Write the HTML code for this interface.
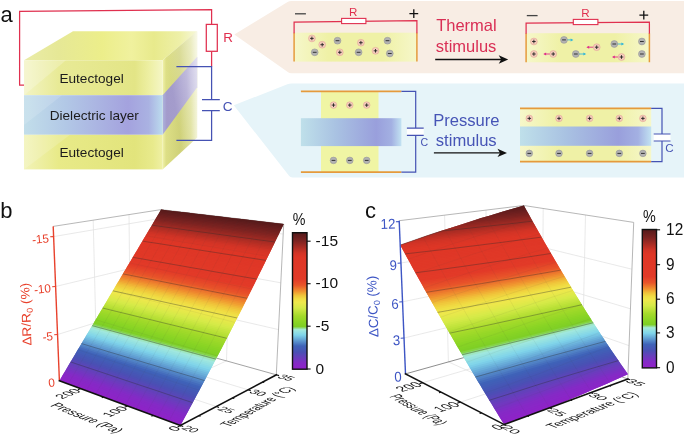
<!DOCTYPE html>
<html lang="en"><head><meta charset="utf-8"><title>Figure</title>
<style>
html,body{margin:0;padding:0;background:#fff;}
body{width:685px;height:436px;overflow:hidden;}
svg{display:block;font-family:'Liberation Sans', sans-serif;}
</style></head><body>
<svg width="685" height="436" viewBox="0 0 685 436">
<defs>
<linearGradient id="cm" x1="0" y1="1" x2="0" y2="0"><stop offset="0.0000" stop-color="#9022c8"/><stop offset="0.0450" stop-color="#842ac6"/><stop offset="0.0850" stop-color="#683ebc"/><stop offset="0.1250" stop-color="#4a50b4"/><stop offset="0.1700" stop-color="#3f63b8"/><stop offset="0.2500" stop-color="#7fd4ea"/><stop offset="0.2900" stop-color="#a4eadc"/><stop offset="0.3125" stop-color="#7ece26"/><stop offset="0.3400" stop-color="#88d424"/><stop offset="0.3900" stop-color="#a4da2a"/><stop offset="0.4500" stop-color="#d6ea48"/><stop offset="0.4900" stop-color="#eee84c"/><stop offset="0.5150" stop-color="#f0de44"/><stop offset="0.5400" stop-color="#f0c43a"/><stop offset="0.5700" stop-color="#f0942f"/><stop offset="0.6150" stop-color="#e8552a"/><stop offset="0.6600" stop-color="#e23a28"/><stop offset="0.8200" stop-color="#de3626"/><stop offset="0.8500" stop-color="#d23426"/><stop offset="0.9400" stop-color="#7c2321"/><stop offset="1.0000" stop-color="#541a1b"/></linearGradient>

<linearGradient id="gYelF" x1="0" y1="0" x2="1" y2="0">
 <stop offset="0" stop-color="#f3f4c4"/><stop offset="0.25" stop-color="#e8ea96"/>
 <stop offset="0.8" stop-color="#e3e586"/><stop offset="0.9" stop-color="#edefa2"/><stop offset="1" stop-color="#f5f6c6"/>
</linearGradient>
<linearGradient id="gYelF2" x1="0" y1="0" x2="1" y2="0">
 <stop offset="0" stop-color="#f2f3b8"/><stop offset="0.25" stop-color="#e8ea88"/>
 <stop offset="0.8" stop-color="#e2e47c"/><stop offset="0.93" stop-color="#e8ea8c"/><stop offset="1" stop-color="#eff0a4"/>
</linearGradient>
<linearGradient id="gDieF" x1="0" y1="0" x2="1" y2="0">
 <stop offset="0" stop-color="#c2deea"/><stop offset="0.3" stop-color="#b2c8e6"/>
 <stop offset="0.75" stop-color="#a4a2de"/><stop offset="0.9" stop-color="#aab2e2"/><stop offset="1" stop-color="#bcdcee"/>
</linearGradient>
<linearGradient id="gTop" x1="0" y1="0" x2="1" y2="0">
 <stop offset="0" stop-color="#eaeca8"/><stop offset="0.2" stop-color="#e6e896"/>
 <stop offset="0.45" stop-color="#ecee8a"/><stop offset="0.62" stop-color="#f0f19e"/>
 <stop offset="0.75" stop-color="#e8ea8c"/><stop offset="0.9" stop-color="#eef0a8"/><stop offset="1" stop-color="#f6f7d8"/>
</linearGradient>
<linearGradient id="gSideY" x1="0" y1="0" x2="1" y2="0">
 <stop offset="0" stop-color="#f1f2aa"/><stop offset="0.1" stop-color="#dddf86"/>
 <stop offset="0.5" stop-color="#cfd178"/><stop offset="0.82" stop-color="#dadc8e"/><stop offset="1" stop-color="#eeefc6"/>
</linearGradient>
<linearGradient id="gSideP" x1="0" y1="0" x2="1" y2="0">
 <stop offset="0" stop-color="#aeb2de"/><stop offset="0.12" stop-color="#a39bcb"/>
 <stop offset="0.7" stop-color="#a59dcd"/><stop offset="1" stop-color="#c2bee0"/>
</linearGradient>
<linearGradient id="gSideFade" x1="1" y1="0" x2="0.3" y2="0.45">
 <stop offset="0" stop-color="#ffffff" stop-opacity="0.6"/><stop offset="1" stop-color="#ffffff" stop-opacity="0"/>
</linearGradient>
<linearGradient id="gGel" x1="0" y1="0" x2="1" y2="0">
 <stop offset="0" stop-color="#f6f7ca"/><stop offset="0.28" stop-color="#eff1a6"/>
 <stop offset="0.72" stop-color="#eff1a6"/><stop offset="1" stop-color="#f6f7ca"/>
</linearGradient>
<linearGradient id="gDie2" x1="0" y1="0" x2="1" y2="0">
 <stop offset="0" stop-color="#bfe0ea"/><stop offset="0.35" stop-color="#a9c2e2"/>
 <stop offset="0.75" stop-color="#999fdc"/><stop offset="0.9" stop-color="#a3b0e2"/><stop offset="1" stop-color="#c2e2f2"/>
</linearGradient>

</defs>
<g id="panel-a">
<text x="0.5" y="21.6" font-size="22.0" fill="#111" text-anchor="start" >a</text>
<path d="M234.3,34.5 L287.6,2 Q289.2,1 291.5,1 L684,1 L684,73.2 L291.5,73.2 Q289.2,73.2 287.8,72 Z" fill="#f8ede4"/>
<path d="M233.8,105.3 L287.4,84.3 Q289.2,83.6 291.5,83.6 L684,83.6 L684,177.4 L292.5,177.4 Q290.2,177.4 289,175.8 Z" fill="#e6f4f9"/>
<polygon points="24.0,60.3 162.6,60.3 197.2,31.2 73.0,31.2" fill="url(#gTop)"/>
<polygon points="162.6,60.3 197.2,31.2 197.2,137.6 162.6,169.4" fill="url(#gSideY)"/>
<polygon points="162.6,95.2 197.2,56.8 197.2,87.3 162.6,134.8" fill="url(#gSideP)"/>
<polygon points="162.6,60.3 197.2,31.2 197.2,137.6 162.6,169.4" fill="url(#gSideFade)"/>
<rect x="24.0" y="60.3" width="138.6" height="34.9" fill="url(#gYelF)"/>
<rect x="24.0" y="95.2" width="138.6" height="39.6" fill="url(#gDieF)"/>
<rect x="24.0" y="134.8" width="138.6" height="34.6" fill="url(#gYelF2)"/>
<polygon points="24.0,60.3 66.0,60.3 24.0,95.2" fill="#ffffff" opacity="0.22"/>
<polygon points="24.0,134.8 70.0,134.8 24.0,169.4" fill="#ffffff" opacity="0.16"/>
<polygon points="24.0,95.2 62.0,95.2 24.0,125.0" fill="#ffffff" opacity="0.14"/>
<text x="91.6" y="83.2" font-size="13.6" fill="#1c1c1c" text-anchor="middle" >Eutectogel</text>
<text x="94.3" y="119.9" font-size="13.6" fill="#1c1c1c" text-anchor="middle" >Dielectric layer</text>
<text x="91.6" y="156.6" font-size="13.6" fill="#1c1c1c" text-anchor="middle" >Eutectogel</text>
<path d="M24,85 L19.6,85 L19.6,11.4 L211.6,9.6 L211.6,24.4 M211.6,51.3 L211.6,66.6" fill="none" stroke="#e0304f" stroke-width="1.25"/>
<rect x="206.3" y="24.4" width="11" height="26.9" fill="#fff" stroke="#e0304f" stroke-width="1.25"/>
<text x="223.2" y="42.2" font-size="13.4" fill="#e0304f" text-anchor="start" >R</text>
<path d="M176.4,66.6 L211.6,66.6 L211.6,99.6 M202,99.6 L219.8,99.6 M202,110.6 L219.8,110.6 M211.6,110.6 L211.6,140.3 L176.4,140.3" fill="none" stroke="#4552b3" stroke-width="1.25"/>
<text x="222.8" y="110.9" font-size="13.6" fill="#4552b3" text-anchor="start" >C</text>
<rect x="294.1" y="32.7" width="122.8" height="28.9" fill="url(#gGel)"/>
<path d="M294.1,32.7 L294.1,61.6 M416.9,32.7 L416.9,61.6" stroke="#e59a3c" stroke-width="1.5" fill="none"/>
<path d="M294.1,33.2 L294.1,22.1 L416.9,20.7 L416.9,33.2" stroke="#e0304f" stroke-width="1.25" fill="none"/>
<rect x="341.6" y="18.4" width="24.3" height="5.2" fill="#fff" stroke="#e0304f" stroke-width="1.1"/>
<text x="353.2" y="15.6" font-size="11.6" fill="#e0304f" text-anchor="middle" >R</text>
<path d="M295.0,13.8 L305.9,13.8" stroke="#444" stroke-width="1.3"/>
<path d="M409.4,13.7 h8.8 M413.8,9.3 v8.8" stroke="#111" stroke-width="1.3" fill="none"/>
<circle cx="311.9" cy="38.4" r="3.4" fill="#f6cdbd" stroke="#e3a596" stroke-width="0.6"/><path d="M310.1,38.4 h3.6 M311.9,36.6 v3.6" stroke="#222" stroke-width="0.9" fill="none"/>
<circle cx="322.2" cy="44.7" r="3.4" fill="#f6cdbd" stroke="#e3a596" stroke-width="0.6"/><path d="M320.4,44.7 h3.6 M322.2,42.9 v3.6" stroke="#222" stroke-width="0.9" fill="none"/>
<circle cx="337.5" cy="40.7" r="3.4" fill="#b2b2b2" stroke="#979797" stroke-width="0.6"/><path d="M335.6,40.7 h3.8" stroke="#333" stroke-width="1" fill="none"/>
<circle cx="314.7" cy="52.3" r="3.4" fill="#b2b2b2" stroke="#979797" stroke-width="0.6"/><path d="M312.8,52.3 h3.8" stroke="#333" stroke-width="1" fill="none"/>
<circle cx="339.8" cy="52.3" r="3.4" fill="#f6cdbd" stroke="#e3a596" stroke-width="0.6"/><path d="M338.0,52.3 h3.6 M339.8,50.5 v3.6" stroke="#222" stroke-width="0.9" fill="none"/>
<circle cx="360.9" cy="42.7" r="3.4" fill="#f6cdbd" stroke="#e3a596" stroke-width="0.6"/><path d="M359.1,42.7 h3.6 M360.9,40.9 v3.6" stroke="#222" stroke-width="0.9" fill="none"/>
<circle cx="358.6" cy="52.3" r="3.4" fill="#b2b2b2" stroke="#979797" stroke-width="0.6"/><path d="M356.7,52.3 h3.8" stroke="#333" stroke-width="1" fill="none"/>
<circle cx="375.5" cy="50.8" r="3.4" fill="#f6cdbd" stroke="#e3a596" stroke-width="0.6"/><path d="M373.7,50.8 h3.6 M375.5,49.0 v3.6" stroke="#222" stroke-width="0.9" fill="none"/>
<circle cx="387.5" cy="40.7" r="3.4" fill="#b2b2b2" stroke="#979797" stroke-width="0.6"/><path d="M385.6,40.7 h3.8" stroke="#333" stroke-width="1" fill="none"/>
<circle cx="389.8" cy="53.5" r="3.4" fill="#b2b2b2" stroke="#979797" stroke-width="0.6"/><path d="M387.9,53.5 h3.8" stroke="#333" stroke-width="1" fill="none"/>
<text x="436.2" y="31.4" font-size="16.5" fill="#d92f55" text-anchor="start" >Thermal</text>
<text x="435.8" y="52.0" font-size="16.5" fill="#d92f55" text-anchor="start" >stimulus</text>
<path d="M435.2,59.5 L503.2,59.5" stroke="#111" stroke-width="1.3" fill="none"/><polygon points="508.2,59.5 498.7,55.3 501.2,59.5 498.7,63.7" fill="#111"/>
<rect x="526.1" y="33.2" width="123.3" height="29.1" fill="url(#gGel)"/>
<path d="M526.1,33.2 L526.1,62.3 M649.4,33.2 L649.4,62.3" stroke="#e59a3c" stroke-width="1.5" fill="none"/>
<path d="M526.1,33.7 L526.1,23.1 L649.4,22.1 L649.4,33.7" stroke="#e0304f" stroke-width="1.25" fill="none"/>
<rect x="573.3" y="19.4" width="24.6" height="5.2" fill="#fff" stroke="#e0304f" stroke-width="1.1"/>
<text x="585.4" y="16.6" font-size="11.6" fill="#e0304f" text-anchor="middle" >R</text>
<path d="M526.8,15.6 L537.6,15.6" stroke="#444" stroke-width="1.3"/>
<path d="M639.4,15.1 h8.8 M643.8,10.7 v8.8" stroke="#111" stroke-width="1.3" fill="none"/>
<path d="M566.0,39.9 L572.2,39.9" stroke="#35b8d8" stroke-width="0.9" fill="none"/><polygon points="573.4,39.9 570.6,38.4 570.6,41.4" fill="#35b8d8"/>
<path d="M552.0,54.0 L544.5,54.0" stroke="#e0308a" stroke-width="0.9" fill="none"/><polygon points="543.3,54.0 546.1,52.5 546.1,55.5" fill="#e0308a"/>
<path d="M578.0,54.0 L585.0,54.0" stroke="#35b8d8" stroke-width="0.9" fill="none"/><polygon points="586.2,54.0 583.4,52.5 583.4,55.5" fill="#35b8d8"/>
<path d="M595.0,47.2 L587.6,47.2" stroke="#e0308a" stroke-width="0.9" fill="none"/><polygon points="586.4,47.2 589.2,45.7 589.2,48.7" fill="#e0308a"/>
<path d="M616.0,44.0 L623.0,44.0" stroke="#35b8d8" stroke-width="0.9" fill="none"/><polygon points="624.2,44.0 621.4,42.5 621.4,45.5" fill="#35b8d8"/>
<path d="M620.0,57.0 L613.2,57.0" stroke="#e0308a" stroke-width="0.9" fill="none"/><polygon points="612.0,57.0 614.8,55.5 614.8,58.5" fill="#e0308a"/>
<circle cx="533.9" cy="41.5" r="3.4" fill="#f6cdbd" stroke="#e3a596" stroke-width="0.6"/><path d="M532.1,41.5 h3.6 M533.9,39.7 v3.6" stroke="#222" stroke-width="0.9" fill="none"/>
<circle cx="533.9" cy="54.0" r="3.4" fill="#f6cdbd" stroke="#e3a596" stroke-width="0.6"/><path d="M532.1,54.0 h3.6 M533.9,52.2 v3.6" stroke="#222" stroke-width="0.9" fill="none"/>
<circle cx="564.0" cy="39.9" r="3.4" fill="#b2b2b2" stroke="#979797" stroke-width="0.6"/><path d="M562.1,39.9 h3.8" stroke="#333" stroke-width="1" fill="none"/>
<circle cx="553.2" cy="54.0" r="3.4" fill="#f6cdbd" stroke="#e3a596" stroke-width="0.6"/><path d="M551.4,54.0 h3.6 M553.2,52.2 v3.6" stroke="#222" stroke-width="0.9" fill="none"/>
<circle cx="575.8" cy="54.0" r="3.4" fill="#b2b2b2" stroke="#979797" stroke-width="0.6"/><path d="M573.9,54.0 h3.8" stroke="#333" stroke-width="1" fill="none"/>
<circle cx="596.7" cy="47.2" r="3.4" fill="#f6cdbd" stroke="#e3a596" stroke-width="0.6"/><path d="M594.9,47.2 h3.6 M596.7,45.4 v3.6" stroke="#222" stroke-width="0.9" fill="none"/>
<circle cx="614.3" cy="44.0" r="3.4" fill="#b2b2b2" stroke="#979797" stroke-width="0.6"/><path d="M612.4,44.0 h3.8" stroke="#333" stroke-width="1" fill="none"/>
<circle cx="621.5" cy="57.0" r="3.4" fill="#f6cdbd" stroke="#e3a596" stroke-width="0.6"/><path d="M619.7,57.0 h3.6 M621.5,55.2 v3.6" stroke="#222" stroke-width="0.9" fill="none"/>
<circle cx="641.9" cy="41.5" r="3.4" fill="#b2b2b2" stroke="#979797" stroke-width="0.6"/><path d="M640.0,41.5 h3.8" stroke="#333" stroke-width="1" fill="none"/>
<circle cx="641.9" cy="54.0" r="3.4" fill="#b2b2b2" stroke="#979797" stroke-width="0.6"/><path d="M640.0,54.0 h3.8" stroke="#333" stroke-width="1" fill="none"/>
<rect x="321" y="91.3" width="57.5" height="80.9" fill="#f0f5a4"/>
<rect x="300.9" y="118.2" width="100.5" height="27.9" fill="url(#gDie2)"/>
<path d="M300.9,91.3 L401.4,91.3 M300.9,172.2 L401.4,172.2" stroke="#e59a3c" stroke-width="1.8"/>
<path d="M401.4,91.3 L415.7,91.3 L415.7,128.2 M415.7,135.3 L415.7,172.2 L401.4,172.2" stroke="#4552b3" stroke-width="1.2" fill="none"/>
<rect x="406.9" y="128.2" width="16.8" height="7.1" fill="#fff"/>
<path d="M406.9,128.2 L423.7,128.2 M406.9,135.3 L423.7,135.3" stroke="#4552b3" stroke-width="1.2"/>
<text x="420.4" y="146.4" font-size="10.6" fill="#4552b3" text-anchor="start" >C</text>
<circle cx="333.5" cy="105.1" r="3.3" fill="#f6cdbd" stroke="#e3a596" stroke-width="0.6"/><path d="M331.7,105.1 h3.6 M333.5,103.3 v3.6" stroke="#222" stroke-width="0.9" fill="none"/>
<circle cx="333.5" cy="160.4" r="3.3" fill="#b2b2b2" stroke="#979797" stroke-width="0.6"/><path d="M331.6,160.4 h3.8" stroke="#333" stroke-width="1" fill="none"/>
<circle cx="349.8" cy="105.1" r="3.3" fill="#f6cdbd" stroke="#e3a596" stroke-width="0.6"/><path d="M348.0,105.1 h3.6 M349.8,103.3 v3.6" stroke="#222" stroke-width="0.9" fill="none"/>
<circle cx="349.8" cy="160.4" r="3.3" fill="#b2b2b2" stroke="#979797" stroke-width="0.6"/><path d="M347.9,160.4 h3.8" stroke="#333" stroke-width="1" fill="none"/>
<circle cx="366.7" cy="105.1" r="3.3" fill="#f6cdbd" stroke="#e3a596" stroke-width="0.6"/><path d="M364.9,105.1 h3.6 M366.7,103.3 v3.6" stroke="#222" stroke-width="0.9" fill="none"/>
<circle cx="366.7" cy="160.4" r="3.3" fill="#b2b2b2" stroke="#979797" stroke-width="0.6"/><path d="M364.8,160.4 h3.8" stroke="#333" stroke-width="1" fill="none"/>
<text x="433.2" y="125.8" font-size="16.6" fill="#4654b6" text-anchor="start" >Pressure</text>
<text x="435.8" y="145.9" font-size="16.6" fill="#4654b6" text-anchor="start" >stimulus</text>
<path d="M433.9,152.9 L502.0,152.9" stroke="#111" stroke-width="1.3" fill="none"/><polygon points="507.0,152.9 497.5,148.7 500.0,152.9 497.5,157.1" fill="#111"/>
<rect x="520" y="108.4" width="131.2" height="53.3" fill="url(#gGel)"/>
<rect x="520" y="126.5" width="131.2" height="19.3" fill="url(#gDie2)"/>
<path d="M520,108.4 L651.2,108.4 M520,161.7 L651.2,161.7" stroke="#e59a3c" stroke-width="1.8"/>
<path d="M651.2,108.4 L662,108.4 L662,134 M662,141 L662,161.7 L651.2,161.7" stroke="#4552b3" stroke-width="1.2" fill="none"/>
<rect x="653.7" y="134" width="16.8" height="7" fill="#fff"/>
<path d="M653.7,134 L670.5,134 M653.7,141 L670.5,141" stroke="#4552b3" stroke-width="1.2"/>
<text x="665.2" y="152.4" font-size="11.6" fill="#4552b3" text-anchor="start" >C</text>
<circle cx="529.3" cy="118.4" r="3.3" fill="#f6cdbd" stroke="#e3a596" stroke-width="0.6"/><path d="M527.5,118.4 h3.6 M529.3,116.6 v3.6" stroke="#222" stroke-width="0.9" fill="none"/>
<circle cx="529.3" cy="153.4" r="3.3" fill="#b2b2b2" stroke="#979797" stroke-width="0.6"/><path d="M527.4,153.4 h3.8" stroke="#333" stroke-width="1" fill="none"/>
<circle cx="559.0" cy="118.4" r="3.3" fill="#f6cdbd" stroke="#e3a596" stroke-width="0.6"/><path d="M557.2,118.4 h3.6 M559.0,116.6 v3.6" stroke="#222" stroke-width="0.9" fill="none"/>
<circle cx="559.0" cy="153.4" r="3.3" fill="#b2b2b2" stroke="#979797" stroke-width="0.6"/><path d="M557.1,153.4 h3.8" stroke="#333" stroke-width="1" fill="none"/>
<circle cx="589.6" cy="118.4" r="3.3" fill="#f6cdbd" stroke="#e3a596" stroke-width="0.6"/><path d="M587.8,118.4 h3.6 M589.6,116.6 v3.6" stroke="#222" stroke-width="0.9" fill="none"/>
<circle cx="589.6" cy="153.4" r="3.3" fill="#b2b2b2" stroke="#979797" stroke-width="0.6"/><path d="M587.7,153.4 h3.8" stroke="#333" stroke-width="1" fill="none"/>
<circle cx="619.3" cy="118.4" r="3.3" fill="#f6cdbd" stroke="#e3a596" stroke-width="0.6"/><path d="M617.5,118.4 h3.6 M619.3,116.6 v3.6" stroke="#222" stroke-width="0.9" fill="none"/>
<circle cx="619.3" cy="153.4" r="3.3" fill="#b2b2b2" stroke="#979797" stroke-width="0.6"/><path d="M617.4,153.4 h3.8" stroke="#333" stroke-width="1" fill="none"/>
<circle cx="642.9" cy="118.4" r="3.3" fill="#f6cdbd" stroke="#e3a596" stroke-width="0.6"/><path d="M641.1,118.4 h3.6 M642.9,116.6 v3.6" stroke="#222" stroke-width="0.9" fill="none"/>
<circle cx="642.9" cy="153.4" r="3.3" fill="#b2b2b2" stroke="#979797" stroke-width="0.6"/><path d="M641.0,153.4 h3.8" stroke="#333" stroke-width="1" fill="none"/>
</g>
<text x="0.3" y="217.6" font-size="22.0" fill="#111" text-anchor="start" >b</text>
<g id="plot-b">
<line x1="57.6" y1="334.5" x2="161.0" y2="302.5" stroke="#e0e0e0" stroke-width="0.70" /><line x1="161.0" y1="302.5" x2="278.5" y2="329.6" stroke="#e0e0e0" stroke-width="0.70" /><line x1="55.6" y1="286.5" x2="161.1" y2="261.1" stroke="#e0e0e0" stroke-width="0.70" /><line x1="161.1" y1="261.1" x2="280.8" y2="282.8" stroke="#e0e0e0" stroke-width="0.70" /><line x1="53.6" y1="236.6" x2="161.1" y2="218.3" stroke="#e0e0e0" stroke-width="0.70" /><line x1="161.1" y1="218.3" x2="283.2" y2="234.1" stroke="#e0e0e0" stroke-width="0.70" /><line x1="96.8" y1="366.7" x2="93.2" y2="220.2" stroke="#e0e0e0" stroke-width="0.70" /><line x1="96.8" y1="366.7" x2="216.3" y2="406.5" stroke="#e0e0e0" stroke-width="0.70" /><line x1="130.5" y1="354.0" x2="129.0" y2="214.6" stroke="#e0e0e0" stroke-width="0.70" /><line x1="130.5" y1="354.0" x2="248.0" y2="389.8" stroke="#e0e0e0" stroke-width="0.70" /><line x1="226.5" y1="360.9" x2="230.6" y2="217.8" stroke="#e0e0e0" stroke-width="0.70" /><line x1="127.5" y1="405.9" x2="226.5" y2="360.9" stroke="#e0e0e0" stroke-width="0.70" /><line x1="181.7" y1="348.4" x2="183.1" y2="212.2" stroke="#e0e0e0" stroke-width="0.70" /><line x1="80.8" y1="388.6" x2="181.7" y2="348.4" stroke="#e0e0e0" stroke-width="0.70" />
<line x1="53.2" y1="226.4" x2="161.1" y2="209.6" stroke="#a4a4a4" stroke-width="0.80" /><line x1="161.1" y1="209.6" x2="283.7" y2="224.1" stroke="#a4a4a4" stroke-width="0.80" /><line x1="283.7" y1="224.1" x2="276.3" y2="374.8" stroke="#a4a4a4" stroke-width="0.80" /><line x1="161.1" y1="209.6" x2="160.9" y2="342.6" stroke="#a4a4a4" stroke-width="0.80" /><line x1="160.9" y1="342.6" x2="276.3" y2="374.8" stroke="#8c8c8c" stroke-width="0.80" /><line x1="160.9" y1="342.6" x2="59.4" y2="380.7" stroke="#787878" stroke-width="0.85" />
<g shape-rendering="geometricPrecision"><polygon points="180.4,425.5 171.7,422.3 163.1,419.1 154.7,416.0 146.5,412.9 138.5,410.0 130.6,407.0 122.8,404.2 115.3,401.4 107.8,398.6 100.5,395.9 93.3,393.3 86.3,390.6 79.4,388.1 72.6,385.6 66.0,383.1 59.4,380.7 61.2,377.7 67.7,380.1 74.4,382.6 81.2,385.0 88.1,387.6 95.2,390.1 102.3,392.7 109.7,395.4 117.1,398.1 124.7,400.9 132.5,403.7 140.4,406.6 148.4,409.5 156.6,412.5 165.0,415.6 173.6,418.7 182.3,421.9" fill="#8f23c8"/><polygon points="181.4,423.7 172.6,420.5 164.1,417.3 155.7,414.3 147.5,411.2 139.4,408.3 131.5,405.4 123.8,402.5 116.2,399.7 108.7,397.0 101.4,394.3 94.3,391.7 87.2,389.1 80.3,386.6 73.5,384.1 66.8,381.6 60.3,379.2 62.1,376.3 68.6,378.6 75.3,381.0 82.1,383.5 89.0,386.0 96.1,388.6 103.3,391.2 110.6,393.8 118.0,396.5 125.6,399.2 133.4,402.1 141.3,404.9 149.4,407.8 157.6,410.8 166.0,413.8 174.6,416.9 183.3,420.1" fill="#8d24c7"/><polygon points="182.3,421.9 173.6,418.7 165.0,415.6 156.6,412.5 148.4,409.5 140.4,406.6 132.5,403.7 124.7,400.9 117.1,398.1 109.7,395.4 102.3,392.7 95.2,390.1 88.1,387.6 81.2,385.0 74.4,382.6 67.7,380.1 61.2,377.7 62.9,374.8 69.5,377.1 76.2,379.5 83.0,382.0 89.9,384.5 97.0,387.0 104.2,389.6 111.5,392.2 119.0,394.9 126.6,397.6 134.3,400.4 142.2,403.2 150.3,406.1 158.6,409.1 166.9,412.1 175.5,415.2 184.3,418.3" fill="#8b25c7"/><polygon points="183.3,420.1 174.6,416.9 166.0,413.8 157.6,410.8 149.4,407.8 141.3,404.9 133.4,402.1 125.6,399.2 118.0,396.5 110.6,393.8 103.3,391.2 96.1,388.6 89.0,386.0 82.1,383.5 75.3,381.0 68.6,378.6 62.1,376.3 63.8,373.3 70.4,375.7 77.1,378.0 83.9,380.5 90.8,382.9 97.9,385.4 105.1,388.0 112.4,390.6 119.9,393.3 127.5,396.0 135.3,398.7 143.2,401.6 151.3,404.4 159.5,407.4 167.9,410.3 176.5,413.4 185.2,416.5" fill="#8927c7"/><polygon points="184.3,418.3 175.5,415.2 166.9,412.1 158.6,409.1 150.3,406.1 142.2,403.2 134.3,400.4 126.6,397.6 119.0,394.9 111.5,392.2 104.2,389.6 97.0,387.0 89.9,384.5 83.0,382.0 76.2,379.5 69.5,377.1 62.9,374.8 64.7,371.9 71.3,374.2 77.9,376.5 84.8,378.9 91.7,381.4 98.8,383.9 106.0,386.4 113.3,389.0 120.8,391.7 128.4,394.4 136.2,397.1 144.1,399.9 152.2,402.7 160.4,405.6 168.9,408.6 177.4,411.6 186.2,414.7" fill="#8728c6"/><polygon points="185.2,416.5 176.5,413.4 167.9,410.3 159.5,407.4 151.3,404.4 143.2,401.6 135.3,398.7 127.5,396.0 119.9,393.3 112.4,390.6 105.1,388.0 97.9,385.4 90.8,382.9 83.9,380.5 77.1,378.0 70.4,375.7 63.8,373.3 65.5,370.4 72.1,372.7 78.8,375.0 85.7,377.4 92.6,379.9 99.7,382.3 106.9,384.9 114.2,387.4 121.7,390.1 129.4,392.7 137.1,395.4 145.1,398.2 153.1,401.0 161.4,403.9 169.8,406.9 178.4,409.9 187.2,412.9" fill="#852ac6"/><polygon points="186.2,414.7 177.4,411.6 168.9,408.6 160.4,405.6 152.2,402.7 144.1,399.9 136.2,397.1 128.4,394.4 120.8,391.7 113.3,389.0 106.0,386.4 98.8,383.9 91.7,381.4 84.8,378.9 77.9,376.5 71.3,374.2 64.7,371.9 66.4,368.9 73.0,371.2 79.7,373.5 86.5,375.9 93.5,378.3 100.6,380.8 107.8,383.3 115.1,385.9 122.6,388.5 130.3,391.1 138.1,393.8 146.0,396.6 154.1,399.4 162.3,402.2 170.8,405.1 179.3,408.1 188.1,411.2" fill="#802dc5"/><polygon points="187.2,412.9 178.4,409.9 169.8,406.9 161.4,403.9 153.1,401.0 145.1,398.2 137.1,395.4 129.4,392.7 121.7,390.1 114.2,387.4 106.9,384.9 99.7,382.3 92.6,379.9 85.7,377.4 78.8,375.0 72.1,372.7 65.5,370.4 67.3,367.5 73.9,369.7 80.6,372.1 87.4,374.4 94.4,376.8 101.5,379.2 108.7,381.7 116.1,384.3 123.6,386.9 131.2,389.5 139.0,392.2 146.9,394.9 155.0,397.7 163.3,400.5 171.7,403.4 180.3,406.4 189.1,409.4" fill="#7a31c3"/><polygon points="188.1,411.2 179.3,408.1 170.8,405.1 162.3,402.2 154.1,399.4 146.0,396.6 138.1,393.8 130.3,391.1 122.6,388.5 115.1,385.9 107.8,383.3 100.6,380.8 93.5,378.3 86.5,375.9 79.7,373.5 73.0,371.2 66.4,368.9 68.1,366.0 74.8,368.3 81.5,370.6 88.3,372.9 95.3,375.3 102.4,377.7 109.6,380.2 117.0,382.7 124.5,385.3 132.1,387.9 139.9,390.5 147.9,393.2 156.0,396.0 164.2,398.8 172.6,401.7 181.2,404.6 190.0,407.6" fill="#7535c1"/><polygon points="189.1,409.4 180.3,406.4 171.7,403.4 163.3,400.5 155.0,397.7 146.9,394.9 139.0,392.2 131.2,389.5 123.6,386.9 116.1,384.3 108.7,381.7 101.5,379.2 94.4,376.8 87.4,374.4 80.6,372.1 73.9,369.7 67.3,367.5 69.0,364.6 75.6,366.8 82.3,369.1 89.2,371.4 96.2,373.8 103.3,376.2 110.5,378.6 117.9,381.1 125.4,383.7 133.0,386.3 140.8,388.9 148.8,391.6 156.9,394.3 165.2,397.1 173.6,400.0 182.2,402.9 191.0,405.9" fill="#7039bf"/><polygon points="190.0,407.6 181.2,404.6 172.6,401.7 164.2,398.8 156.0,396.0 147.9,393.2 139.9,390.5 132.1,387.9 124.5,385.3 117.0,382.7 109.6,380.2 102.4,377.7 95.3,375.3 88.3,372.9 81.5,370.6 74.8,368.3 68.1,366.0 69.9,363.1 76.5,365.3 83.2,367.6 90.1,369.9 97.1,372.2 104.2,374.6 111.4,377.1 118.8,379.5 126.3,382.1 133.9,384.6 141.7,387.3 149.7,389.9 157.8,392.7 166.1,395.4 174.5,398.3 183.1,401.2 191.9,404.1" fill="#6a3dbd"/><polygon points="191.0,405.9 182.2,402.9 173.6,400.0 165.2,397.1 156.9,394.3 148.8,391.6 140.8,388.9 133.0,386.3 125.4,383.7 117.9,381.1 110.5,378.6 103.3,376.2 96.2,373.8 89.2,371.4 82.3,369.1 75.6,366.8 69.0,364.6 70.7,361.7 77.4,363.9 84.1,366.1 91.0,368.4 97.9,370.7 105.1,373.1 112.3,375.5 119.7,378.0 127.2,380.5 134.9,383.0 142.7,385.6 150.6,388.3 158.7,391.0 167.0,393.7 175.5,396.6 184.1,399.4 192.9,402.4" fill="#6440bb"/><polygon points="191.9,404.1 183.1,401.2 174.5,398.3 166.1,395.4 157.8,392.7 149.7,389.9 141.7,387.3 133.9,384.6 126.3,382.1 118.8,379.5 111.4,377.1 104.2,374.6 97.1,372.2 90.1,369.9 83.2,367.6 76.5,365.3 69.9,363.1 71.6,360.2 78.2,362.4 85.0,364.6 91.8,366.9 98.8,369.2 105.9,371.6 113.2,374.0 120.6,376.4 128.1,378.9 135.8,381.4 143.6,384.0 151.5,386.6 159.7,389.3 167.9,392.1 176.4,394.9 185.0,397.7 193.8,400.6" fill="#5f44b9"/><polygon points="192.9,402.4 184.1,399.4 175.5,396.6 167.0,393.7 158.7,391.0 150.6,388.3 142.7,385.6 134.9,383.0 127.2,380.5 119.7,378.0 112.3,375.5 105.1,373.1 97.9,370.7 91.0,368.4 84.1,366.1 77.4,363.9 70.7,361.7 72.5,358.8 79.1,360.9 85.8,363.2 92.7,365.4 99.7,367.7 106.8,370.0 114.1,372.4 121.5,374.8 129.0,377.3 136.7,379.8 144.5,382.4 152.5,385.0 160.6,387.7 168.9,390.4 177.3,393.1 185.9,396.0 194.7,398.9" fill="#5947b8"/><polygon points="193.8,400.6 185.0,397.7 176.4,394.9 167.9,392.1 159.7,389.3 151.5,386.6 143.6,384.0 135.8,381.4 128.1,378.9 120.6,376.4 113.2,374.0 105.9,371.6 98.8,369.2 91.8,366.9 85.0,364.6 78.2,362.4 71.6,360.2 73.3,357.3 80.0,359.5 86.7,361.7 93.6,363.9 100.6,366.2 107.7,368.5 115.0,370.9 122.4,373.3 129.9,375.7 137.6,378.2 145.4,380.8 153.4,383.4 161.5,386.0 169.8,388.7 178.3,391.4 186.9,394.3 195.7,397.1" fill="#534bb6"/><polygon points="194.7,398.9 185.9,396.0 177.3,393.1 168.9,390.4 160.6,387.7 152.5,385.0 144.5,382.4 136.7,379.8 129.0,377.3 121.5,374.8 114.1,372.4 106.8,370.0 99.7,367.7 92.7,365.4 85.8,363.2 79.1,360.9 72.5,358.8 74.2,355.9 80.8,358.0 87.6,360.2 94.5,362.4 101.5,364.7 108.6,367.0 115.9,369.3 123.3,371.7 130.8,374.2 138.5,376.6 146.3,379.2 154.3,381.7 162.4,384.4 170.7,387.0 179.2,389.8 187.8,392.5 196.6,395.4" fill="#4d4eb5"/><polygon points="195.7,397.1 186.9,394.3 178.3,391.4 169.8,388.7 161.5,386.0 153.4,383.4 145.4,380.8 137.6,378.2 129.9,375.7 122.4,373.3 115.0,370.9 107.7,368.5 100.6,366.2 93.6,363.9 86.7,361.7 80.0,359.5 73.3,357.3 75.0,354.4 81.7,356.6 88.4,358.7 95.3,360.9 102.3,363.2 109.5,365.5 116.7,367.8 124.2,370.2 131.7,372.6 139.4,375.0 147.2,377.5 155.2,380.1 163.3,382.7 171.6,385.4 180.1,388.1 188.7,390.8 197.5,393.6" fill="#4952b4"/><polygon points="196.6,395.4 187.8,392.5 179.2,389.8 170.7,387.0 162.4,384.4 154.3,381.7 146.3,379.2 138.5,376.6 130.8,374.2 123.3,371.7 115.9,369.3 108.6,367.0 101.5,364.7 94.5,362.4 87.6,360.2 80.8,358.0 74.2,355.9 75.9,353.0 82.5,355.1 89.3,357.3 96.2,359.5 103.2,361.7 110.4,364.0 117.6,366.3 125.0,368.6 132.6,371.0 140.3,373.5 148.1,375.9 156.1,378.5 164.3,381.1 172.6,383.7 181.0,386.4 189.7,389.1 198.5,391.9" fill="#4755b5"/><polygon points="197.5,393.6 188.7,390.8 180.1,388.1 171.6,385.4 163.3,382.7 155.2,380.1 147.2,377.5 139.4,375.0 131.7,372.6 124.2,370.2 116.7,367.8 109.5,365.5 102.3,363.2 95.3,360.9 88.4,358.7 81.7,356.6 75.0,354.4 76.7,351.6 83.4,353.7 90.2,355.8 97.1,358.0 104.1,360.2 111.2,362.4 118.5,364.7 125.9,367.1 133.5,369.4 141.2,371.9 149.0,374.3 157.0,376.9 165.2,379.4 173.5,382.0 181.9,384.7 190.6,387.4 199.4,390.2" fill="#4558b6"/><polygon points="198.5,391.9 189.7,389.1 181.0,386.4 172.6,383.7 164.3,381.1 156.1,378.5 148.1,375.9 140.3,373.5 132.6,371.0 125.0,368.6 117.6,366.3 110.4,364.0 103.2,361.7 96.2,359.5 89.3,357.3 82.5,355.1 75.9,353.0 77.6,350.1 84.2,352.2 91.0,354.3 97.9,356.5 105.0,358.7 112.1,360.9 119.4,363.2 126.8,365.5 134.4,367.9 142.1,370.3 149.9,372.7 157.9,375.2 166.1,377.8 174.4,380.4 182.9,383.0 191.5,385.7 200.3,388.5" fill="#435cb6"/><polygon points="199.4,390.2 190.6,387.4 181.9,384.7 173.5,382.0 165.2,379.4 157.0,376.9 149.0,374.3 141.2,371.9 133.5,369.4 125.9,367.1 118.5,364.7 111.2,362.4 104.1,360.2 97.1,358.0 90.2,355.8 83.4,353.7 76.7,351.6 78.4,348.7 85.1,350.8 91.9,352.9 98.8,355.0 105.8,357.2 113.0,359.4 120.3,361.7 127.7,364.0 135.3,366.3 143.0,368.7 150.8,371.1 158.8,373.6 167.0,376.1 175.3,378.7 183.8,381.3 192.4,384.0 201.2,386.7" fill="#415fb7"/><polygon points="200.3,388.5 191.5,385.7 182.9,383.0 174.4,380.4 166.1,377.8 157.9,375.2 149.9,372.7 142.1,370.3 134.4,367.9 126.8,365.5 119.4,363.2 112.1,360.9 105.0,358.7 97.9,356.5 91.0,354.3 84.2,352.2 77.6,350.1 79.3,347.3 86.0,349.3 92.7,351.4 99.7,353.6 106.7,355.7 113.9,357.9 121.2,360.2 128.6,362.4 136.1,364.8 143.9,367.1 151.7,369.5 159.7,372.0 167.9,374.5 176.2,377.1 184.7,379.7 193.3,382.3 202.2,385.0" fill="#3f62b8"/><polygon points="201.2,386.7 192.4,384.0 183.8,381.3 175.3,378.7 167.0,376.1 158.8,373.6 150.8,371.1 143.0,368.7 135.3,366.3 127.7,364.0 120.3,361.7 113.0,359.4 105.8,357.2 98.8,355.0 91.9,352.9 85.1,350.8 78.4,348.7 80.1,345.9 86.8,347.9 93.6,350.0 100.5,352.1 107.6,354.2 114.7,356.4 122.0,358.6 129.5,360.9 137.0,363.2 144.7,365.6 152.6,368.0 160.6,370.4 168.8,372.9 177.1,375.4 185.6,378.0 194.3,380.6 203.1,383.3" fill="#446bbc"/><polygon points="202.2,385.0 193.3,382.3 184.7,379.7 176.2,377.1 167.9,374.5 159.7,372.0 151.7,369.5 143.9,367.1 136.1,364.8 128.6,362.4 121.2,360.2 113.9,357.9 106.7,355.7 99.7,353.6 92.7,351.4 86.0,349.3 79.3,347.3 81.0,344.4 87.7,346.5 94.5,348.5 101.4,350.6 108.4,352.8 115.6,354.9 122.9,357.1 130.3,359.4 137.9,361.7 145.6,364.0 153.5,366.4 161.5,368.8 169.7,371.3 178.0,373.8 186.5,376.3 195.2,378.9 204.0,381.6" fill="#4a76c0"/><polygon points="203.1,383.3 194.3,380.6 185.6,378.0 177.1,375.4 168.8,372.9 160.6,370.4 152.6,368.0 144.7,365.6 137.0,363.2 129.5,360.9 122.0,358.6 114.7,356.4 107.6,354.2 100.5,352.1 93.6,350.0 86.8,347.9 80.1,345.9 81.8,343.0 88.5,345.0 95.3,347.1 102.2,349.2 109.3,351.3 116.5,353.4 123.8,355.6 131.2,357.8 138.8,360.1 146.5,362.4 154.4,364.8 162.4,367.2 170.6,369.6 178.9,372.1 187.4,374.7 196.1,377.3 204.9,379.9" fill="#5081c5"/><polygon points="204.0,381.6 195.2,378.9 186.5,376.3 178.0,373.8 169.7,371.3 161.5,368.8 153.5,366.4 145.6,364.0 137.9,361.7 130.3,359.4 122.9,357.1 115.6,354.9 108.4,352.8 101.4,350.6 94.5,348.5 87.7,346.5 81.0,344.4 82.7,341.6 89.3,343.6 96.2,345.6 103.1,347.7 110.1,349.8 117.3,351.9 124.6,354.1 132.1,356.3 139.7,358.6 147.4,360.9 155.3,363.2 163.3,365.6 171.5,368.0 179.8,370.5 188.3,373.0 197.0,375.6 205.8,378.2" fill="#568cca"/><polygon points="204.9,379.9 196.1,377.3 187.4,374.7 178.9,372.1 170.6,369.6 162.4,367.2 154.4,364.8 146.5,362.4 138.8,360.1 131.2,357.8 123.8,355.6 116.5,353.4 109.3,351.3 102.2,349.2 95.3,347.1 88.5,345.0 81.8,343.0 83.5,340.2 90.2,342.2 97.0,344.2 103.9,346.2 111.0,348.3 118.2,350.4 125.5,352.6 133.0,354.8 140.5,357.0 148.3,359.3 156.2,361.6 164.2,364.0 172.4,366.4 180.7,368.9 189.2,371.4 197.9,373.9 206.7,376.5" fill="#5d97cf"/><polygon points="205.8,378.2 197.0,375.6 188.3,373.0 179.8,370.5 171.5,368.0 163.3,365.6 155.3,363.2 147.4,360.9 139.7,358.6 132.1,356.3 124.6,354.1 117.3,351.9 110.1,349.8 103.1,347.7 96.2,345.6 89.3,343.6 82.7,341.6 84.3,338.8 91.0,340.7 97.9,342.7 104.8,344.8 111.9,346.8 119.1,348.9 126.4,351.1 133.8,353.3 141.4,355.5 149.2,357.7 157.0,360.1 165.1,362.4 173.2,364.8 181.6,367.2 190.1,369.7 198.8,372.2 207.6,374.8" fill="#63a2d4"/><polygon points="206.7,376.5 197.9,373.9 189.2,371.4 180.7,368.9 172.4,366.4 164.2,364.0 156.2,361.6 148.3,359.3 140.5,357.0 133.0,354.8 125.5,352.6 118.2,350.4 111.0,348.3 103.9,346.2 97.0,344.2 90.2,342.2 83.5,340.2 85.2,337.4 91.9,339.3 98.7,341.3 105.6,343.3 112.7,345.4 119.9,347.5 127.2,349.6 134.7,351.7 142.3,354.0 150.0,356.2 157.9,358.5 165.9,360.8 174.1,363.2 182.5,365.6 191.0,368.1 199.7,370.6 208.5,373.1" fill="#69add9"/><polygon points="207.6,374.8 198.8,372.2 190.1,369.7 181.6,367.2 173.2,364.8 165.1,362.4 157.0,360.1 149.2,357.7 141.4,355.5 133.8,353.3 126.4,351.1 119.1,348.9 111.9,346.8 104.8,344.8 97.9,342.7 91.0,340.7 84.3,338.8 86.0,336.0 92.7,337.9 99.5,339.9 106.5,341.9 113.6,343.9 120.8,346.0 128.1,348.1 135.6,350.2 143.2,352.4 150.9,354.6 158.8,356.9 166.8,359.2 175.0,361.6 183.4,364.0 191.9,366.4 200.6,368.9 209.4,371.4" fill="#6fb8de"/><polygon points="208.5,373.1 199.7,370.6 191.0,368.1 182.5,365.6 174.1,363.2 165.9,360.8 157.9,358.5 150.0,356.2 142.3,354.0 134.7,351.7 127.2,349.6 119.9,347.5 112.7,345.4 105.6,343.3 98.7,341.3 91.9,339.3 85.2,337.4 86.8,334.6 93.6,336.5 100.4,338.4 107.3,340.4 114.4,342.4 121.6,344.5 129.0,346.6 136.4,348.7 144.0,350.9 151.8,353.1 159.7,355.3 167.7,357.6 175.9,360.0 184.2,362.4 192.8,364.8 201.4,367.2 210.3,369.8" fill="#76c3e3"/><polygon points="209.4,371.4 200.6,368.9 191.9,366.4 183.4,364.0 175.0,361.6 166.8,359.2 158.8,356.9 150.9,354.6 143.2,352.4 135.6,350.2 128.1,348.1 120.8,346.0 113.6,343.9 106.5,341.9 99.5,339.9 92.7,337.9 86.0,336.0 87.7,333.2 94.4,335.1 101.2,337.0 108.2,339.0 115.3,341.0 122.5,343.0 129.8,345.1 137.3,347.2 144.9,349.4 152.6,351.6 160.5,353.8 168.6,356.1 176.8,358.4 185.1,360.7 193.6,363.1 202.3,365.6 211.2,368.1" fill="#7ccee8"/><polygon points="210.3,369.8 201.4,367.2 192.8,364.8 184.2,362.4 175.9,360.0 167.7,357.6 159.7,355.3 151.8,353.1 144.0,350.9 136.4,348.7 129.0,346.6 121.6,344.5 114.4,342.4 107.3,340.4 100.4,338.4 93.6,336.5 86.8,334.6 88.5,331.8 95.2,333.7 102.1,335.6 109.0,337.5 116.1,339.5 123.3,341.5 130.7,343.6 138.1,345.7 145.8,347.8 153.5,350.0 161.4,352.2 169.5,354.5 177.7,356.8 186.0,359.1 194.5,361.5 203.2,363.9 212.1,366.4" fill="#83d6e9"/><polygon points="211.2,368.1 202.3,365.6 193.6,363.1 185.1,360.7 176.8,358.4 168.6,356.1 160.5,353.8 152.6,351.6 144.9,349.4 137.3,347.2 129.8,345.1 122.5,343.0 115.3,341.0 108.2,339.0 101.2,337.0 94.4,335.1 87.7,333.2 89.3,330.4 96.1,332.2 102.9,334.1 109.9,336.1 117.0,338.1 124.2,340.1 131.5,342.1 139.0,344.2 146.6,346.3 154.4,348.5 162.3,350.7 170.3,352.9 178.5,355.2 186.9,357.5 195.4,359.9 204.1,362.3 212.9,364.8" fill="#8adae6"/><polygon points="212.1,366.4 203.2,363.9 194.5,361.5 186.0,359.1 177.7,356.8 169.5,354.5 161.4,352.2 153.5,350.0 145.8,347.8 138.1,345.7 130.7,343.6 123.3,341.5 116.1,339.5 109.0,337.5 102.1,335.6 95.2,333.7 88.5,331.8 90.2,329.0 96.9,330.8 103.8,332.7 110.7,334.6 117.8,336.6 125.0,338.6 132.4,340.6 139.9,342.7 147.5,344.8 155.2,346.9 163.1,349.1 171.2,351.3 179.4,353.6 187.8,355.9 196.3,358.3 205.0,360.7 213.8,363.1" fill="#91dfe3"/><polygon points="212.9,364.8 204.1,362.3 195.4,359.9 186.9,357.5 178.5,355.2 170.3,352.9 162.3,350.7 154.4,348.5 146.6,346.3 139.0,344.2 131.5,342.1 124.2,340.1 117.0,338.1 109.9,336.1 102.9,334.1 96.1,332.2 89.3,330.4 91.0,327.6 97.7,329.4 104.6,331.3 111.6,333.2 118.7,335.2 125.9,337.1 133.2,339.1 140.7,341.2 148.3,343.3 156.1,345.4 164.0,347.6 172.1,349.8 180.3,352.0 188.6,354.3 197.2,356.6 205.8,359.0 214.7,361.4" fill="#98e3e0"/><polygon points="213.8,363.1 205.0,360.7 196.3,358.3 187.8,355.9 179.4,353.6 171.2,351.3 163.1,349.1 155.2,346.9 147.5,344.8 139.9,342.7 132.4,340.6 125.0,338.6 117.8,336.6 110.7,334.6 103.8,332.7 96.9,330.8 90.2,329.0 91.8,326.2 98.6,328.0 105.4,329.9 112.4,331.8 119.5,333.7 126.7,335.7 134.1,337.7 141.6,339.7 149.2,341.8 157.0,343.9 164.9,346.0 172.9,348.2 181.1,350.4 189.5,352.7 198.0,355.0 206.7,357.4 215.6,359.8" fill="#a0e7de"/><polygon points="214.7,361.4 205.8,359.0 197.2,356.6 188.6,354.3 180.3,352.0 172.1,349.8 164.0,347.6 156.1,345.4 148.3,343.3 140.7,341.2 133.2,339.1 125.9,337.1 118.7,335.2 111.6,333.2 104.6,331.3 97.7,329.4 91.0,327.6 92.7,324.8 99.4,326.6 106.3,328.5 113.2,330.3 120.3,332.3 127.6,334.2 134.9,336.2 142.4,338.2 150.0,340.3 157.8,342.4 165.7,344.5 173.8,346.7 182.0,348.9 190.4,351.1 198.9,353.4 207.6,355.7 216.4,358.1" fill="#9fe6c4"/><polygon points="215.6,359.8 206.7,357.4 198.0,355.0 189.5,352.7 181.1,350.4 172.9,348.2 164.9,346.0 157.0,343.9 149.2,341.8 141.6,339.7 134.1,337.7 126.7,335.7 119.5,333.7 112.4,331.8 105.4,329.9 98.6,328.0 91.8,326.2 93.5,323.4 100.2,325.2 107.1,327.0 114.1,328.9 121.2,330.8 128.4,332.7 135.8,334.7 143.3,336.7 150.9,338.8 158.7,340.8 166.6,342.9 174.6,345.1 182.9,347.3 191.2,349.5 199.8,351.8 208.4,354.1 217.3,356.5" fill="#92dd85"/><polygon points="216.4,358.1 207.6,355.7 198.9,353.4 190.4,351.1 182.0,348.9 173.8,346.7 165.7,344.5 157.8,342.4 150.0,340.3 142.4,338.2 134.9,336.2 127.6,334.2 120.3,332.3 113.2,330.3 106.3,328.5 99.4,326.6 92.7,324.8 94.3,322.0 101.1,323.8 107.9,325.6 114.9,327.5 122.0,329.4 129.2,331.3 136.6,333.2 144.1,335.2 151.7,337.3 159.5,339.3 167.4,341.4 175.5,343.5 183.7,345.7 192.1,347.9 200.6,350.2 209.3,352.5 218.2,354.8" fill="#85d346"/><polygon points="217.3,356.5 208.4,354.1 199.8,351.8 191.2,349.5 182.9,347.3 174.6,345.1 166.6,342.9 158.7,340.8 150.9,338.8 143.3,336.7 135.8,334.7 128.4,332.7 121.2,330.8 114.1,328.9 107.1,327.0 100.2,325.2 93.5,323.4 95.1,320.6 101.9,322.4 108.7,324.2 115.7,326.1 122.8,327.9 130.1,329.8 137.5,331.8 145.0,333.7 152.6,335.8 160.4,337.8 168.3,339.9 176.3,342.0 184.6,344.1 192.9,346.3 201.5,348.6 210.2,350.9 219.0,353.2" fill="#7fcf26"/><polygon points="218.2,354.8 209.3,352.5 200.6,350.2 192.1,347.9 183.7,345.7 175.5,343.5 167.4,341.4 159.5,339.3 151.7,337.3 144.1,335.2 136.6,333.2 129.2,331.3 122.0,329.4 114.9,327.5 107.9,325.6 101.1,323.8 94.3,322.0 95.9,319.3 102.7,321.0 109.6,322.8 116.6,324.6 123.7,326.5 130.9,328.4 138.3,330.3 145.8,332.3 153.4,334.3 161.2,336.3 169.1,338.3 177.2,340.4 185.4,342.6 193.8,344.8 202.3,347.0 211.0,349.3 219.9,351.6" fill="#82d125"/><polygon points="219.0,353.2 210.2,350.9 201.5,348.6 192.9,346.3 184.6,344.1 176.3,342.0 168.3,339.9 160.4,337.8 152.6,335.8 145.0,333.7 137.5,331.8 130.1,329.8 122.8,327.9 115.7,326.1 108.7,324.2 101.9,322.4 95.1,320.6 96.8,317.9 103.5,319.6 110.4,321.4 117.4,323.2 124.5,325.1 131.8,326.9 139.1,328.8 146.6,330.8 154.3,332.8 162.1,334.8 170.0,336.8 178.0,338.9 186.3,341.0 194.6,343.2 203.2,345.4 211.9,347.6 220.8,349.9" fill="#85d225"/><polygon points="219.9,351.6 211.0,349.3 202.3,347.0 193.8,344.8 185.4,342.6 177.2,340.4 169.1,338.3 161.2,336.3 153.4,334.3 145.8,332.3 138.3,330.3 130.9,328.4 123.7,326.5 116.6,324.6 109.6,322.8 102.7,321.0 95.9,319.3 97.6,316.5 104.3,318.2 111.2,320.0 118.2,321.8 125.3,323.6 132.6,325.5 140.0,327.4 147.5,329.3 155.1,331.3 162.9,333.3 170.8,335.3 178.9,337.4 187.1,339.5 195.5,341.6 204.0,343.8 212.7,346.0 221.6,348.3" fill="#88d424"/><polygon points="220.8,349.9 211.9,347.6 203.2,345.4 194.6,343.2 186.3,341.0 178.0,338.9 170.0,336.8 162.1,334.8 154.3,332.8 146.6,330.8 139.1,328.8 131.8,326.9 124.5,325.1 117.4,323.2 110.4,321.4 103.5,319.6 96.8,317.9 98.4,315.1 105.2,316.9 112.0,318.6 119.0,320.4 126.2,322.2 133.4,324.0 140.8,325.9 148.3,327.8 156.0,329.8 163.7,331.8 171.7,333.8 179.7,335.8 188.0,337.9 196.3,340.0 204.9,342.2 213.6,344.4 222.5,346.7" fill="#8cd525"/><polygon points="221.6,348.3 212.7,346.0 204.0,343.8 195.5,341.6 187.1,339.5 178.9,337.4 170.8,335.3 162.9,333.3 155.1,331.3 147.5,329.3 140.0,327.4 132.6,325.5 125.3,323.6 118.2,321.8 111.2,320.0 104.3,318.2 97.6,316.5 99.2,313.8 106.0,315.5 112.9,317.2 119.9,319.0 127.0,320.8 134.2,322.6 141.6,324.5 149.1,326.4 156.8,328.3 164.6,330.3 172.5,332.3 180.6,334.3 188.8,336.4 197.2,338.5 205.7,340.6 214.4,342.8 223.3,345.1" fill="#91d626"/><polygon points="222.5,346.7 213.6,344.4 204.9,342.2 196.3,340.0 188.0,337.9 179.7,335.8 171.7,333.8 163.7,331.8 156.0,329.8 148.3,327.8 140.8,325.9 133.4,324.0 126.2,322.2 119.0,320.4 112.0,318.6 105.2,316.9 98.4,315.1 100.0,312.4 106.8,314.1 113.7,315.8 120.7,317.6 127.8,319.4 135.1,321.2 142.5,323.0 150.0,324.9 157.6,326.8 165.4,328.8 173.3,330.7 181.4,332.8 189.6,334.8 198.0,336.9 206.6,339.0 215.3,341.2 224.1,343.4" fill="#95d727"/><polygon points="223.3,345.1 214.4,342.8 205.7,340.6 197.2,338.5 188.8,336.4 180.6,334.3 172.5,332.3 164.6,330.3 156.8,328.3 149.1,326.4 141.6,324.5 134.2,322.6 127.0,320.8 119.9,319.0 112.9,317.2 106.0,315.5 99.2,313.8 100.8,311.0 107.6,312.7 114.5,314.4 121.5,316.2 128.6,317.9 135.9,319.7 143.3,321.6 150.8,323.4 158.4,325.3 166.2,327.3 174.2,329.2 182.2,331.2 190.5,333.3 198.9,335.3 207.4,337.5 216.1,339.6 225.0,341.8" fill="#99d828"/><polygon points="224.1,343.4 215.3,341.2 206.6,339.0 198.0,336.9 189.6,334.8 181.4,332.8 173.3,330.7 165.4,328.8 157.6,326.8 150.0,324.9 142.5,323.0 135.1,321.2 127.8,319.4 120.7,317.6 113.7,315.8 106.8,314.1 100.0,312.4 101.6,309.7 108.4,311.3 115.3,313.0 122.3,314.8 129.5,316.5 136.7,318.3 144.1,320.1 151.6,322.0 159.3,323.8 167.1,325.8 175.0,327.7 183.1,329.7 191.3,331.7 199.7,333.8 208.2,335.9 216.9,338.0 225.8,340.2" fill="#9ed929"/><polygon points="225.0,341.8 216.1,339.6 207.4,337.5 198.9,335.3 190.5,333.3 182.2,331.2 174.2,329.2 166.2,327.3 158.4,325.3 150.8,323.4 143.3,321.6 135.9,319.7 128.6,317.9 121.5,316.2 114.5,314.4 107.6,312.7 100.8,311.0 102.5,308.3 109.2,310.0 116.1,311.6 123.1,313.4 130.3,315.1 137.5,316.9 144.9,318.7 152.5,320.5 160.1,322.4 167.9,324.3 175.8,326.2 183.9,328.2 192.1,330.2 200.5,332.2 209.1,334.3 217.8,336.4 226.7,338.6" fill="#a2da2a"/><polygon points="225.8,340.2 216.9,338.0 208.2,335.9 199.7,333.8 191.3,331.7 183.1,329.7 175.0,327.7 167.1,325.8 159.3,323.8 151.6,322.0 144.1,320.1 136.7,318.3 129.5,316.5 122.3,314.8 115.3,313.0 108.4,311.3 101.6,309.7 103.3,306.9 110.0,308.6 116.9,310.3 124.0,312.0 131.1,313.7 138.4,315.4 145.8,317.2 153.3,319.0 160.9,320.9 168.7,322.8 176.7,324.7 184.7,326.7 193.0,328.7 201.4,330.7 209.9,332.8 218.6,334.9 227.5,337.0" fill="#a8db2c"/><polygon points="226.7,338.6 217.8,336.4 209.1,334.3 200.5,332.2 192.1,330.2 183.9,328.2 175.8,326.2 167.9,324.3 160.1,322.4 152.5,320.5 144.9,318.7 137.5,316.9 130.3,315.1 123.1,313.4 116.1,311.6 109.2,310.0 102.5,308.3 104.1,305.6 110.9,307.2 117.8,308.9 124.8,310.6 131.9,312.3 139.2,314.0 146.6,315.8 154.1,317.6 161.8,319.4 169.5,321.3 177.5,323.2 185.6,325.1 193.8,327.1 202.2,329.1 210.7,331.2 219.4,333.3 228.3,335.4" fill="#aedd30"/><polygon points="227.5,337.0 218.6,334.9 209.9,332.8 201.4,330.7 193.0,328.7 184.7,326.7 176.7,324.7 168.7,322.8 160.9,320.9 153.3,319.0 145.8,317.2 138.4,315.4 131.1,313.7 124.0,312.0 116.9,310.3 110.0,308.6 103.3,306.9 104.9,304.2 111.7,305.8 118.6,307.5 125.6,309.2 132.7,310.9 140.0,312.6 147.4,314.4 154.9,316.1 162.6,318.0 170.4,319.8 178.3,321.7 186.4,323.6 194.6,325.6 203.0,327.6 211.6,329.6 220.3,331.7 229.1,333.8" fill="#b5df34"/><polygon points="228.3,335.4 219.4,333.3 210.7,331.2 202.2,329.1 193.8,327.1 185.6,325.1 177.5,323.2 169.5,321.3 161.8,319.4 154.1,317.6 146.6,315.8 139.2,314.0 131.9,312.3 124.8,310.6 117.8,308.9 110.9,307.2 104.1,305.6 105.7,302.9 112.5,304.5 119.4,306.1 126.4,307.8 133.5,309.5 140.8,311.2 148.2,312.9 155.7,314.7 163.4,316.5 171.2,318.3 179.1,320.2 187.2,322.1 195.4,324.1 203.8,326.0 212.4,328.1 221.1,330.1 230.0,332.2" fill="#bbe138"/><polygon points="229.1,333.8 220.3,331.7 211.6,329.6 203.0,327.6 194.6,325.6 186.4,323.6 178.3,321.7 170.4,319.8 162.6,318.0 154.9,316.1 147.4,314.4 140.0,312.6 132.7,310.9 125.6,309.2 118.6,307.5 111.7,305.8 104.9,304.2 106.5,301.5 113.3,303.1 120.2,304.7 127.2,306.4 134.4,308.1 141.6,309.8 149.0,311.5 156.5,313.2 164.2,315.0 172.0,316.9 179.9,318.7 188.0,320.6 196.3,322.5 204.7,324.5 213.2,326.5 221.9,328.6 230.8,330.6" fill="#c2e43c"/><polygon points="230.0,332.2 221.1,330.1 212.4,328.1 203.8,326.0 195.4,324.1 187.2,322.1 179.1,320.2 171.2,318.3 163.4,316.5 155.7,314.7 148.2,312.9 140.8,311.2 133.5,309.5 126.4,307.8 119.4,306.1 112.5,304.5 105.7,302.9 107.3,300.2 114.1,301.8 121.0,303.4 128.0,305.0 135.2,306.6 142.4,308.3 149.8,310.1 157.4,311.8 165.0,313.6 172.8,315.4 180.8,317.2 188.8,319.1 197.1,321.0 205.5,323.0 214.0,325.0 222.7,327.0 231.6,329.0" fill="#c8e640"/><polygon points="230.8,330.6 221.9,328.6 213.2,326.5 204.7,324.5 196.3,322.5 188.0,320.6 179.9,318.7 172.0,316.9 164.2,315.0 156.5,313.2 149.0,311.5 141.6,309.8 134.4,308.1 127.2,306.4 120.2,304.7 113.3,303.1 106.5,301.5 108.1,298.8 114.9,300.4 121.8,302.0 128.8,303.6 136.0,305.2 143.2,306.9 150.6,308.6 158.2,310.4 165.8,312.1 173.6,313.9 181.6,315.8 189.7,317.6 197.9,319.5 206.3,321.4 214.8,323.4 223.5,325.4 232.4,327.5" fill="#cfe844"/><polygon points="231.6,329.0 222.7,327.0 214.0,325.0 205.5,323.0 197.1,321.0 188.8,319.1 180.8,317.2 172.8,315.4 165.0,313.6 157.4,311.8 149.8,310.1 142.4,308.3 135.2,306.6 128.0,305.0 121.0,303.4 114.1,301.8 107.3,300.2 108.9,297.5 115.7,299.0 122.6,300.6 129.6,302.2 136.8,303.9 144.0,305.5 151.4,307.2 159.0,308.9 166.6,310.7 174.4,312.5 182.4,314.3 190.5,316.1 198.7,318.0 207.1,319.9 215.6,321.9 224.3,323.9 233.2,325.9" fill="#d5ea48"/><polygon points="232.4,327.5 223.5,325.4 214.8,323.4 206.3,321.4 197.9,319.5 189.7,317.6 181.6,315.8 173.6,313.9 165.8,312.1 158.2,310.4 150.6,308.6 143.2,306.9 136.0,305.2 128.8,303.6 121.8,302.0 114.9,300.4 108.1,298.8 109.7,296.1 116.5,297.7 123.4,299.2 130.4,300.8 137.6,302.5 144.9,304.1 152.3,305.8 159.8,307.5 167.4,309.2 175.3,311.0 183.2,312.8 191.3,314.6 199.5,316.5 207.9,318.4 216.4,320.3 225.2,322.3 234.0,324.3" fill="#daea49"/><polygon points="233.2,325.9 224.3,323.9 215.6,321.9 207.1,319.9 198.7,318.0 190.5,316.1 182.4,314.3 174.4,312.5 166.6,310.7 159.0,308.9 151.4,307.2 144.0,305.5 136.8,303.9 129.6,302.2 122.6,300.6 115.7,299.0 108.9,297.5 110.5,294.8 117.3,296.3 124.2,297.9 131.2,299.5 138.4,301.1 145.7,302.7 153.1,304.4 160.6,306.1 168.3,307.8 176.1,309.5 184.0,311.3 192.1,313.1 200.3,315.0 208.7,316.9 217.3,318.8 226.0,320.7 234.8,322.7" fill="#dfe949"/><polygon points="234.0,324.3 225.2,322.3 216.4,320.3 207.9,318.4 199.5,316.5 191.3,314.6 183.2,312.8 175.3,311.0 167.4,309.2 159.8,307.5 152.3,305.8 144.9,304.1 137.6,302.5 130.4,300.8 123.4,299.2 116.5,297.7 109.7,296.1 111.3,293.5 118.1,295.0 125.0,296.5 132.0,298.1 139.2,299.7 146.5,301.3 153.9,302.9 161.4,304.6 169.1,306.3 176.9,308.1 184.8,309.8 192.9,311.6 201.1,313.5 209.5,315.3 218.1,317.3 226.8,319.2 235.6,321.2" fill="#e4e94a"/><polygon points="234.8,322.7 226.0,320.7 217.3,318.8 208.7,316.9 200.3,315.0 192.1,313.1 184.0,311.3 176.1,309.5 168.3,307.8 160.6,306.1 153.1,304.4 145.7,302.7 138.4,301.1 131.2,299.5 124.2,297.9 117.3,296.3 110.5,294.8 112.1,292.1 118.9,293.6 125.8,295.2 132.8,296.7 140.0,298.3 147.3,299.9 154.7,301.5 162.2,303.2 169.9,304.9 177.7,306.6 185.6,308.4 193.7,310.2 201.9,312.0 210.3,313.8 218.9,315.7 227.6,317.6 236.4,319.6" fill="#e8e84b"/><polygon points="235.6,321.2 226.8,319.2 218.1,317.3 209.5,315.3 201.1,313.5 192.9,311.6 184.8,309.8 176.9,308.1 169.1,306.3 161.4,304.6 153.9,302.9 146.5,301.3 139.2,299.7 132.0,298.1 125.0,296.5 118.1,295.0 111.3,293.5 112.9,290.8 119.7,292.3 126.6,293.8 133.6,295.3 140.8,296.9 148.1,298.5 155.5,300.1 163.0,301.8 170.7,303.5 178.5,305.2 186.4,306.9 194.5,308.7 202.7,310.5 211.1,312.3 219.7,314.2 228.4,316.1 237.2,318.0" fill="#ede84c"/><polygon points="236.4,319.6 227.6,317.6 218.9,315.7 210.3,313.8 201.9,312.0 193.7,310.2 185.6,308.4 177.7,306.6 169.9,304.9 162.2,303.2 154.7,301.5 147.3,299.9 140.0,298.3 132.8,296.7 125.8,295.2 118.9,293.6 112.1,292.1 113.7,289.5 120.5,290.9 127.4,292.4 134.4,294.0 141.6,295.5 148.9,297.1 156.3,298.7 163.8,300.3 171.5,302.0 179.3,303.7 187.2,305.4 195.3,307.2 203.5,309.0 211.9,310.8 220.5,312.7 229.2,314.6 238.0,316.5" fill="#eee64a"/><polygon points="237.2,318.0 228.4,316.1 219.7,314.2 211.1,312.3 202.7,310.5 194.5,308.7 186.4,306.9 178.5,305.2 170.7,303.5 163.0,301.8 155.5,300.1 148.1,298.5 140.8,296.9 133.6,295.3 126.6,293.8 119.7,292.3 112.9,290.8 114.5,288.1 121.3,289.6 128.2,291.1 135.2,292.6 142.4,294.1 149.6,295.7 157.1,297.3 164.6,298.9 172.3,300.6 180.1,302.3 188.0,304.0 196.1,305.7 204.3,307.5 212.7,309.3 221.2,311.1 230.0,313.0 238.8,314.9" fill="#efe248"/><polygon points="238.0,316.5 229.2,314.6 220.5,312.7 211.9,310.8 203.5,309.0 195.3,307.2 187.2,305.4 179.3,303.7 171.5,302.0 163.8,300.3 156.3,298.7 148.9,297.1 141.6,295.5 134.4,294.0 127.4,292.4 120.5,290.9 113.7,289.5 115.2,286.8 122.0,288.3 129.0,289.7 136.0,291.2 143.2,292.8 150.4,294.3 157.8,295.9 165.4,297.5 173.0,299.2 180.8,300.8 188.8,302.5 196.9,304.2 205.1,306.0 213.5,307.8 222.0,309.6 230.7,311.5 239.6,313.4" fill="#f0df45"/><polygon points="238.8,314.9 230.0,313.0 221.2,311.1 212.7,309.3 204.3,307.5 196.1,305.7 188.0,304.0 180.1,302.3 172.3,300.6 164.6,298.9 157.1,297.3 149.6,295.7 142.4,294.1 135.2,292.6 128.2,291.1 121.3,289.6 114.5,288.1 116.0,285.5 122.8,286.9 129.8,288.4 136.8,289.9 144.0,291.4 151.2,292.9 158.6,294.5 166.2,296.1 173.8,297.7 181.6,299.4 189.6,301.1 197.7,302.8 205.9,304.5 214.3,306.3 222.8,308.1 231.5,310.0 240.4,311.8" fill="#f0d942"/><polygon points="239.6,313.4 230.7,311.5 222.0,309.6 213.5,307.8 205.1,306.0 196.9,304.2 188.8,302.5 180.8,300.8 173.0,299.2 165.4,297.5 157.8,295.9 150.4,294.3 143.2,292.8 136.0,291.2 129.0,289.7 122.0,288.3 115.2,286.8 116.8,284.1 123.6,285.6 130.5,287.0 137.6,288.5 144.7,290.0 152.0,291.5 159.4,293.1 167.0,294.7 174.6,296.3 182.4,297.9 190.4,299.6 198.5,301.3 206.7,303.0 215.1,304.8 223.6,306.6 232.3,308.4 241.2,310.3" fill="#f0d13f"/><polygon points="240.4,311.8 231.5,310.0 222.8,308.1 214.3,306.3 205.9,304.5 197.7,302.8 189.6,301.1 181.6,299.4 173.8,297.7 166.2,296.1 158.6,294.5 151.2,292.9 144.0,291.4 136.8,289.9 129.8,288.4 122.8,286.9 116.0,285.5 117.6,282.8 124.4,284.2 131.3,285.7 138.4,287.2 145.5,288.6 152.8,290.2 160.2,291.7 167.7,293.3 175.4,294.9 183.2,296.5 191.2,298.2 199.2,299.8 207.5,301.6 215.9,303.3 224.4,305.1 233.1,306.9 242.0,308.7" fill="#f0c93c"/><polygon points="241.2,310.3 232.3,308.4 223.6,306.6 215.1,304.8 206.7,303.0 198.5,301.3 190.4,299.6 182.4,297.9 174.6,296.3 167.0,294.7 159.4,293.1 152.0,291.5 144.7,290.0 137.6,288.5 130.5,287.0 123.6,285.6 116.8,284.1 118.4,281.5 125.2,282.9 132.1,284.3 139.2,285.8 146.3,287.3 153.6,288.8 161.0,290.3 168.5,291.9 176.2,293.5 184.0,295.1 191.9,296.7 200.0,298.4 208.3,300.1 216.6,301.8 225.2,303.6 233.9,305.4 242.7,307.2" fill="#f0bf39"/><polygon points="242.0,308.7 233.1,306.9 224.4,305.1 215.9,303.3 207.5,301.6 199.2,299.8 191.2,298.2 183.2,296.5 175.4,294.9 167.7,293.3 160.2,291.7 152.8,290.2 145.5,288.6 138.4,287.2 131.3,285.7 124.4,284.2 117.6,282.8 119.2,280.2 126.0,281.6 132.9,283.0 139.9,284.4 147.1,285.9 154.4,287.4 161.8,288.9 169.3,290.5 177.0,292.0 184.8,293.6 192.7,295.3 200.8,296.9 209.0,298.6 217.4,300.3 226.0,302.1 234.7,303.9 243.5,305.7" fill="#f0b336"/><polygon points="242.7,307.2 233.9,305.4 225.2,303.6 216.6,301.8 208.3,300.1 200.0,298.4 191.9,296.7 184.0,295.1 176.2,293.5 168.5,291.9 161.0,290.3 153.6,288.8 146.3,287.3 139.2,285.8 132.1,284.3 125.2,282.9 118.4,281.5 120.0,278.9 126.8,280.3 133.7,281.7 140.7,283.1 147.9,284.5 155.2,286.0 162.6,287.5 170.1,289.1 177.8,290.6 185.6,292.2 193.5,293.8 201.6,295.5 209.8,297.1 218.2,298.8 226.7,300.6 235.4,302.3 244.3,304.1" fill="#f0a633"/><polygon points="243.5,305.7 234.7,303.9 226.0,302.1 217.4,300.3 209.0,298.6 200.8,296.9 192.7,295.3 184.8,293.6 177.0,292.0 169.3,290.5 161.8,288.9 154.4,287.4 147.1,285.9 139.9,284.4 132.9,283.0 126.0,281.6 119.2,280.2 120.7,277.6 127.5,278.9 134.5,280.3 141.5,281.7 148.7,283.2 155.9,284.6 163.3,286.1 170.9,287.7 178.5,289.2 186.3,290.8 194.3,292.4 202.4,294.0 210.6,295.7 219.0,297.4 227.5,299.1 236.2,300.8 245.1,302.6" fill="#f09a30"/><polygon points="244.3,304.1 235.4,302.3 226.7,300.6 218.2,298.8 209.8,297.1 201.6,295.5 193.5,293.8 185.6,292.2 177.8,290.6 170.1,289.1 162.6,287.5 155.2,286.0 147.9,284.5 140.7,283.1 133.7,281.7 126.8,280.3 120.0,278.9 121.5,276.2 128.3,277.6 135.2,279.0 142.3,280.4 149.4,281.8 156.7,283.3 164.1,284.8 171.7,286.3 179.3,287.8 187.1,289.4 195.1,290.9 203.1,292.6 211.4,294.2 219.7,295.9 228.3,297.6 237.0,299.3 245.8,301.1" fill="#ef8e2f"/><polygon points="245.1,302.6 236.2,300.8 227.5,299.1 219.0,297.4 210.6,295.7 202.4,294.0 194.3,292.4 186.3,290.8 178.5,289.2 170.9,287.7 163.3,286.1 155.9,284.6 148.7,283.2 141.5,281.7 134.5,280.3 127.5,278.9 120.7,277.6 122.3,274.9 129.1,276.3 136.0,277.7 143.1,279.1 150.2,280.5 157.5,281.9 164.9,283.4 172.4,284.9 180.1,286.4 187.9,287.9 195.8,289.5 203.9,291.1 212.1,292.7 220.5,294.4 229.0,296.1 237.7,297.8 246.6,299.6" fill="#ee832e"/><polygon points="245.8,301.1 237.0,299.3 228.3,297.6 219.7,295.9 211.4,294.2 203.1,292.6 195.1,290.9 187.1,289.4 179.3,287.8 171.7,286.3 164.1,284.8 156.7,283.3 149.4,281.8 142.3,280.4 135.2,279.0 128.3,277.6 121.5,276.2 123.1,273.6 129.9,275.0 136.8,276.3 143.8,277.7 151.0,279.1 158.3,280.5 165.7,282.0 173.2,283.5 180.9,285.0 188.7,286.5 196.6,288.1 204.7,289.7 212.9,291.3 221.3,292.9 229.8,294.6 238.5,296.3 247.4,298.0" fill="#ec782d"/><polygon points="246.6,299.6 237.7,297.8 229.0,296.1 220.5,294.4 212.1,292.7 203.9,291.1 195.8,289.5 187.9,287.9 180.1,286.4 172.4,284.9 164.9,283.4 157.5,281.9 150.2,280.5 143.1,279.1 136.0,277.7 129.1,276.3 122.3,274.9 123.8,272.3 130.7,273.7 137.6,275.0 144.6,276.4 151.8,277.8 159.1,279.2 166.5,280.6 174.0,282.1 181.6,283.6 189.4,285.1 197.4,286.6 205.5,288.2 213.7,289.8 222.1,291.4 230.6,293.1 239.3,294.8 248.1,296.5" fill="#eb6d2c"/><polygon points="247.4,298.0 238.5,296.3 229.8,294.6 221.3,292.9 212.9,291.3 204.7,289.7 196.6,288.1 188.7,286.5 180.9,285.0 173.2,283.5 165.7,282.0 158.3,280.5 151.0,279.1 143.8,277.7 136.8,276.3 129.9,275.0 123.1,273.6 124.6,271.0 131.4,272.3 138.4,273.7 145.4,275.0 152.5,276.4 159.8,277.8 167.2,279.2 174.8,280.7 182.4,282.2 190.2,283.7 198.1,285.2 206.2,286.8 214.4,288.4 222.8,290.0 231.3,291.6 240.0,293.3 248.9,295.0" fill="#ea622b"/><polygon points="248.1,296.5 239.3,294.8 230.6,293.1 222.1,291.4 213.7,289.8 205.5,288.2 197.4,286.6 189.4,285.1 181.6,283.6 174.0,282.1 166.5,280.6 159.1,279.2 151.8,277.8 144.6,276.4 137.6,275.0 130.7,273.7 123.8,272.3 125.4,269.7 132.2,271.0 139.1,272.3 146.2,273.7 153.3,275.1 160.6,276.5 168.0,277.9 175.5,279.3 183.2,280.8 191.0,282.3 198.9,283.8 207.0,285.3 215.2,286.9 223.6,288.5 232.1,290.1 240.8,291.8 249.6,293.5" fill="#e8572a"/><polygon points="248.9,295.0 240.0,293.3 231.3,291.6 222.8,290.0 214.4,288.4 206.2,286.8 198.1,285.2 190.2,283.7 182.4,282.2 174.8,280.7 167.2,279.2 159.8,277.8 152.5,276.4 145.4,275.0 138.4,273.7 131.4,272.3 124.6,271.0 126.2,268.4 133.0,269.7 139.9,271.0 146.9,272.4 154.1,273.7 161.4,275.1 168.8,276.5 176.3,277.9 184.0,279.4 191.7,280.9 199.7,282.4 207.8,283.9 216.0,285.5 224.3,287.0 232.9,288.7 241.5,290.3 250.4,292.0" fill="#e7512a"/><polygon points="249.6,293.5 240.8,291.8 232.1,290.1 223.6,288.5 215.2,286.9 207.0,285.3 198.9,283.8 191.0,282.3 183.2,280.8 175.5,279.3 168.0,277.9 160.6,276.5 153.3,275.1 146.2,273.7 139.1,272.3 132.2,271.0 125.4,269.7 126.9,267.1 133.7,268.4 140.7,269.7 147.7,271.0 154.9,272.4 162.1,273.7 169.5,275.1 177.1,276.5 184.7,278.0 192.5,279.5 200.4,280.9 208.5,282.5 216.7,284.0 225.1,285.6 233.6,287.2 242.3,288.8 251.1,290.5" fill="#e64d29"/><polygon points="250.4,292.0 241.5,290.3 232.9,288.7 224.3,287.0 216.0,285.5 207.8,283.9 199.7,282.4 191.7,280.9 184.0,279.4 176.3,277.9 168.8,276.5 161.4,275.1 154.1,273.7 146.9,272.4 139.9,271.0 133.0,269.7 126.2,268.4 127.7,265.8 134.5,267.1 141.4,268.4 148.5,269.7 155.6,271.0 162.9,272.4 170.3,273.8 177.8,275.2 185.5,276.6 193.3,278.0 201.2,279.5 209.3,281.0 217.5,282.6 225.9,284.1 234.4,285.7 243.0,287.3 251.9,289.0" fill="#e54829"/><polygon points="251.1,290.5 242.3,288.8 233.6,287.2 225.1,285.6 216.7,284.0 208.5,282.5 200.4,280.9 192.5,279.5 184.7,278.0 177.1,276.5 169.5,275.1 162.1,273.7 154.9,272.4 147.7,271.0 140.7,269.7 133.7,268.4 126.9,267.1 128.5,264.5 135.3,265.8 142.2,267.1 149.2,268.4 156.4,269.7 163.7,271.0 171.1,272.4 178.6,273.8 186.2,275.2 194.0,276.6 202.0,278.1 210.0,279.6 218.2,281.1 226.6,282.7 235.1,284.2 243.8,285.8 252.6,287.5" fill="#e44329"/><polygon points="251.9,289.0 243.0,287.3 234.4,285.7 225.9,284.1 217.5,282.6 209.3,281.0 201.2,279.5 193.3,278.0 185.5,276.6 177.8,275.2 170.3,273.8 162.9,272.4 155.6,271.0 148.5,269.7 141.4,268.4 134.5,267.1 127.7,265.8 129.2,263.2 136.0,264.5 143.0,265.8 150.0,267.0 157.2,268.4 164.4,269.7 171.8,271.0 179.3,272.4 187.0,273.8 194.8,275.2 202.7,276.7 210.8,278.2 219.0,279.7 227.4,281.2 235.9,282.8 244.5,284.4 253.4,286.0" fill="#e33f28"/><polygon points="252.6,287.5 243.8,285.8 235.1,284.2 226.6,282.7 218.2,281.1 210.0,279.6 202.0,278.1 194.0,276.6 186.2,275.2 178.6,273.8 171.1,272.4 163.7,271.0 156.4,269.7 149.2,268.4 142.2,267.1 135.3,265.8 128.5,264.5 130.0,262.0 136.8,263.2 143.7,264.4 150.8,265.7 157.9,267.0 165.2,268.3 172.6,269.7 180.1,271.0 187.8,272.4 195.5,273.9 203.5,275.3 211.5,276.8 219.7,278.2 228.1,279.8 236.6,281.3 245.3,282.9 254.1,284.5" fill="#e23a28"/><polygon points="253.4,286.0 244.5,284.4 235.9,282.8 227.4,281.2 219.0,279.7 210.8,278.2 202.7,276.7 194.8,275.2 187.0,273.8 179.3,272.4 171.8,271.0 164.4,269.7 157.2,268.4 150.0,267.0 143.0,265.8 136.0,264.5 129.2,263.2 130.8,260.7 137.6,261.9 144.5,263.1 151.5,264.4 158.7,265.7 165.9,267.0 173.3,268.3 180.9,269.7 188.5,271.1 196.3,272.5 204.2,273.9 212.3,275.3 220.5,276.8 228.9,278.3 237.4,279.9 246.0,281.4 254.9,283.0" fill="#e23a28"/><polygon points="254.1,284.5 245.3,282.9 236.6,281.3 228.1,279.8 219.7,278.2 211.5,276.8 203.5,275.3 195.5,273.9 187.8,272.4 180.1,271.0 172.6,269.7 165.2,268.3 157.9,267.0 150.8,265.7 143.7,264.4 136.8,263.2 130.0,262.0 131.5,259.4 138.3,260.6 145.3,261.8 152.3,263.1 159.4,264.4 166.7,265.7 174.1,267.0 181.6,268.3 189.3,269.7 197.1,271.1 205.0,272.5 213.0,273.9 221.2,275.4 229.6,276.9 238.1,278.4 246.8,279.9 255.6,281.5" fill="#e23a28"/><polygon points="254.9,283.0 246.0,281.4 237.4,279.9 228.9,278.3 220.5,276.8 212.3,275.3 204.2,273.9 196.3,272.5 188.5,271.1 180.9,269.7 173.3,268.3 165.9,267.0 158.7,265.7 151.5,264.4 144.5,263.1 137.6,261.9 130.8,260.7 132.3,258.1 139.1,259.3 146.0,260.5 153.0,261.8 160.2,263.0 167.5,264.3 174.9,265.6 182.4,266.9 190.0,268.3 197.8,269.7 205.7,271.1 213.8,272.5 222.0,274.0 230.3,275.4 238.8,276.9 247.5,278.5 256.3,280.0" fill="#e13928"/><polygon points="255.6,281.5 246.8,279.9 238.1,278.4 229.6,276.9 221.2,275.4 213.0,273.9 205.0,272.5 197.1,271.1 189.3,269.7 181.6,268.3 174.1,267.0 166.7,265.7 159.4,264.4 152.3,263.1 145.3,261.8 138.3,260.6 131.5,259.4 133.1,256.8 139.9,258.0 146.8,259.2 153.8,260.5 161.0,261.7 168.2,263.0 175.6,264.3 183.1,265.6 190.8,266.9 198.6,268.3 206.5,269.7 214.5,271.1 222.7,272.5 231.1,274.0 239.6,275.5 248.3,277.0 257.1,278.5" fill="#e13928"/><polygon points="256.3,280.0 247.5,278.5 238.8,276.9 230.3,275.4 222.0,274.0 213.8,272.5 205.7,271.1 197.8,269.7 190.0,268.3 182.4,266.9 174.9,265.6 167.5,264.3 160.2,263.0 153.0,261.8 146.0,260.5 139.1,259.3 132.3,258.1 133.8,255.5 140.6,256.7 147.5,257.9 154.6,259.1 161.7,260.4 169.0,261.6 176.4,262.9 183.9,264.2 191.5,265.6 199.3,266.9 207.2,268.3 215.3,269.7 223.5,271.1 231.8,272.6 240.3,274.0 249.0,275.5 257.8,277.1" fill="#e13928"/><polygon points="257.1,278.5 248.3,277.0 239.6,275.5 231.1,274.0 222.7,272.5 214.5,271.1 206.5,269.7 198.6,268.3 190.8,266.9 183.1,265.6 175.6,264.3 168.2,263.0 161.0,261.7 153.8,260.5 146.8,259.2 139.9,258.0 133.1,256.8 134.6,254.3 141.4,255.4 148.3,256.6 155.3,257.8 162.5,259.1 169.7,260.3 177.1,261.6 184.6,262.9 192.3,264.2 200.0,265.5 208.0,266.9 216.0,268.3 224.2,269.7 232.6,271.1 241.1,272.6 249.7,274.1 258.5,275.6" fill="#e13927"/><polygon points="257.8,277.1 249.0,275.5 240.3,274.0 231.8,272.6 223.5,271.1 215.3,269.7 207.2,268.3 199.3,266.9 191.5,265.6 183.9,264.2 176.4,262.9 169.0,261.6 161.7,260.4 154.6,259.1 147.5,257.9 140.6,256.7 133.8,255.5 135.3,253.0 142.1,254.2 149.0,255.3 156.1,256.5 163.2,257.7 170.5,259.0 177.9,260.2 185.4,261.5 193.0,262.8 200.8,264.1 208.7,265.5 216.8,266.9 225.0,268.3 233.3,269.7 241.8,271.1 250.5,272.6 259.3,274.1" fill="#e13927"/><polygon points="258.5,275.6 249.7,274.1 241.1,272.6 232.6,271.1 224.2,269.7 216.0,268.3 208.0,266.9 200.0,265.5 192.3,264.2 184.6,262.9 177.1,261.6 169.7,260.3 162.5,259.1 155.3,257.8 148.3,256.6 141.4,255.4 134.6,254.3 136.1,251.7 142.9,252.9 149.8,254.0 156.8,255.2 164.0,256.4 171.2,257.6 178.6,258.9 186.1,260.2 193.8,261.5 201.5,262.8 209.4,264.1 217.5,265.5 225.7,266.8 234.0,268.3 242.5,269.7 251.2,271.2 260.0,272.6" fill="#e03827"/><polygon points="259.3,274.1 250.5,272.6 241.8,271.1 233.3,269.7 225.0,268.3 216.8,266.9 208.7,265.5 200.8,264.1 193.0,262.8 185.4,261.5 177.9,260.2 170.5,259.0 163.2,257.7 156.1,256.5 149.0,255.3 142.1,254.2 135.3,253.0 136.9,250.4 143.6,251.6 150.6,252.7 157.6,253.9 164.7,255.1 172.0,256.3 179.4,257.6 186.9,258.8 194.5,260.1 202.3,261.4 210.2,262.7 218.2,264.1 226.4,265.4 234.8,266.8 243.3,268.3 251.9,269.7 260.7,271.2" fill="#e03827"/><polygon points="260.0,272.6 251.2,271.2 242.5,269.7 234.0,268.3 225.7,266.8 217.5,265.5 209.4,264.1 201.5,262.8 193.8,261.5 186.1,260.2 178.6,258.9 171.2,257.6 164.0,256.4 156.8,255.2 149.8,254.0 142.9,252.9 136.1,251.7 137.6,249.2 144.4,250.3 151.3,251.4 158.3,252.6 165.5,253.8 172.7,255.0 180.1,256.2 187.6,257.5 195.2,258.7 203.0,260.0 210.9,261.3 219.0,262.7 227.2,264.0 235.5,265.4 244.0,266.8 252.6,268.2 261.4,269.7" fill="#e03827"/><polygon points="260.7,271.2 251.9,269.7 243.3,268.3 234.8,266.8 226.4,265.4 218.2,264.1 210.2,262.7 202.3,261.4 194.5,260.1 186.9,258.8 179.4,257.6 172.0,256.3 164.7,255.1 157.6,253.9 150.6,252.7 143.6,251.6 136.9,250.4 138.4,247.9 145.2,249.0 152.1,250.2 159.1,251.3 166.2,252.5 173.5,253.7 180.8,254.9 188.3,256.1 196.0,257.4 203.7,258.6 211.7,259.9 219.7,261.3 227.9,262.6 236.2,264.0 244.7,265.4 253.4,266.8 262.2,268.2" fill="#e03827"/><polygon points="261.4,269.7 252.6,268.2 244.0,266.8 235.5,265.4 227.2,264.0 219.0,262.7 210.9,261.3 203.0,260.0 195.2,258.7 187.6,257.5 180.1,256.2 172.7,255.0 165.5,253.8 158.3,252.6 151.3,251.4 144.4,250.3 137.6,249.2 139.1,246.6 145.9,247.8 152.8,248.9 159.8,250.0 167.0,251.2 174.2,252.4 181.6,253.6 189.1,254.8 196.7,256.0 204.5,257.3 212.4,258.6 220.4,259.9 228.6,261.2 236.9,262.6 245.4,263.9 254.1,265.4 262.9,266.8" fill="#e03827"/><polygon points="262.2,268.2 253.4,266.8 244.7,265.4 236.2,264.0 227.9,262.6 219.7,261.3 211.7,259.9 203.7,258.6 196.0,257.4 188.3,256.1 180.8,254.9 173.5,253.7 166.2,252.5 159.1,251.3 152.1,250.2 145.2,249.0 138.4,247.9 139.9,245.4 146.7,246.5 153.6,247.6 160.6,248.7 167.7,249.9 175.0,251.0 182.3,252.2 189.8,253.4 197.5,254.7 205.2,255.9 213.1,257.2 221.2,258.5 229.3,259.8 237.7,261.1 246.2,262.5 254.8,263.9 263.6,265.3" fill="#df3727"/><polygon points="262.9,266.8 254.1,265.4 245.4,263.9 236.9,262.6 228.6,261.2 220.4,259.9 212.4,258.6 204.5,257.3 196.7,256.0 189.1,254.8 181.6,253.6 174.2,252.4 167.0,251.2 159.8,250.0 152.8,248.9 145.9,247.8 139.1,246.6 140.6,244.1 147.4,245.2 154.3,246.3 161.3,247.4 168.4,248.6 175.7,249.7 183.1,250.9 190.6,252.1 198.2,253.3 206.0,254.5 213.8,255.8 221.9,257.1 230.1,258.4 238.4,259.7 246.9,261.1 255.5,262.5 264.3,263.9" fill="#df3727"/><polygon points="263.6,265.3 254.8,263.9 246.2,262.5 237.7,261.1 229.3,259.8 221.2,258.5 213.1,257.2 205.2,255.9 197.5,254.7 189.8,253.4 182.3,252.2 175.0,251.0 167.7,249.9 160.6,248.7 153.6,247.6 146.7,246.5 139.9,245.4 141.4,242.9 148.1,243.9 155.0,245.0 162.1,246.1 169.2,247.3 176.4,248.4 183.8,249.6 191.3,250.8 198.9,252.0 206.7,253.2 214.6,254.4 222.6,255.7 230.8,257.0 239.1,258.3 247.6,259.7 256.2,261.0 265.0,262.4" fill="#df3727"/><polygon points="264.3,263.9 255.5,262.5 246.9,261.1 238.4,259.7 230.1,258.4 221.9,257.1 213.8,255.8 206.0,254.5 198.2,253.3 190.6,252.1 183.1,250.9 175.7,249.7 168.4,248.6 161.3,247.4 154.3,246.3 147.4,245.2 140.6,244.1 142.1,241.6 148.9,242.7 155.8,243.7 162.8,244.8 169.9,246.0 177.2,247.1 184.5,248.2 192.0,249.4 199.7,250.6 207.4,251.8 215.3,253.1 223.3,254.3 231.5,255.6 239.8,256.9 248.3,258.2 256.9,259.6 265.7,261.0" fill="#df3726"/><polygon points="265.0,262.4 256.2,261.0 247.6,259.7 239.1,258.3 230.8,257.0 222.6,255.7 214.6,254.4 206.7,253.2 198.9,252.0 191.3,250.8 183.8,249.6 176.4,248.4 169.2,247.3 162.1,246.1 155.0,245.0 148.1,243.9 141.4,242.9 142.9,240.4 149.6,241.4 156.5,242.5 163.5,243.6 170.7,244.7 177.9,245.8 185.3,246.9 192.8,248.1 200.4,249.3 208.1,250.5 216.0,251.7 224.1,252.9 232.2,254.2 240.6,255.5 249.0,256.8 257.7,258.2 266.4,259.5" fill="#df3726"/><polygon points="265.7,261.0 256.9,259.6 248.3,258.2 239.8,256.9 231.5,255.6 223.3,254.3 215.3,253.1 207.4,251.8 199.7,250.6 192.0,249.4 184.5,248.2 177.2,247.1 169.9,246.0 162.8,244.8 155.8,243.7 148.9,242.7 142.1,241.6 143.6,239.1 150.4,240.1 157.3,241.2 164.3,242.3 171.4,243.4 178.6,244.5 186.0,245.6 193.5,246.8 201.1,247.9 208.9,249.1 216.8,250.3 224.8,251.6 233.0,252.8 241.3,254.1 249.7,255.4 258.4,256.7 267.2,258.1" fill="#de3626"/><polygon points="266.4,259.5 257.7,258.2 249.0,256.8 240.6,255.5 232.2,254.2 224.1,252.9 216.0,251.7 208.1,250.5 200.4,249.3 192.8,248.1 185.3,246.9 177.9,245.8 170.7,244.7 163.5,243.6 156.5,242.5 149.6,241.4 142.9,240.4 144.3,237.8 151.1,238.9 158.0,239.9 165.0,241.0 172.1,242.1 179.4,243.2 186.7,244.3 194.2,245.4 201.8,246.6 209.6,247.8 217.5,249.0 225.5,250.2 233.7,251.4 242.0,252.7 250.5,254.0 259.1,255.3 267.9,256.6" fill="#de3626"/><polygon points="267.2,258.1 258.4,256.7 249.7,255.4 241.3,254.1 233.0,252.8 224.8,251.6 216.8,250.3 208.9,249.1 201.1,247.9 193.5,246.8 186.0,245.6 178.6,244.5 171.4,243.4 164.3,242.3 157.3,241.2 150.4,240.1 143.6,239.1 145.1,236.6 151.9,237.6 158.8,238.7 165.8,239.7 172.9,240.8 180.1,241.9 187.5,243.0 195.0,244.1 202.6,245.2 210.3,246.4 218.2,247.6 226.2,248.8 234.4,250.0 242.7,251.3 251.2,252.6 259.8,253.9 268.6,255.2" fill="#de3626"/><polygon points="267.9,256.6 259.1,255.3 250.5,254.0 242.0,252.7 233.7,251.4 225.5,250.2 217.5,249.0 209.6,247.8 201.8,246.6 194.2,245.4 186.7,244.3 179.4,243.2 172.1,242.1 165.0,241.0 158.0,239.9 151.1,238.9 144.3,237.8 145.8,235.4 152.6,236.4 159.5,237.4 166.5,238.4 173.6,239.5 180.8,240.6 188.2,241.7 195.7,242.8 203.3,243.9 211.0,245.1 218.9,246.2 226.9,247.4 235.1,248.7 243.4,249.9 251.9,251.2 260.5,252.4 269.3,253.8" fill="#dc3626"/><polygon points="268.6,255.2 259.8,253.9 251.2,252.6 242.7,251.3 234.4,250.0 226.2,248.8 218.2,247.6 210.3,246.4 202.6,245.2 195.0,244.1 187.5,243.0 180.1,241.9 172.9,240.8 165.8,239.7 158.8,238.7 151.9,237.6 145.1,236.6 146.6,234.1 153.3,235.1 160.2,236.1 167.2,237.1 174.3,238.2 181.6,239.3 188.9,240.4 196.4,241.5 204.0,242.6 211.8,243.7 219.6,244.9 227.7,246.1 235.8,247.3 244.1,248.5 252.6,249.7 261.2,251.0 270.0,252.3" fill="#d93526"/><polygon points="269.3,253.8 260.5,252.4 251.9,251.2 243.4,249.9 235.1,248.7 226.9,247.4 218.9,246.2 211.0,245.1 203.3,243.9 195.7,242.8 188.2,241.7 180.8,240.6 173.6,239.5 166.5,238.4 159.5,237.4 152.6,236.4 145.8,235.4 147.3,232.9 154.1,233.8 161.0,234.9 168.0,235.9 175.1,236.9 182.3,238.0 189.7,239.0 197.1,240.1 204.7,241.2 212.5,242.4 220.4,243.5 228.4,244.7 236.5,245.9 244.8,247.1 253.3,248.3 261.9,249.6 270.7,250.9" fill="#d63526"/><polygon points="270.0,252.3 261.2,251.0 252.6,249.7 244.1,248.5 235.8,247.3 227.7,246.1 219.6,244.9 211.8,243.7 204.0,242.6 196.4,241.5 188.9,240.4 181.6,239.3 174.3,238.2 167.2,237.1 160.2,236.1 153.3,235.1 146.6,234.1 148.0,231.6 154.8,232.6 161.7,233.6 168.7,234.6 175.8,235.6 183.0,236.7 190.4,237.7 197.9,238.8 205.5,239.9 213.2,241.0 221.1,242.2 229.1,243.3 237.2,244.5 245.5,245.7 254.0,246.9 262.6,248.2 271.4,249.5" fill="#d33426"/><polygon points="270.7,250.9 261.9,249.6 253.3,248.3 244.8,247.1 236.5,245.9 228.4,244.7 220.4,243.5 212.5,242.4 204.7,241.2 197.1,240.1 189.7,239.0 182.3,238.0 175.1,236.9 168.0,235.9 161.0,234.9 154.1,233.8 147.3,232.9 148.8,230.4 155.6,231.3 162.4,232.3 169.4,233.3 176.5,234.3 183.8,235.4 191.1,236.4 198.6,237.5 206.2,238.6 213.9,239.7 221.8,240.8 229.8,242.0 237.9,243.1 246.2,244.3 254.7,245.5 263.3,246.8 272.1,248.0" fill="#cd3326"/><polygon points="271.4,249.5 262.6,248.2 254.0,246.9 245.5,245.7 237.2,244.5 229.1,243.3 221.1,242.2 213.2,241.0 205.5,239.9 197.9,238.8 190.4,237.7 183.0,236.7 175.8,235.6 168.7,234.6 161.7,233.6 154.8,232.6 148.0,231.6 149.5,229.1 156.3,230.1 163.2,231.1 170.1,232.1 177.3,233.1 184.5,234.1 191.8,235.1 199.3,236.2 206.9,237.3 214.6,238.4 222.5,239.5 230.5,240.6 238.7,241.8 247.0,242.9 255.4,244.1 264.0,245.4 272.8,246.6" fill="#c53125"/><polygon points="272.1,248.0 263.3,246.8 254.7,245.5 246.2,244.3 237.9,243.1 229.8,242.0 221.8,240.8 213.9,239.7 206.2,238.6 198.6,237.5 191.1,236.4 183.8,235.4 176.5,234.3 169.4,233.3 162.4,232.3 155.6,231.3 148.8,230.4 150.3,227.9 157.0,228.9 163.9,229.8 170.9,230.8 178.0,231.8 185.2,232.8 192.5,233.8 200.0,234.9 207.6,235.9 215.3,237.0 223.2,238.1 231.2,239.2 239.4,240.4 247.7,241.6 256.1,242.7 264.7,243.9 273.5,245.2" fill="#be3025"/><polygon points="272.8,246.6 264.0,245.4 255.4,244.1 247.0,242.9 238.7,241.8 230.5,240.6 222.5,239.5 214.6,238.4 206.9,237.3 199.3,236.2 191.8,235.1 184.5,234.1 177.3,233.1 170.1,232.1 163.2,231.1 156.3,230.1 149.5,229.1 151.0,226.7 157.7,227.6 164.6,228.6 171.6,229.5 178.7,230.5 185.9,231.5 193.3,232.5 200.7,233.6 208.3,234.6 216.1,235.7 223.9,236.8 231.9,237.9 240.1,239.0 248.4,240.2 256.8,241.3 265.4,242.5 274.2,243.7" fill="#b62f24"/><polygon points="273.5,245.2 264.7,243.9 256.1,242.7 247.7,241.6 239.4,240.4 231.2,239.2 223.2,238.1 215.3,237.0 207.6,235.9 200.0,234.9 192.5,233.8 185.2,232.8 178.0,231.8 170.9,230.8 163.9,229.8 157.0,228.9 150.3,227.9 151.7,225.4 158.5,226.4 165.3,227.3 172.3,228.3 179.4,229.2 186.6,230.2 194.0,231.2 201.4,232.3 209.0,233.3 216.8,234.4 224.6,235.4 232.6,236.5 240.8,237.7 249.1,238.8 257.5,239.9 266.1,241.1 274.8,242.3" fill="#af2d24"/><polygon points="274.2,243.7 265.4,242.5 256.8,241.3 248.4,240.2 240.1,239.0 231.9,237.9 223.9,236.8 216.1,235.7 208.3,234.6 200.7,233.6 193.3,232.5 185.9,231.5 178.7,230.5 171.6,229.5 164.6,228.6 157.7,227.6 151.0,226.7 152.5,224.2 159.2,225.1 166.1,226.1 173.1,227.0 180.1,228.0 187.4,228.9 194.7,229.9 202.2,231.0 209.8,232.0 217.5,233.0 225.3,234.1 233.3,235.2 241.5,236.3 249.8,237.4 258.2,238.6 266.8,239.7 275.5,240.9" fill="#a72c24"/><polygon points="274.8,242.3 266.1,241.1 257.5,239.9 249.1,238.8 240.8,237.7 232.6,236.5 224.6,235.4 216.8,234.4 209.0,233.3 201.4,232.3 194.0,231.2 186.6,230.2 179.4,229.2 172.3,228.3 165.3,227.3 158.5,226.4 151.7,225.4 153.2,223.0 159.9,223.9 166.8,224.8 173.8,225.7 180.9,226.7 188.1,227.7 195.4,228.6 202.9,229.6 210.5,230.7 218.2,231.7 226.0,232.8 234.0,233.8 242.2,234.9 250.5,236.0 258.9,237.2 267.5,238.3 276.2,239.5" fill="#a02a23"/><polygon points="275.5,240.9 266.8,239.7 258.2,238.6 249.8,237.4 241.5,236.3 233.3,235.2 225.3,234.1 217.5,233.0 209.8,232.0 202.2,231.0 194.7,229.9 187.4,228.9 180.1,228.0 173.1,227.0 166.1,226.1 159.2,225.1 152.5,224.2 153.9,221.8 160.7,222.6 167.5,223.6 174.5,224.5 181.6,225.4 188.8,226.4 196.1,227.4 203.6,228.3 211.2,229.4 218.9,230.4 226.7,231.4 234.7,232.5 242.9,233.6 251.2,234.7 259.6,235.8 268.2,236.9 276.9,238.1" fill="#992923"/><polygon points="276.2,239.5 267.5,238.3 258.9,237.2 250.5,236.0 242.2,234.9 234.0,233.8 226.0,232.8 218.2,231.7 210.5,230.7 202.9,229.6 195.4,228.6 188.1,227.7 180.9,226.7 173.8,225.7 166.8,224.8 159.9,223.9 153.2,223.0 154.6,220.5 161.4,221.4 168.2,222.3 175.2,223.2 182.3,224.2 189.5,225.1 196.8,226.1 204.3,227.0 211.9,228.0 219.6,229.1 227.4,230.1 235.4,231.1 243.6,232.2 251.8,233.3 260.3,234.4 268.9,235.5 277.6,236.7" fill="#912722"/><polygon points="276.9,238.1 268.2,236.9 259.6,235.8 251.2,234.7 242.9,233.6 234.7,232.5 226.7,231.4 218.9,230.4 211.2,229.4 203.6,228.3 196.1,227.4 188.8,226.4 181.6,225.4 174.5,224.5 167.5,223.6 160.7,222.6 153.9,221.8 155.4,219.3 162.1,220.2 169.0,221.1 175.9,222.0 183.0,222.9 190.2,223.8 197.6,224.8 205.0,225.8 212.6,226.7 220.3,227.7 228.2,228.8 236.1,229.8 244.3,230.8 252.5,231.9 261.0,233.0 269.5,234.1 278.3,235.3" fill="#8a2622"/><polygon points="277.6,236.7 268.9,235.5 260.3,234.4 251.8,233.3 243.6,232.2 235.4,231.1 227.4,230.1 219.6,229.1 211.9,228.0 204.3,227.0 196.8,226.1 189.5,225.1 182.3,224.2 175.2,223.2 168.2,222.3 161.4,221.4 154.6,220.5 156.1,218.1 162.8,218.9 169.7,219.8 176.7,220.7 183.7,221.6 190.9,222.6 198.3,223.5 205.7,224.5 213.3,225.4 221.0,226.4 228.9,227.4 236.8,228.5 245.0,229.5 253.2,230.6 261.7,231.6 270.2,232.7 279.0,233.9" fill="#822421"/><polygon points="278.3,235.3 269.5,234.1 261.0,233.0 252.5,231.9 244.3,230.8 236.1,229.8 228.2,228.8 220.3,227.7 212.6,226.7 205.0,225.8 197.6,224.8 190.2,223.8 183.0,222.9 175.9,222.0 169.0,221.1 162.1,220.2 155.4,219.3 156.8,216.9 163.6,217.7 170.4,218.6 177.4,219.5 184.5,220.4 191.7,221.3 199.0,222.2 206.4,223.2 214.0,224.1 221.7,225.1 229.6,226.1 237.5,227.1 245.7,228.1 253.9,229.2 262.3,230.3 270.9,231.4 279.6,232.5" fill="#7b2321"/><polygon points="279.0,233.9 270.2,232.7 261.7,231.6 253.2,230.6 245.0,229.5 236.8,228.5 228.9,227.4 221.0,226.4 213.3,225.4 205.7,224.5 198.3,223.5 190.9,222.6 183.7,221.6 176.7,220.7 169.7,219.8 162.8,218.9 156.1,218.1 157.5,215.6 164.3,216.5 171.1,217.4 178.1,218.2 185.2,219.1 192.4,220.0 199.7,220.9 207.1,221.9 214.7,222.8 222.4,223.8 230.3,224.8 238.2,225.8 246.3,226.8 254.6,227.8 263.0,228.9 271.6,230.0 280.3,231.1" fill="#762220"/><polygon points="279.6,232.5 270.9,231.4 262.3,230.3 253.9,229.2 245.7,228.1 237.5,227.1 229.6,226.1 221.7,225.1 214.0,224.1 206.4,223.2 199.0,222.2 191.7,221.3 184.5,220.4 177.4,219.5 170.4,218.6 163.6,217.7 156.8,216.9 158.3,214.4 165.0,215.3 171.8,216.1 178.8,217.0 185.9,217.9 193.1,218.7 200.4,219.7 207.8,220.6 215.4,221.5 223.1,222.5 230.9,223.4 238.9,224.4 247.0,225.4 255.3,226.5 263.7,227.5 272.3,228.6 281.0,229.7" fill="#71201f"/><polygon points="280.3,231.1 271.6,230.0 263.0,228.9 254.6,227.8 246.3,226.8 238.2,225.8 230.3,224.8 222.4,223.8 214.7,222.8 207.1,221.9 199.7,220.9 192.4,220.0 185.2,219.1 178.1,218.2 171.1,217.4 164.3,216.5 157.5,215.6 159.0,213.2 165.7,214.0 172.6,214.9 179.5,215.7 186.6,216.6 193.8,217.5 201.1,218.4 208.5,219.3 216.1,220.2 223.8,221.2 231.6,222.1 239.6,223.1 247.7,224.1 256.0,225.1 264.4,226.1 273.0,227.2 281.7,228.3" fill="#6b1f1f"/><polygon points="281.0,229.7 272.3,228.6 263.7,227.5 255.3,226.5 247.0,225.4 238.9,224.4 230.9,223.4 223.1,222.5 215.4,221.5 207.8,220.6 200.4,219.7 193.1,218.7 185.9,217.9 178.8,217.0 171.8,216.1 165.0,215.3 158.3,214.4 159.7,212.0 166.4,212.8 173.3,213.6 180.2,214.5 187.3,215.3 194.5,216.2 201.8,217.1 209.2,218.0 216.8,218.9 224.5,219.9 232.3,220.8 240.3,221.8 248.4,222.8 256.7,223.8 265.1,224.8 273.6,225.8 282.4,226.9" fill="#661e1e"/><polygon points="281.7,228.3 273.0,227.2 264.4,226.1 256.0,225.1 247.7,224.1 239.6,223.1 231.6,222.1 223.8,221.2 216.1,220.2 208.5,219.3 201.1,218.4 193.8,217.5 186.6,216.6 179.5,215.7 172.6,214.9 165.7,214.0 159.0,213.2 160.4,210.8 167.2,211.6 174.0,212.4 180.9,213.3 188.0,214.1 195.2,215.0 202.5,215.8 209.9,216.7 217.5,217.6 225.2,218.6 233.0,219.5 241.0,220.4 249.1,221.4 257.4,222.4 265.8,223.4 274.3,224.4 283.0,225.5" fill="#611d1d"/><polygon points="282.4,226.9 273.6,225.8 265.1,224.8 256.7,223.8 248.4,222.8 240.3,221.8 232.3,220.8 224.5,219.9 216.8,218.9 209.2,218.0 201.8,217.1 194.5,216.2 187.3,215.3 180.2,214.5 173.3,213.6 166.4,212.8 159.7,212.0 161.1,209.6 167.9,210.4 174.7,211.2 181.7,212.0 188.7,212.8 195.9,213.7 203.2,214.6 210.7,215.4 218.2,216.3 225.9,217.2 233.7,218.2 241.7,219.1 249.8,220.1 258.0,221.0 266.5,222.0 275.0,223.1 283.7,224.1" fill="#5c1c1c"/><polygon points="283.0,225.5 274.3,224.4 265.8,223.4 257.4,222.4 249.1,221.4 241.0,220.4 233.0,219.5 225.2,218.6 217.5,217.6 209.9,216.7 202.5,215.8 195.2,215.0 188.0,214.1 180.9,213.3 174.0,212.4 167.2,211.6 160.4,210.8 161.1,209.6 167.9,210.4 174.7,211.2 181.7,212.0 188.7,212.8 195.9,213.7 203.2,214.6 210.7,215.4 218.2,216.3 225.9,217.2 233.7,218.2 241.7,219.1 249.8,220.1 258.0,221.0 266.5,222.0 275.0,223.1 283.7,224.1" fill="#571b1b"/></g>
<g fill="none" stroke="#3a3a3a" stroke-opacity="0.11" stroke-width="0.6"><polyline points="168.8,421.2 176.0,408.0 183.1,395.0 190.0,382.2 196.9,369.4 203.7,356.8 210.3,344.3 216.9,331.8 223.4,319.4 229.8,307.1 236.1,294.8 242.3,282.6 248.4,270.4 254.5,258.3 260.4,246.3 266.3,234.5 272.1,222.7"/><polyline points="157.5,417.0 164.7,404.0 171.8,391.1 178.7,378.4 185.6,365.9 192.4,353.4 199.0,341.0 205.6,328.7 212.1,316.5 218.5,304.3 224.7,292.2 231.0,280.2 237.1,268.2 243.1,256.4 249.1,244.6 255.0,232.9 260.8,221.4"/><polyline points="146.5,412.9 153.7,400.1 160.8,387.3 167.7,374.8 174.6,362.4 181.3,350.1 188.0,337.8 194.6,325.7 201.0,313.6 207.4,301.7 213.7,289.7 219.9,277.9 226.1,266.1 232.1,254.5 238.1,242.9 244.0,231.4 249.8,220.1"/><polyline points="135.8,409.0 143.0,396.2 150.0,383.7 157.0,371.2 163.8,359.0 170.6,346.8 177.2,334.7 183.8,322.8 190.3,310.9 196.7,299.0 203.0,287.3 209.2,275.6 215.3,264.1 221.3,252.6 227.3,241.2 233.2,229.9 239.0,218.8"/><polyline points="125.4,405.1 132.6,392.5 139.6,380.1 146.5,367.8 153.4,355.6 160.1,343.6 166.8,331.7 173.3,319.9 179.8,308.1 186.2,296.5 192.4,284.9 198.6,273.4 204.8,262.1 210.8,250.8 216.8,239.6 222.7,228.5 228.5,217.6"/><polyline points="115.3,401.4 122.4,388.9 129.4,376.6 136.3,364.4 143.2,352.4 149.9,340.5 156.5,328.7 163.1,317.1 169.5,305.5 175.9,294.0 182.2,282.6 188.4,271.3 194.5,260.1 200.5,249.0 206.5,238.0 212.4,227.1 218.2,216.3"/><polyline points="105.4,397.7 112.5,385.4 119.5,373.2 126.4,361.1 133.2,349.3 139.9,337.5 146.6,325.8 153.1,314.3 159.5,302.9 165.9,291.6 172.2,280.3 178.4,269.2 184.5,258.2 190.5,247.2 196.5,236.4 202.4,225.7 208.2,215.1"/><polyline points="95.7,394.1 102.8,381.9 109.8,369.8 116.7,357.9 123.5,346.2 130.2,334.5 136.8,323.0 143.3,311.6 149.8,300.4 156.1,289.2 162.4,278.1 168.6,267.1 174.7,256.3 180.7,245.5 186.7,234.9 192.5,224.4 198.3,214.0"/><polyline points="86.3,390.6 93.4,378.5 100.3,366.6 107.2,354.8 114.0,343.2 120.7,331.7 127.3,320.3 133.8,309.0 140.2,297.9 146.6,286.9 152.8,275.9 159.0,265.1 165.1,254.4 171.1,243.9 177.1,233.4 182.9,223.1 188.7,212.8"/><polyline points="77.1,387.2 84.2,375.3 91.1,363.4 98.0,351.8 104.7,340.2 111.4,328.8 118.0,317.6 124.5,306.5 130.9,295.5 137.2,284.6 143.5,273.8 149.6,263.2 155.7,252.7 161.7,242.2 167.7,232.0 173.5,221.8 179.3,211.7"/><polyline points="68.2,383.9 75.2,372.1 82.1,360.3 88.9,348.8 95.7,337.4 102.3,326.1 108.9,315.0 115.4,304.0 121.8,293.1 128.1,282.4 134.3,271.7 140.5,261.3 146.6,250.9 152.6,240.7 158.5,230.5 164.4,220.5 170.1,210.7"/><polyline points="199.3,390.3 193.5,388.4 187.7,386.4 182.0,384.5 176.4,382.6 170.9,380.8 165.4,379.0 160.0,377.2 154.7,375.4 149.4,373.6 144.2,371.9 139.1,370.2 134.0,368.5 129.0,366.8 124.1,365.1 119.2,363.5 114.4,361.9 109.6,360.3 104.9,358.7 100.3,357.2 95.7,355.6 91.2,354.1 86.7,352.6 82.2,351.1 77.9,349.7"/><polyline points="217.5,356.1 211.7,354.4 205.9,352.6 200.2,350.9 194.6,349.3 189.0,347.6 183.6,346.0 178.2,344.4 172.8,342.8 167.6,341.2 162.3,339.6 157.2,338.1 152.1,336.6 147.1,335.1 142.1,333.6 137.2,332.1 132.4,330.7 127.6,329.3 122.9,327.9 118.2,326.5 113.6,325.1 109.0,323.7 104.5,322.4 100.1,321.0 95.7,319.7"/><polyline points="235.0,322.4 229.1,320.9 223.4,319.4 217.7,318.0 212.1,316.5 206.5,315.1 201.0,313.6 195.6,312.2 190.3,310.9 185.0,309.5 179.8,308.1 174.6,306.8 169.5,305.5 164.5,304.2 159.5,302.9 154.6,301.6 149.8,300.4 145.0,299.1 140.2,297.9 135.5,296.7 130.9,295.5 126.3,294.3 121.8,293.1 117.3,291.9 112.9,290.8"/><polyline points="251.8,289.1 246.0,287.9 240.2,286.6 234.5,285.4 228.9,284.2 223.4,283.0 217.9,281.8 212.5,280.7 207.1,279.5 201.8,278.4 196.6,277.3 191.4,276.1 186.3,275.0 181.3,274.0 176.3,272.9 171.4,271.8 166.5,270.8 161.7,269.7 156.9,268.7 152.2,267.7 147.6,266.7 143.0,265.7 138.4,264.7 133.9,263.8 129.5,262.8"/><polyline points="268.0,256.3 262.2,255.3 256.5,254.3 250.8,253.4 245.1,252.4 239.6,251.5 234.1,250.6 228.7,249.7 223.3,248.8 218.0,247.9 212.8,247.0 207.6,246.2 202.5,245.3 197.5,244.5 192.5,243.6 187.6,242.8 182.7,242.0 177.9,241.2 173.1,240.4 168.4,239.6 163.7,238.8 159.1,238.0 154.6,237.3 150.0,236.5 145.6,235.8"/></g>
<g fill="none" stroke="#2a2a2a" stroke-opacity="0.55" stroke-width="0.65"><polyline points="192.7,402.7 183.9,399.8 175.3,396.9 166.8,394.1 158.6,391.3 150.4,388.6 142.5,386.0 134.7,383.4 127.0,380.8 119.5,378.3 112.1,375.8 104.9,373.4 97.8,371.0 90.8,368.7 83.9,366.4 77.2,364.2 70.6,361.9"/><polyline points="204.5,380.6 195.7,377.9 187.0,375.3 178.5,372.8 170.2,370.3 162.0,367.8 154.0,365.4 146.2,363.1 138.4,360.7 130.9,358.5 123.4,356.2 116.1,354.0 108.9,351.9 101.9,349.7 95.0,347.7 88.2,345.6 81.5,343.6"/><polyline points="215.9,359.1 207.1,356.7 198.4,354.4 189.8,352.1 181.5,349.8 173.3,347.6 165.2,345.4 157.3,343.3 149.5,341.2 141.9,339.1 134.4,337.1 127.1,335.1 119.8,333.1 112.7,331.2 105.8,329.3 98.9,327.5 92.2,325.6"/><polyline points="226.8,338.3 217.9,336.1 209.2,334.0 200.7,331.9 192.3,329.9 184.1,327.9 176.0,325.9 168.1,324.0 160.3,322.1 152.6,320.2 145.1,318.4 137.7,316.6 130.4,314.8 123.3,313.1 116.3,311.4 109.4,309.7 102.6,308.0"/><polyline points="237.2,318.0 228.4,316.1 219.7,314.2 211.1,312.3 202.7,310.5 194.5,308.7 186.4,306.9 178.5,305.2 170.7,303.5 163.0,301.8 155.5,300.1 148.1,298.5 140.8,296.9 133.6,295.3 126.6,293.8 119.7,292.3 112.9,290.8"/><polyline points="247.2,298.3 238.4,296.6 229.7,294.9 221.1,293.2 212.8,291.6 204.5,289.9 196.5,288.4 188.5,286.8 180.7,285.3 173.1,283.8 165.5,282.3 158.1,280.8 150.8,279.4 143.7,278.0 136.6,276.6 129.7,275.2 122.9,273.9"/><polyline points="256.8,279.1 248.0,277.6 239.3,276.1 230.8,274.6 222.4,273.1 214.2,271.7 206.2,270.2 198.3,268.8 190.5,267.5 182.8,266.1 175.3,264.8 167.9,263.5 160.6,262.2 153.5,261.0 146.5,259.7 139.6,258.5 132.8,257.3"/><polyline points="266.0,260.4 257.2,259.0 248.6,257.7 240.1,256.3 231.8,255.0 223.6,253.8 215.6,252.5 207.7,251.3 199.9,250.1 192.3,248.9 184.8,247.7 177.5,246.6 170.2,245.4 163.1,244.3 156.1,243.2 149.2,242.2 142.4,241.1"/><polyline points="275.0,242.0 266.2,240.8 257.6,239.7 249.2,238.5 240.9,237.4 232.8,236.3 224.8,235.2 216.9,234.1 209.2,233.0 201.6,232.0 194.1,231.0 186.8,230.0 179.6,229.0 172.5,228.0 165.5,227.1 158.6,226.1 151.9,225.2"/></g>
<line x1="59.4" y1="380.7" x2="53.2" y2="226.4" stroke="#e8412c" stroke-width="1.40" />
<line x1="59.4" y1="380.7" x2="180.4" y2="425.5" stroke="#111" stroke-width="1.60" stroke-linecap="square"/><line x1="180.4" y1="425.5" x2="276.3" y2="374.8" stroke="#111" stroke-width="1.60" stroke-linecap="square"/><line x1="180.4" y1="425.5" x2="177.6" y2="426.9" stroke="#111" stroke-width="1.10" /><line x1="153.1" y1="415.4" x2="151.4" y2="416.2" stroke="#111" stroke-width="1.10" /><line x1="127.5" y1="405.9" x2="124.6" y2="407.2" stroke="#111" stroke-width="1.10" /><line x1="103.4" y1="397.0" x2="101.8" y2="397.7" stroke="#111" stroke-width="1.10" /><line x1="80.8" y1="388.6" x2="77.9" y2="389.7" stroke="#111" stroke-width="1.10" /><line x1="180.4" y1="425.5" x2="183.2" y2="426.5" stroke="#111" stroke-width="1.10" /><line x1="198.9" y1="415.7" x2="200.6" y2="416.3" stroke="#111" stroke-width="1.10" /><line x1="216.3" y1="406.5" x2="219.0" y2="407.5" stroke="#111" stroke-width="1.10" /><line x1="232.6" y1="397.9" x2="234.3" y2="398.4" stroke="#111" stroke-width="1.10" /><line x1="248.0" y1="389.8" x2="250.7" y2="390.6" stroke="#111" stroke-width="1.10" /><line x1="262.6" y1="382.1" x2="264.2" y2="382.6" stroke="#111" stroke-width="1.10" /><line x1="276.3" y1="374.8" x2="279.0" y2="375.6" stroke="#111" stroke-width="1.10" />
<text transform="translate(55.2,386.3) rotate(-6)" font-size="11.8" fill="#e8412c" text-anchor="end">0</text>
<line x1="57.6" y1="334.5" x2="54.2" y2="334.7" stroke="#e8412c" stroke-width="1.1"/>
<text transform="translate(53.4,340.1) rotate(-6)" font-size="11.8" fill="#e8412c" text-anchor="end">-5</text>
<line x1="55.6" y1="286.5" x2="52.2" y2="286.7" stroke="#e8412c" stroke-width="1.1"/>
<text transform="translate(51.4,292.1) rotate(-6)" font-size="11.8" fill="#e8412c" text-anchor="end">-10</text>
<line x1="53.6" y1="236.6" x2="50.2" y2="236.8" stroke="#e8412c" stroke-width="1.1"/>
<text transform="translate(49.4,242.2) rotate(-6)" font-size="11.8" fill="#e8412c" text-anchor="end">-15</text>
<text transform="translate(31.6,345.6) rotate(-92.3) scale(1.04,0.96)" font-size="13.2" fill="#e8412c">ΔR/R<tspan font-size="8.8" dy="2.6">0</tspan><tspan dy="-2.6"> (%)</tspan></text>
<text transform="matrix(1.0814,0.4442,-1.2318,0.5476,82.86,419.71)" font-size="10" fill="#111" text-anchor="middle" y="0.0">Pressure (Pa)</text>
<text transform="matrix(1.1893,-0.4734,1.1991,0.4477,77.80,389.78)" font-size="10" fill="#111" text-anchor="end" y="3.4">200</text>
<text transform="matrix(1.1655,-0.5291,1.1991,0.4477,124.53,407.22)" font-size="10" fill="#111" text-anchor="end" y="3.4">100</text>
<text transform="matrix(1.1319,-0.5977,1.1991,0.4477,177.51,427.00)" font-size="10" fill="#111" text-anchor="end" y="3.4">0</text>
<text transform="matrix(0.8679,-0.5024,1.3692,0.4369,262.02,408.09)" font-size="10" fill="#111" text-anchor="middle" y="0.0">Temperature (°C)</text>
<text transform="matrix(1.1628,0.4306,-0.9299,0.4961,183.93,426.79)" font-size="10" fill="#111" text-anchor="start" y="3.4">20</text>
<text transform="matrix(1.1762,0.3926,-0.9299,0.4961,219.73,407.69)" font-size="10" fill="#111" text-anchor="start" y="3.4">25</text>
<text transform="matrix(1.1864,0.3606,-0.9299,0.4961,251.40,390.80)" font-size="10" fill="#111" text-anchor="start" y="3.4">30</text>
<text transform="matrix(1.1944,0.3332,-0.9299,0.4961,279.62,375.74)" font-size="10" fill="#111" text-anchor="start" y="3.4">35</text>
<rect x="292.5" y="232.7" width="14.5" height="136.5" fill="url(#cm)" stroke="#111" stroke-width="1.4"/><line x1="307.0" y1="241.2" x2="310.6" y2="241.2" stroke="#111" stroke-width="1.1"/><text transform="translate(315.6,245.9) scale(1.000,1)" font-size="15.5" fill="#111">-15</text><line x1="307.0" y1="283.7" x2="310.6" y2="283.7" stroke="#111" stroke-width="1.1"/><text transform="translate(315.6,288.4) scale(1.000,1)" font-size="15.5" fill="#111">-10</text><line x1="307.0" y1="326.2" x2="310.6" y2="326.2" stroke="#111" stroke-width="1.1"/><text transform="translate(315.6,330.9) scale(1.000,1)" font-size="15.5" fill="#111">-5</text><line x1="307.0" y1="369.0" x2="310.6" y2="369.0" stroke="#111" stroke-width="1.1"/><text transform="translate(315.6,373.7) scale(1.000,1)" font-size="15.5" fill="#111">0</text><text transform="translate(299.0,225.0) scale(0.87,1)" font-size="16.4" fill="#111" text-anchor="middle">%</text>
</g>
<text x="365.0" y="218.0" font-size="22.0" fill="#111" text-anchor="start" >c</text>
<g id="plot-c">
<line x1="404.1" y1="338.0" x2="523.8" y2="309.0" stroke="#e0e0e0" stroke-width="0.70" /><line x1="523.8" y1="309.0" x2="629.0" y2="345.6" stroke="#e0e0e0" stroke-width="0.70" /><line x1="402.6" y1="301.8" x2="523.8" y2="277.0" stroke="#e0e0e0" stroke-width="0.70" /><line x1="523.8" y1="277.0" x2="630.4" y2="308.8" stroke="#e0e0e0" stroke-width="0.70" /><line x1="401.0" y1="263.0" x2="523.8" y2="242.7" stroke="#e0e0e0" stroke-width="0.70" /><line x1="523.8" y1="242.7" x2="631.9" y2="269.2" stroke="#e0e0e0" stroke-width="0.70" /><line x1="448.4" y1="361.9" x2="444.6" y2="215.2" stroke="#e0e0e0" stroke-width="0.70" /><line x1="448.4" y1="361.9" x2="549.7" y2="407.8" stroke="#e0e0e0" stroke-width="0.70" /><line x1="487.7" y1="351.0" x2="486.0" y2="210.1" stroke="#e0e0e0" stroke-width="0.70" /><line x1="487.7" y1="351.0" x2="590.6" y2="392.6" stroke="#e0e0e0" stroke-width="0.70" /><line x1="582.3" y1="362.3" x2="585.5" y2="215.0" stroke="#e0e0e0" stroke-width="0.70" /><line x1="460.5" y1="402.1" x2="582.3" y2="362.3" stroke="#e0e0e0" stroke-width="0.70" /><line x1="542.1" y1="347.6" x2="543.2" y2="208.5" stroke="#e0e0e0" stroke-width="0.70" /><line x1="422.7" y1="382.7" x2="542.1" y2="347.6" stroke="#e0e0e0" stroke-width="0.70" />
<line x1="399.2" y1="220.7" x2="523.9" y2="205.5" stroke="#a4a4a4" stroke-width="0.80" /><line x1="523.9" y1="205.5" x2="633.7" y2="222.4" stroke="#a4a4a4" stroke-width="0.80" /><line x1="633.7" y1="222.4" x2="627.8" y2="379.0" stroke="#a4a4a4" stroke-width="0.80" /><line x1="523.9" y1="205.5" x2="523.7" y2="340.9" stroke="#a4a4a4" stroke-width="0.80" /><line x1="523.7" y1="340.9" x2="627.8" y2="379.0" stroke="#8c8c8c" stroke-width="0.80" /><line x1="523.7" y1="340.9" x2="405.5" y2="373.9" stroke="#787878" stroke-width="0.85" />
<g shape-rendering="geometricPrecision"><polygon points="504.2,424.5 513.1,421.3 521.8,418.0 530.4,414.9 538.7,411.8 547.0,408.8 555.0,405.7 562.9,402.5 570.7,399.3 578.3,396.0 585.8,392.8 593.1,389.6 600.3,386.5 607.4,383.4 614.4,380.3 621.2,377.2 627.9,374.2 627.9,374.2 621.2,377.2 614.4,380.3 607.4,383.4 600.3,386.5 592.8,389.2 585.0,391.7 577.2,394.3 569.1,396.9 561.0,399.6 552.9,402.3 544.7,405.2 536.5,408.2 528.1,411.2 519.5,414.3 510.7,417.5 501.8,420.7" fill="#8f23c8"/><polygon points="503.0,422.6 511.9,419.4 520.7,416.2 529.2,413.1 537.6,410.0 545.8,407.0 554.0,404.1 562.1,401.3 570.2,398.6 578.3,396.0 585.8,392.8 593.1,389.6 600.3,386.5 607.4,383.4 614.4,380.3 621.2,377.2 627.9,374.2 627.9,374.2 621.2,377.2 614.4,380.3 607.0,382.8 599.4,385.1 591.7,387.6 584.0,390.0 576.1,392.6 568.1,395.2 560.0,397.8 551.8,400.6 543.6,403.4 535.3,406.4 526.9,409.4 518.3,412.5 509.6,415.6 500.6,418.8" fill="#8d24c7"/><polygon points="501.8,420.7 510.7,417.5 519.5,414.3 528.1,411.2 536.5,408.2 544.7,405.2 552.9,402.3 561.0,399.6 569.1,396.9 577.2,394.3 585.0,391.7 592.8,389.2 600.3,386.5 607.4,383.4 614.4,380.3 621.2,377.2 627.9,374.2 627.9,374.2 620.8,376.6 613.4,378.8 605.9,381.1 598.3,383.5 590.6,385.9 582.9,388.4 575.0,390.9 567.0,393.5 558.9,396.1 550.7,398.8 542.5,401.7 534.2,404.6 525.8,407.6 517.2,410.6 508.4,413.7 499.4,416.9" fill="#8b25c7"/><polygon points="500.6,418.8 509.6,415.6 518.3,412.5 526.9,409.4 535.3,406.4 543.6,403.4 551.8,400.6 560.0,397.8 568.1,395.2 576.1,392.6 584.0,390.0 591.7,387.6 599.4,385.1 607.0,382.8 614.4,380.3 621.2,377.2 627.9,374.2 626.9,372.8 619.7,375.0 612.3,377.2 604.8,379.5 597.2,381.9 589.6,384.3 581.8,386.7 573.9,389.2 565.9,391.8 557.8,394.4 549.6,397.1 541.4,399.9 533.1,402.8 524.7,405.7 516.0,408.8 507.3,411.8 498.3,414.9" fill="#8927c7"/><polygon points="499.4,416.9 508.4,413.7 517.2,410.6 525.8,407.6 534.2,404.6 542.5,401.7 550.7,398.8 558.9,396.1 567.0,393.5 575.0,390.9 582.9,388.4 590.6,385.9 598.3,383.5 605.9,381.1 613.4,378.8 620.8,376.6 627.9,374.2 625.8,371.2 618.5,373.4 611.2,375.6 603.7,377.9 596.2,380.2 588.5,382.6 580.7,385.1 572.8,387.5 564.8,390.1 556.7,392.7 548.5,395.3 540.3,398.1 532.0,401.0 523.5,403.9 514.9,406.9 506.1,410.0 497.1,413.0" fill="#8728c6"/><polygon points="498.3,414.9 507.3,411.8 516.0,408.8 524.7,405.7 533.1,402.8 541.4,399.9 549.6,397.1 557.8,394.4 565.9,391.8 573.9,389.2 581.8,386.7 589.6,384.3 597.2,381.9 604.8,379.5 612.3,377.2 619.7,375.0 626.9,372.8 624.7,369.6 617.5,371.8 610.1,374.0 602.6,376.3 595.1,378.6 587.4,381.0 579.6,383.4 571.7,385.9 563.7,388.4 555.6,391.0 547.4,393.6 539.2,396.4 530.9,399.2 522.4,402.1 513.8,405.1 505.0,408.1 496.0,411.2" fill="#852ac6"/><polygon points="497.1,413.0 506.1,410.0 514.9,406.9 523.5,403.9 532.0,401.0 540.3,398.1 548.5,395.3 556.7,392.7 564.8,390.1 572.8,387.5 580.7,385.1 588.5,382.6 596.2,380.2 603.7,377.9 611.2,375.6 618.5,373.4 625.8,371.2 623.6,368.1 616.4,370.2 609.0,372.5 601.6,374.7 594.0,377.0 586.3,379.4 578.6,381.8 570.7,384.2 562.7,386.7 554.5,389.3 546.3,391.9 538.1,394.6 529.8,397.5 521.3,400.3 512.6,403.2 503.8,406.2 494.8,409.3" fill="#802dc5"/><polygon points="496.0,411.2 505.0,408.1 513.8,405.1 522.4,402.1 530.9,399.2 539.2,396.4 547.4,393.6 555.6,391.0 563.7,388.4 571.7,385.9 579.6,383.4 587.4,381.0 595.1,378.6 602.6,376.3 610.1,374.0 617.5,371.8 624.7,369.6 622.5,366.5 615.3,368.7 607.9,370.9 600.5,373.1 592.9,375.4 585.3,377.7 577.5,380.1 569.6,382.5 561.6,385.0 553.5,387.6 545.3,390.2 537.0,392.9 528.7,395.7 520.2,398.5 511.5,401.4 502.7,404.4 493.6,407.4" fill="#7a31c3"/><polygon points="494.8,409.3 503.8,406.2 512.6,403.2 521.3,400.3 529.8,397.5 538.1,394.6 546.3,391.9 554.5,389.3 562.7,386.7 570.7,384.2 578.6,381.8 586.3,379.4 594.0,377.0 601.6,374.7 609.0,372.5 616.4,370.2 623.6,368.1 621.5,365.0 614.2,367.1 606.9,369.3 599.4,371.5 591.9,373.8 584.2,376.1 576.4,378.5 568.5,380.9 560.5,383.4 552.4,385.9 544.2,388.5 536.0,391.2 527.6,393.9 519.1,396.7 510.4,399.6 501.5,402.5 492.5,405.5" fill="#7535c1"/><polygon points="493.6,407.4 502.7,404.4 511.5,401.4 520.2,398.5 528.7,395.7 537.0,392.9 545.3,390.2 553.5,387.6 561.6,385.0 569.6,382.5 577.5,380.1 585.3,377.7 592.9,375.4 600.5,373.1 607.9,370.9 615.3,368.7 622.5,366.5 620.4,363.4 613.1,365.5 605.8,367.7 598.4,369.9 590.8,372.2 583.1,374.5 575.4,376.8 567.5,379.2 559.5,381.7 551.3,384.2 543.1,386.8 534.9,389.4 526.5,392.2 518.0,395.0 509.3,397.8 500.4,400.7 491.4,403.6" fill="#7039bf"/><polygon points="492.5,405.5 501.5,402.5 510.4,399.6 519.1,396.7 527.6,393.9 536.0,391.2 544.2,388.5 552.4,385.9 560.5,383.4 568.5,380.9 576.4,378.5 584.2,376.1 591.9,373.8 599.4,371.5 606.9,369.3 614.2,367.1 621.5,365.0 619.3,361.9 612.1,364.0 604.8,366.1 597.3,368.3 589.8,370.6 582.1,372.9 574.3,375.2 566.4,377.6 558.4,380.0 550.3,382.5 542.1,385.0 533.8,387.7 525.4,390.4 516.9,393.2 508.2,396.0 499.3,398.9 490.2,401.8" fill="#6a3dbd"/><polygon points="491.4,403.6 500.4,400.7 509.3,397.8 518.0,395.0 526.5,392.2 534.9,389.4 543.1,386.8 551.3,384.2 559.5,381.7 567.5,379.2 575.4,376.8 583.1,374.5 590.8,372.2 598.4,369.9 605.8,367.7 613.1,365.5 620.4,363.4 618.3,360.3 611.0,362.4 603.7,364.6 596.3,366.8 588.7,369.0 581.1,371.3 573.3,373.6 565.4,375.9 557.4,378.4 549.2,380.8 541.0,383.3 532.7,386.0 524.4,388.7 515.8,391.4 507.1,394.2 498.2,397.0 489.1,399.9" fill="#6440bb"/><polygon points="490.2,401.8 499.3,398.9 508.2,396.0 516.9,393.2 525.4,390.4 533.8,387.7 542.1,385.0 550.3,382.5 558.4,380.0 566.4,377.6 574.3,375.2 582.1,372.9 589.8,370.6 597.3,368.3 604.8,366.1 612.1,364.0 619.3,361.9 617.2,358.8 610.0,360.9 602.7,363.0 595.2,365.2 587.7,367.4 580.0,369.7 572.2,372.0 564.3,374.3 556.3,376.7 548.2,379.1 540.0,381.7 531.7,384.3 523.3,386.9 514.7,389.6 506.0,392.4 497.1,395.2 488.0,398.1" fill="#5f44b9"/><polygon points="489.1,399.9 498.2,397.0 507.1,394.2 515.8,391.4 524.4,388.7 532.7,386.0 541.0,383.3 549.2,380.8 557.4,378.4 565.4,375.9 573.3,373.6 581.1,371.3 588.7,369.0 596.3,366.8 603.7,364.6 611.0,362.4 618.3,360.3 616.2,357.3 608.9,359.4 601.6,361.5 594.2,363.6 586.6,365.8 579.0,368.1 571.2,370.3 563.3,372.7 555.3,375.1 547.2,377.5 538.9,380.0 530.6,382.5 522.2,385.2 513.6,387.9 504.9,390.6 496.0,393.4 486.9,396.2" fill="#5947b8"/><polygon points="488.0,398.1 497.1,395.2 506.0,392.4 514.7,389.6 523.3,386.9 531.7,384.3 540.0,381.7 548.2,379.1 556.3,376.7 564.3,374.3 572.2,372.0 580.0,369.7 587.7,367.4 595.2,365.2 602.7,363.0 610.0,360.9 617.2,358.8 615.1,355.7 607.9,357.8 600.6,359.9 593.2,362.1 585.6,364.2 578.0,366.5 570.2,368.7 562.3,371.0 554.3,373.4 546.1,375.8 537.9,378.3 529.6,380.8 521.2,383.5 512.6,386.1 503.8,388.8 494.9,391.6 485.8,394.4" fill="#534bb6"/><polygon points="486.9,396.2 496.0,393.4 504.9,390.6 513.6,387.9 522.2,385.2 530.6,382.5 538.9,380.0 547.2,377.5 555.3,375.1 563.3,372.7 571.2,370.3 579.0,368.1 586.6,365.8 594.2,363.6 601.6,361.5 608.9,359.4 616.2,357.3 614.1,354.2 606.9,356.3 599.6,358.4 592.1,360.5 584.6,362.7 576.9,364.9 569.1,367.1 561.2,369.4 553.2,371.8 545.1,374.2 536.8,376.6 528.5,379.1 520.1,381.7 511.5,384.4 502.7,387.0 493.8,389.8 484.6,392.6" fill="#4d4eb5"/><polygon points="485.8,394.4 494.9,391.6 503.8,388.8 512.6,386.1 521.2,383.5 529.6,380.8 537.9,378.3 546.1,375.8 554.3,373.4 562.3,371.0 570.2,368.7 578.0,366.5 585.6,364.2 593.2,362.1 600.6,359.9 607.9,357.8 615.1,355.7 613.1,352.7 605.8,354.8 598.5,356.8 591.1,358.9 583.6,361.1 575.9,363.3 568.1,365.5 560.2,367.8 552.2,370.1 544.1,372.5 535.8,374.9 527.5,377.4 519.0,380.0 510.4,382.6 501.6,385.3 492.7,388.0 483.5,390.7" fill="#4952b4"/><polygon points="484.6,392.6 493.8,389.8 502.7,387.0 511.5,384.4 520.1,381.7 528.5,379.1 536.8,376.6 545.1,374.2 553.2,371.8 561.2,369.4 569.1,367.1 576.9,364.9 584.6,362.7 592.1,360.5 599.6,358.4 606.9,356.3 614.1,354.2 612.0,351.2 604.8,353.2 597.5,355.3 590.1,357.4 582.6,359.5 574.9,361.7 567.1,363.9 559.2,366.2 551.2,368.5 543.0,370.8 534.8,373.3 526.4,375.7 518.0,378.3 509.4,380.9 500.6,383.5 491.6,386.2 482.4,388.9" fill="#4755b5"/><polygon points="483.5,390.7 492.7,388.0 501.6,385.3 510.4,382.6 519.0,380.0 527.5,377.4 535.8,374.9 544.1,372.5 552.2,370.1 560.2,367.8 568.1,365.5 575.9,363.3 583.6,361.1 591.1,358.9 598.5,356.8 605.8,354.8 613.1,352.7 611.0,349.7 603.8,351.7 596.5,353.8 589.1,355.9 581.5,358.0 573.9,360.1 566.1,362.3 558.2,364.6 550.2,366.9 542.0,369.2 533.7,371.6 525.4,374.1 516.9,376.6 508.3,379.1 499.5,381.7 490.5,384.4 481.4,387.1" fill="#4558b6"/><polygon points="482.4,388.9 491.6,386.2 500.6,383.5 509.4,380.9 518.0,378.3 526.4,375.7 534.8,373.3 543.0,370.8 551.2,368.5 559.2,366.2 567.1,363.9 574.9,361.7 582.6,359.5 590.1,357.4 597.5,355.3 604.8,353.2 612.0,351.2 610.0,348.2 602.8,350.2 595.5,352.2 588.1,354.3 580.5,356.4 572.9,358.6 565.1,360.8 557.2,363.0 549.2,365.2 541.0,367.6 532.7,369.9 524.4,372.4 515.9,374.9 507.3,377.4 498.4,380.0 489.4,382.6 480.3,385.3" fill="#435cb6"/><polygon points="481.4,387.1 490.5,384.4 499.5,381.7 508.3,379.1 516.9,376.6 525.4,374.1 533.7,371.6 542.0,369.2 550.2,366.9 558.2,364.6 566.1,362.3 573.9,360.1 581.5,358.0 589.1,355.9 596.5,353.8 603.8,351.7 611.0,349.7 609.0,346.7 601.8,348.7 594.5,350.7 587.1,352.8 579.5,354.9 571.9,357.0 564.1,359.2 556.2,361.4 548.1,363.6 540.0,365.9 531.7,368.3 523.3,370.7 514.9,373.2 506.2,375.7 497.4,378.2 488.4,380.8 479.2,383.5" fill="#415fb7"/><polygon points="480.3,385.3 489.4,382.6 498.4,380.0 507.3,377.4 515.9,374.9 524.4,372.4 532.7,369.9 541.0,367.6 549.2,365.2 557.2,363.0 565.1,360.8 572.9,358.6 580.5,356.4 588.1,354.3 595.5,352.2 602.8,350.2 610.0,348.2 608.0,345.2 600.8,347.2 593.5,349.2 586.1,351.2 578.5,353.3 570.9,355.4 563.1,357.6 555.2,359.8 547.1,362.0 539.0,364.3 530.7,366.6 522.3,369.0 513.8,371.5 505.2,374.0 496.3,376.5 487.3,379.1 478.1,381.7" fill="#3f62b8"/><polygon points="479.2,383.5 488.4,380.8 497.4,378.2 506.2,375.7 514.9,373.2 523.3,370.7 531.7,368.3 540.0,365.9 548.1,363.6 556.2,361.4 564.1,359.2 571.9,357.0 579.5,354.9 587.1,352.8 594.5,350.7 601.8,348.7 609.0,346.7 607.0,343.7 599.8,345.7 592.5,347.7 585.1,349.7 577.6,351.8 569.9,353.9 562.1,356.0 554.2,358.2 546.1,360.4 538.0,362.7 529.7,365.0 521.3,367.3 512.8,369.8 504.1,372.2 495.3,374.8 486.2,377.3 477.0,379.9" fill="#446bbc"/><polygon points="478.1,381.7 487.3,379.1 496.3,376.5 505.2,374.0 513.8,371.5 522.3,369.0 530.7,366.6 539.0,364.3 547.1,362.0 555.2,359.8 563.1,357.6 570.9,355.4 578.5,353.3 586.1,351.2 593.5,349.2 600.8,347.2 608.0,345.2 606.0,342.2 598.8,344.2 591.5,346.2 584.1,348.2 576.6,350.2 568.9,352.3 561.1,354.4 553.2,356.6 545.2,358.8 537.0,361.0 528.7,363.3 520.3,365.7 511.8,368.1 503.1,370.5 494.2,373.0 485.2,375.5 476.0,378.1" fill="#4a76c0"/><polygon points="477.0,379.9 486.2,377.3 495.3,374.8 504.1,372.2 512.8,369.8 521.3,367.3 529.7,365.0 538.0,362.7 546.1,360.4 554.2,358.2 562.1,356.0 569.9,353.9 577.6,351.8 585.1,349.7 592.5,347.7 599.8,345.7 607.0,343.7 605.0,340.8 597.9,342.7 590.5,344.7 583.1,346.7 575.6,348.7 567.9,350.8 560.1,352.9 552.2,355.0 544.2,357.2 536.0,359.4 527.7,361.7 519.3,364.0 510.8,366.4 502.1,368.8 493.2,371.3 484.1,373.8 474.9,376.3" fill="#5081c5"/><polygon points="476.0,378.1 485.2,375.5 494.2,373.0 503.1,370.5 511.8,368.1 520.3,365.7 528.7,363.3 537.0,361.0 545.2,358.8 553.2,356.6 561.1,354.4 568.9,352.3 576.6,350.2 584.1,348.2 591.5,346.2 598.8,344.2 606.0,342.2 604.1,339.3 596.9,341.2 589.6,343.2 582.2,345.1 574.6,347.2 566.9,349.2 559.1,351.3 551.2,353.4 543.2,355.6 535.0,357.8 526.7,360.1 518.3,362.4 509.7,364.7 501.0,367.1 492.2,369.6 483.1,372.0 473.8,374.6" fill="#568cca"/><polygon points="474.9,376.3 484.1,373.8 493.2,371.3 502.1,368.8 510.8,366.4 519.3,364.0 527.7,361.7 536.0,359.4 544.2,357.2 552.2,355.0 560.1,352.9 567.9,350.8 575.6,348.7 583.1,346.7 590.5,344.7 597.9,342.7 605.0,340.8 603.1,337.8 595.9,339.7 588.6,341.7 581.2,343.6 573.6,345.6 566.0,347.7 558.2,349.7 550.2,351.9 542.2,354.0 534.0,356.2 525.7,358.4 517.3,360.7 508.7,363.1 500.0,365.4 491.1,367.8 482.0,370.3 472.8,372.8" fill="#5d97cf"/><polygon points="473.8,374.6 483.1,372.0 492.2,369.6 501.0,367.1 509.7,364.7 518.3,362.4 526.7,360.1 535.0,357.8 543.2,355.6 551.2,353.4 559.1,351.3 566.9,349.2 574.6,347.2 582.2,345.1 589.6,343.2 596.9,341.2 604.1,339.3 602.1,336.3 594.9,338.2 587.6,340.2 580.2,342.1 572.7,344.1 565.0,346.1 557.2,348.2 549.3,350.3 541.2,352.4 533.0,354.6 524.7,356.8 516.3,359.1 507.7,361.4 499.0,363.7 490.1,366.1 481.0,368.6 471.7,371.0" fill="#63a2d4"/><polygon points="472.8,372.8 482.0,370.3 491.1,367.8 500.0,365.4 508.7,363.1 517.3,360.7 525.7,358.4 534.0,356.2 542.2,354.0 550.2,351.9 558.2,349.7 566.0,347.7 573.6,345.6 581.2,343.6 588.6,341.7 595.9,339.7 603.1,337.8 601.2,334.9 594.0,336.8 586.7,338.7 579.3,340.6 571.7,342.6 564.0,344.6 556.2,346.6 548.3,348.7 540.2,350.8 532.0,353.0 523.7,355.2 515.3,357.4 506.7,359.7 498.0,362.1 489.1,364.4 480.0,366.8 470.7,369.3" fill="#69add9"/><polygon points="471.7,371.0 481.0,368.6 490.1,366.1 499.0,363.7 507.7,361.4 516.3,359.1 524.7,356.8 533.0,354.6 541.2,352.4 549.3,350.3 557.2,348.2 565.0,346.1 572.7,344.1 580.2,342.1 587.6,340.2 594.9,338.2 602.1,336.3 600.2,333.4 593.0,335.3 585.7,337.2 578.3,339.1 570.7,341.1 563.1,343.1 555.3,345.1 547.3,347.2 539.3,349.3 531.1,351.4 522.7,353.6 514.3,355.8 505.7,358.1 497.0,360.4 488.0,362.7 478.9,365.1 469.7,367.5" fill="#6fb8de"/><polygon points="470.7,369.3 480.0,366.8 489.1,364.4 498.0,362.1 506.7,359.7 515.3,357.4 523.7,355.2 532.0,353.0 540.2,350.8 548.3,348.7 556.2,346.6 564.0,344.6 571.7,342.6 579.3,340.6 586.7,338.7 594.0,336.8 601.2,334.9 599.3,332.0 592.1,333.8 584.8,335.7 577.3,337.6 569.8,339.6 562.1,341.5 554.3,343.6 546.4,345.6 538.3,347.7 530.1,349.8 521.7,351.9 513.3,354.2 504.7,356.4 496.0,358.7 487.0,361.0 477.9,363.4 468.6,365.8" fill="#76c3e3"/><polygon points="469.7,367.5 478.9,365.1 488.0,362.7 497.0,360.4 505.7,358.1 514.3,355.8 522.7,353.6 531.1,351.4 539.3,349.3 547.3,347.2 555.3,345.1 563.1,343.1 570.7,341.1 578.3,339.1 585.7,337.2 593.0,335.3 600.2,333.4 598.3,330.5 591.1,332.4 583.8,334.2 576.4,336.1 568.8,338.1 561.2,340.0 553.4,342.0 545.4,344.0 537.3,346.1 529.1,348.2 520.8,350.3 512.3,352.5 503.7,354.8 495.0,357.0 486.0,359.3 476.9,361.6 467.6,364.0" fill="#7ccee8"/><polygon points="468.6,365.8 477.9,363.4 487.0,361.0 496.0,358.7 504.7,356.4 513.3,354.2 521.7,351.9 530.1,349.8 538.3,347.7 546.4,345.6 554.3,343.6 562.1,341.5 569.8,339.6 577.3,337.6 584.8,335.7 592.1,333.8 599.3,332.0 597.4,329.1 590.2,330.9 582.9,332.8 575.5,334.6 567.9,336.6 560.2,338.5 552.4,340.5 544.5,342.5 536.4,344.5 528.2,346.6 519.8,348.7 511.3,350.9 502.7,353.1 494.0,355.4 485.0,357.6 475.9,359.9 466.6,362.3" fill="#83d6e9"/><polygon points="467.6,364.0 476.9,361.6 486.0,359.3 495.0,357.0 503.7,354.8 512.3,352.5 520.8,350.3 529.1,348.2 537.3,346.1 545.4,344.0 553.4,342.0 561.2,340.0 568.8,338.1 576.4,336.1 583.8,334.2 591.1,332.4 598.3,330.5 596.4,327.6 589.2,329.4 581.9,331.3 574.5,333.2 567.0,335.1 559.3,337.0 551.5,338.9 543.5,340.9 535.4,343.0 527.2,345.0 518.8,347.1 510.4,349.3 501.8,351.5 493.0,353.7 484.0,355.9 474.9,358.2 465.5,360.5" fill="#8adae6"/><polygon points="466.6,362.3 475.9,359.9 485.0,357.6 494.0,355.4 502.7,353.1 511.3,350.9 519.8,348.7 528.2,346.6 536.4,344.5 544.5,342.5 552.4,340.5 560.2,338.5 567.9,336.6 575.5,334.6 582.9,332.8 590.2,330.9 597.4,329.1 595.5,326.2 588.3,328.0 581.0,329.8 573.6,331.7 566.0,333.6 558.3,335.5 550.5,337.4 542.6,339.4 534.5,341.4 526.2,343.4 517.9,345.5 509.4,347.7 500.8,349.8 492.0,352.0 483.0,354.3 473.9,356.5 464.5,358.8" fill="#91dfe3"/><polygon points="465.5,360.5 474.9,358.2 484.0,355.9 493.0,353.7 501.8,351.5 510.4,349.3 518.8,347.1 527.2,345.0 535.4,343.0 543.5,340.9 551.5,338.9 559.3,337.0 567.0,335.1 574.5,333.2 581.9,331.3 589.2,329.4 596.4,327.6 594.6,324.7 587.4,326.5 580.1,328.3 572.6,330.2 565.1,332.1 557.4,334.0 549.6,335.9 541.6,337.9 533.5,339.8 525.3,341.9 516.9,343.9 508.4,346.0 499.8,348.2 491.0,350.4 482.0,352.6 472.9,354.8 463.5,357.1" fill="#98e3e0"/><polygon points="464.5,358.8 473.9,356.5 483.0,354.3 492.0,352.0 500.8,349.8 509.4,347.7 517.9,345.5 526.2,343.4 534.5,341.4 542.6,339.4 550.5,337.4 558.3,335.5 566.0,333.6 573.6,331.7 581.0,329.8 588.3,328.0 595.5,326.2 593.7,323.3 586.5,325.1 579.2,326.9 571.7,328.7 564.2,330.6 556.5,332.5 548.6,334.4 540.7,336.3 532.6,338.3 524.3,340.3 516.0,342.3 507.5,344.4 498.8,346.6 490.0,348.7 481.0,350.9 471.9,353.1 462.5,355.4" fill="#a0e7de"/><polygon points="463.5,357.1 472.9,354.8 482.0,352.6 491.0,350.4 499.8,348.2 508.4,346.0 516.9,343.9 525.3,341.9 533.5,339.8 541.6,337.9 549.6,335.9 557.4,334.0 565.1,332.1 572.6,330.2 580.1,328.3 587.4,326.5 594.6,324.7 592.7,321.9 585.5,323.6 578.2,325.4 570.8,327.2 563.2,329.1 555.5,331.0 547.7,332.9 539.7,334.8 531.6,336.7 523.4,338.7 515.0,340.8 506.5,342.8 497.9,344.9 489.0,347.1 480.0,349.2 470.9,351.4 461.5,353.7" fill="#9fe6c4"/><polygon points="462.5,355.4 471.9,353.1 481.0,350.9 490.0,348.7 498.8,346.6 507.5,344.4 516.0,342.3 524.3,340.3 532.6,338.3 540.7,336.3 548.6,334.4 556.5,332.5 564.2,330.6 571.7,328.7 579.2,326.9 586.5,325.1 593.7,323.3 591.8,320.5 584.6,322.2 577.3,324.0 569.9,325.8 562.3,327.6 554.6,329.5 546.8,331.3 538.8,333.3 530.7,335.2 522.5,337.2 514.1,339.2 505.6,341.2 496.9,343.3 488.1,345.4 479.1,347.6 469.9,349.8 460.5,352.0" fill="#92dd85"/><polygon points="461.5,353.7 470.9,351.4 480.0,349.2 489.0,347.1 497.9,344.9 506.5,342.8 515.0,340.8 523.4,338.7 531.6,336.7 539.7,334.8 547.7,332.9 555.5,331.0 563.2,329.1 570.8,327.2 578.2,325.4 585.5,323.6 592.7,321.9 590.9,319.0 583.7,320.8 576.4,322.5 569.0,324.3 561.4,326.1 553.7,328.0 545.9,329.8 537.9,331.7 529.8,333.7 521.5,335.6 513.1,337.6 504.6,339.6 495.9,341.7 487.1,343.8 478.1,345.9 468.9,348.1 459.5,350.3" fill="#85d346"/><polygon points="460.5,352.0 469.9,349.8 479.1,347.6 488.1,345.4 496.9,343.3 505.6,341.2 514.1,339.2 522.5,337.2 530.7,335.2 538.8,333.3 546.8,331.3 554.6,329.5 562.3,327.6 569.9,325.8 577.3,324.0 584.6,322.2 591.8,320.5 590.0,317.6 582.8,319.3 575.5,321.1 568.0,322.9 560.5,324.6 552.8,326.5 544.9,328.3 537.0,330.2 528.8,332.1 520.6,334.1 512.2,336.0 503.7,338.0 495.0,340.1 486.1,342.2 477.1,344.3 467.9,346.4 458.5,348.6" fill="#7fcf26"/><polygon points="459.5,350.3 468.9,348.1 478.1,345.9 487.1,343.8 495.9,341.7 504.6,339.6 513.1,337.6 521.5,335.6 529.8,333.7 537.9,331.7 545.9,329.8 553.7,328.0 561.4,326.1 569.0,324.3 576.4,322.5 583.7,320.8 590.9,319.0 589.1,316.2 581.9,317.9 574.6,319.6 567.1,321.4 559.6,323.2 551.9,325.0 544.0,326.8 536.0,328.7 527.9,330.6 519.6,332.5 511.2,334.5 502.7,336.5 494.0,338.5 485.2,340.5 476.1,342.6 466.9,344.7 457.5,346.9" fill="#82d125"/><polygon points="458.5,348.6 467.9,346.4 477.1,344.3 486.1,342.2 495.0,340.1 503.7,338.0 512.2,336.0 520.6,334.1 528.8,332.1 537.0,330.2 544.9,328.3 552.8,326.5 560.5,324.6 568.0,322.9 575.5,321.1 582.8,319.3 590.0,317.6 588.2,314.8 581.0,316.5 573.7,318.2 566.2,319.9 558.7,321.7 550.9,323.5 543.1,325.3 535.1,327.2 527.0,329.1 518.7,331.0 510.3,332.9 501.8,334.9 493.1,336.9 484.2,338.9 475.2,341.0 465.9,343.1 456.5,345.2" fill="#85d225"/><polygon points="457.5,346.9 466.9,344.7 476.1,342.6 485.2,340.5 494.0,338.5 502.7,336.5 511.2,334.5 519.6,332.5 527.9,330.6 536.0,328.7 544.0,326.8 551.9,325.0 559.6,323.2 567.1,321.4 574.6,319.6 581.9,317.9 589.1,316.2 587.3,313.4 580.1,315.1 572.8,316.8 565.3,318.5 557.8,320.2 550.0,322.0 542.2,323.8 534.2,325.7 526.1,327.5 517.8,329.4 509.4,331.3 500.8,333.3 492.1,335.3 483.2,337.3 474.2,339.3 465.0,341.4 455.5,343.5" fill="#88d424"/><polygon points="456.5,345.2 465.9,343.1 475.2,341.0 484.2,338.9 493.1,336.9 501.8,334.9 510.3,332.9 518.7,331.0 527.0,329.1 535.1,327.2 543.1,325.3 550.9,323.5 558.7,321.7 566.2,319.9 573.7,318.2 581.0,316.5 588.2,314.8 586.4,312.0 579.2,313.6 571.9,315.3 564.4,317.0 556.9,318.8 549.1,320.5 541.3,322.3 533.3,324.2 525.2,326.0 516.9,327.9 508.4,329.8 499.9,331.7 491.2,333.7 482.3,335.7 473.2,337.7 464.0,339.7 454.6,341.8" fill="#8cd525"/><polygon points="455.5,343.5 465.0,341.4 474.2,339.3 483.2,337.3 492.1,335.3 500.8,333.3 509.4,331.3 517.8,329.4 526.1,327.5 534.2,325.7 542.2,323.8 550.0,322.0 557.8,320.2 565.3,318.5 572.8,316.8 580.1,315.1 587.3,313.4 585.5,310.6 578.3,312.2 571.0,313.9 563.5,315.6 556.0,317.3 548.2,319.1 540.4,320.9 532.4,322.7 524.2,324.5 516.0,326.3 507.5,328.2 499.0,330.1 490.2,332.1 481.3,334.1 472.3,336.1 463.0,338.1 453.6,340.1" fill="#91d626"/><polygon points="454.6,341.8 464.0,339.7 473.2,337.7 482.3,335.7 491.2,333.7 499.9,331.7 508.4,329.8 516.9,327.9 525.2,326.0 533.3,324.2 541.3,322.3 549.1,320.5 556.9,318.8 564.4,317.0 571.9,315.3 579.2,313.6 586.4,312.0 584.7,309.2 577.5,310.8 570.1,312.5 562.7,314.2 555.1,315.9 547.3,317.6 539.5,319.4 531.5,321.2 523.3,323.0 515.0,324.8 506.6,326.7 498.0,328.6 489.3,330.5 480.4,332.5 471.3,334.4 462.1,336.4 452.6,338.5" fill="#95d727"/><polygon points="453.6,340.1 463.0,338.1 472.3,336.1 481.3,334.1 490.2,332.1 499.0,330.1 507.5,328.2 516.0,326.3 524.2,324.5 532.4,322.7 540.4,320.9 548.2,319.1 556.0,317.3 563.5,315.6 571.0,313.9 578.3,312.2 585.5,310.6 583.8,307.8 576.6,309.4 569.2,311.0 561.8,312.7 554.2,314.4 546.5,316.1 538.6,317.9 530.6,319.7 522.4,321.5 514.1,323.3 505.7,325.1 497.1,327.0 488.4,328.9 479.5,330.9 470.4,332.8 461.1,334.8 451.7,336.8" fill="#99d828"/><polygon points="452.6,338.5 462.1,336.4 471.3,334.4 480.4,332.5 489.3,330.5 498.0,328.6 506.6,326.7 515.0,324.8 523.3,323.0 531.5,321.2 539.5,319.4 547.3,317.6 555.1,315.9 562.7,314.2 570.1,312.5 577.5,310.8 584.7,309.2 582.9,306.4 575.7,308.0 568.4,309.6 560.9,311.3 553.3,313.0 545.6,314.7 537.7,316.4 529.7,318.2 521.5,319.9 513.2,321.8 504.8,323.6 496.2,325.5 487.4,327.3 478.5,329.3 469.4,331.2 460.2,333.2 450.7,335.1" fill="#9ed929"/><polygon points="451.7,336.8 461.1,334.8 470.4,332.8 479.5,330.9 488.4,328.9 497.1,327.0 505.7,325.1 514.1,323.3 522.4,321.5 530.6,319.7 538.6,317.9 546.5,316.1 554.2,314.4 561.8,312.7 569.2,311.0 576.6,309.4 583.8,307.8 582.0,305.0 574.8,306.6 567.5,308.2 560.0,309.9 552.4,311.5 544.7,313.2 536.8,314.9 528.8,316.7 520.6,318.4 512.3,320.2 503.9,322.0 495.3,323.9 486.5,325.8 477.6,327.7 468.5,329.6 459.2,331.5 449.7,333.5" fill="#a2da2a"/><polygon points="450.7,335.1 460.2,333.2 469.4,331.2 478.5,329.3 487.4,327.3 496.2,325.5 504.8,323.6 513.2,321.8 521.5,319.9 529.7,318.2 537.7,316.4 545.6,314.7 553.3,313.0 560.9,311.3 568.4,309.6 575.7,308.0 582.9,306.4 581.2,303.6 574.0,305.2 566.6,306.8 559.1,308.4 551.5,310.1 543.8,311.8 535.9,313.5 527.9,315.2 519.7,316.9 511.4,318.7 503.0,320.5 494.4,322.3 485.6,324.2 476.7,326.1 467.6,328.0 458.3,329.9 448.8,331.8" fill="#a8db2c"/><polygon points="449.7,333.5 459.2,331.5 468.5,329.6 477.6,327.7 486.5,325.8 495.3,323.9 503.9,322.0 512.3,320.2 520.6,318.4 528.8,316.7 536.8,314.9 544.7,313.2 552.4,311.5 560.0,309.9 567.5,308.2 574.8,306.6 582.0,305.0 580.3,302.2 573.1,303.8 565.8,305.4 558.3,307.0 550.7,308.6 542.9,310.3 535.0,312.0 527.0,313.7 518.8,315.4 510.5,317.2 502.1,319.0 493.4,320.8 484.7,322.6 475.7,324.5 466.6,326.4 457.3,328.3 447.8,330.2" fill="#aedd30"/><polygon points="448.8,331.8 458.3,329.9 467.6,328.0 476.7,326.1 485.6,324.2 494.4,322.3 503.0,320.5 511.4,318.7 519.7,316.9 527.9,315.2 535.9,313.5 543.8,311.8 551.5,310.1 559.1,308.4 566.6,306.8 574.0,305.2 581.2,303.6 579.5,300.8 572.2,302.4 564.9,304.0 557.4,305.6 549.8,307.2 542.0,308.9 534.2,310.5 526.1,312.2 518.0,313.9 509.6,315.7 501.2,317.5 492.5,319.3 483.8,321.1 474.8,322.9 465.7,324.8 456.4,326.7 446.9,328.6" fill="#b5df34"/><polygon points="447.8,330.2 457.3,328.3 466.6,326.4 475.7,324.5 484.7,322.6 493.4,320.8 502.1,319.0 510.5,317.2 518.8,315.4 527.0,313.7 535.0,312.0 542.9,310.3 550.7,308.6 558.3,307.0 565.8,305.4 573.1,303.8 580.3,302.2 578.6,299.5 571.4,301.0 564.0,302.6 556.5,304.2 548.9,305.8 541.2,307.4 533.3,309.1 525.2,310.8 517.1,312.5 508.7,314.2 500.3,315.9 491.6,317.7 482.9,319.5 473.9,321.3 464.8,323.2 455.4,325.0 445.9,326.9" fill="#bbe138"/><polygon points="446.9,328.6 456.4,326.7 465.7,324.8 474.8,322.9 483.8,321.1 492.5,319.3 501.2,317.5 509.6,315.7 518.0,313.9 526.1,312.2 534.2,310.5 542.0,308.9 549.8,307.2 557.4,305.6 564.9,304.0 572.2,302.4 579.5,300.8 577.8,298.1 570.5,299.6 563.2,301.2 555.7,302.8 548.1,304.4 540.3,306.0 532.4,307.6 524.4,309.3 516.2,311.0 507.9,312.7 499.4,314.4 490.7,316.2 481.9,318.0 473.0,319.8 463.8,321.6 454.5,323.4 445.0,325.3" fill="#c2e43c"/><polygon points="445.9,326.9 455.4,325.0 464.8,323.2 473.9,321.3 482.9,319.5 491.6,317.7 500.3,315.9 508.7,314.2 517.1,312.5 525.2,310.8 533.3,309.1 541.2,307.4 548.9,305.8 556.5,304.2 564.0,302.6 571.4,301.0 578.6,299.5 576.9,296.7 569.7,298.2 562.3,299.8 554.8,301.3 547.2,302.9 539.4,304.5 531.5,306.2 523.5,307.8 515.3,309.5 507.0,311.2 498.5,312.9 489.8,314.6 481.0,316.4 472.1,318.2 462.9,320.0 453.6,321.8 444.1,323.7" fill="#c8e640"/><polygon points="445.0,325.3 454.5,323.4 463.8,321.6 473.0,319.8 481.9,318.0 490.7,316.2 499.4,314.4 507.9,312.7 516.2,311.0 524.4,309.3 532.4,307.6 540.3,306.0 548.1,304.4 555.7,302.8 563.2,301.2 570.5,299.6 577.8,298.1 576.1,295.3 568.8,296.8 561.5,298.4 554.0,299.9 546.3,301.5 538.6,303.1 530.7,304.7 522.6,306.3 514.4,308.0 506.1,309.7 497.6,311.4 488.9,313.1 480.1,314.9 471.2,316.6 462.0,318.4 452.7,320.2 443.1,322.0" fill="#cfe844"/><polygon points="444.1,323.7 453.6,321.8 462.9,320.0 472.1,318.2 481.0,316.4 489.8,314.6 498.5,312.9 507.0,311.2 515.3,309.5 523.5,307.8 531.5,306.2 539.4,304.5 547.2,302.9 554.8,301.3 562.3,299.8 569.7,298.2 576.9,296.7 575.2,294.0 568.0,295.5 560.6,297.0 553.1,298.5 545.5,300.1 537.7,301.7 529.8,303.3 521.8,304.9 513.6,306.5 505.2,308.2 496.7,309.9 488.1,311.6 479.2,313.3 470.3,315.1 461.1,316.8 451.7,318.6 442.2,320.4" fill="#d5ea48"/><polygon points="443.1,322.0 452.7,320.2 462.0,318.4 471.2,316.6 480.1,314.9 488.9,313.1 497.6,311.4 506.1,309.7 514.4,308.0 522.6,306.3 530.7,304.7 538.6,303.1 546.3,301.5 554.0,299.9 561.5,298.4 568.8,296.8 576.1,295.3 574.4,292.6 567.1,294.1 559.8,295.6 552.3,297.1 544.6,298.7 536.9,300.2 529.0,301.8 520.9,303.4 512.7,305.0 504.3,306.7 495.8,308.4 487.2,310.1 478.3,311.8 469.3,313.5 460.2,315.2 450.8,317.0 441.3,318.8" fill="#daea49"/><polygon points="442.2,320.4 451.7,318.6 461.1,316.8 470.3,315.1 479.2,313.3 488.1,311.6 496.7,309.9 505.2,308.2 513.6,306.5 521.8,304.9 529.8,303.3 537.7,301.7 545.5,300.1 553.1,298.5 560.6,297.0 568.0,295.5 575.2,294.0 573.6,291.2 566.3,292.7 558.9,294.2 551.4,295.7 543.8,297.3 536.0,298.8 528.1,300.4 520.0,302.0 511.8,303.6 503.5,305.2 494.9,306.9 486.3,308.5 477.4,310.2 468.4,311.9 459.3,313.7 449.9,315.4 440.4,317.2" fill="#dfe949"/><polygon points="441.3,318.8 450.8,317.0 460.2,315.2 469.3,313.5 478.3,311.8 487.2,310.1 495.8,308.4 504.3,306.7 512.7,305.0 520.9,303.4 529.0,301.8 536.9,300.2 544.6,298.7 552.3,297.1 559.8,295.6 567.1,294.1 574.4,292.6 572.7,289.9 565.5,291.3 558.1,292.8 550.6,294.3 542.9,295.8 535.2,297.4 527.2,298.9 519.2,300.5 511.0,302.1 502.6,303.7 494.1,305.4 485.4,307.0 476.6,308.7 467.6,310.4 458.4,312.1 449.0,313.8 439.4,315.6" fill="#e4e94a"/><polygon points="440.4,317.2 449.9,315.4 459.3,313.7 468.4,311.9 477.4,310.2 486.3,308.5 494.9,306.9 503.5,305.2 511.8,303.6 520.0,302.0 528.1,300.4 536.0,298.8 543.8,297.3 551.4,295.7 558.9,294.2 566.3,292.7 573.6,291.2 571.9,288.5 564.7,290.0 557.3,291.4 549.8,292.9 542.1,294.4 534.3,296.0 526.4,297.5 518.3,299.1 510.1,300.6 501.7,302.2 493.2,303.9 484.5,305.5 475.7,307.2 466.7,308.8 457.5,310.5 448.1,312.3 438.5,314.0" fill="#e8e84b"/><polygon points="439.4,315.6 449.0,313.8 458.4,312.1 467.6,310.4 476.6,308.7 485.4,307.0 494.1,305.4 502.6,303.7 511.0,302.1 519.2,300.5 527.2,298.9 535.2,297.4 542.9,295.8 550.6,294.3 558.1,292.8 565.5,291.3 572.7,289.9 571.1,287.2 563.8,288.6 556.4,290.1 548.9,291.5 541.3,293.0 533.5,294.5 525.5,296.1 517.5,297.6 509.2,299.2 500.9,300.8 492.3,302.4 483.6,304.0 474.8,305.6 465.8,307.3 456.6,309.0 447.2,310.7 437.6,312.4" fill="#ede84c"/><polygon points="438.5,314.0 448.1,312.3 457.5,310.5 466.7,308.8 475.7,307.2 484.5,305.5 493.2,303.9 501.7,302.2 510.1,300.6 518.3,299.1 526.4,297.5 534.3,296.0 542.1,294.4 549.8,292.9 557.3,291.4 564.7,290.0 571.9,288.5 570.3,285.8 563.0,287.3 555.6,288.7 548.1,290.2 540.4,291.6 532.6,293.1 524.7,294.6 516.6,296.2 508.4,297.7 500.0,299.3 491.5,300.9 482.8,302.5 473.9,304.1 464.9,305.8 455.7,307.4 446.3,309.1 436.7,310.8" fill="#eee64a"/><polygon points="437.6,312.4 447.2,310.7 456.6,309.0 465.8,307.3 474.8,305.6 483.6,304.0 492.3,302.4 500.9,300.8 509.2,299.2 517.5,297.6 525.5,296.1 533.5,294.5 541.3,293.0 548.9,291.5 556.4,290.1 563.8,288.6 571.1,287.2 569.4,284.5 562.2,285.9 554.8,287.3 547.3,288.8 539.6,290.2 531.8,291.7 523.9,293.2 515.8,294.7 507.5,296.3 499.1,297.8 490.6,299.4 481.9,301.0 473.0,302.6 464.0,304.2 454.8,305.9 445.4,307.5 435.8,309.2" fill="#efe248"/><polygon points="436.7,310.8 446.3,309.1 455.7,307.4 464.9,305.8 473.9,304.1 482.8,302.5 491.5,300.9 500.0,299.3 508.4,297.7 516.6,296.2 524.7,294.6 532.6,293.1 540.4,291.6 548.1,290.2 555.6,288.7 563.0,287.3 570.3,285.8 568.6,283.1 561.4,284.5 554.0,286.0 546.4,287.4 538.8,288.8 531.0,290.3 523.0,291.8 514.9,293.3 506.7,294.8 498.3,296.4 489.7,297.9 481.0,299.5 472.2,301.1 463.1,302.7 453.9,304.3 444.5,306.0 434.9,307.6" fill="#f0df45"/><polygon points="435.8,309.2 445.4,307.5 454.8,305.9 464.0,304.2 473.0,302.6 481.9,301.0 490.6,299.4 499.1,297.8 507.5,296.3 515.8,294.7 523.9,293.2 531.8,291.7 539.6,290.2 547.3,288.8 554.8,287.3 562.2,285.9 569.4,284.5 567.8,281.8 560.6,283.2 553.1,284.6 545.6,286.0 537.9,287.4 530.1,288.9 522.2,290.4 514.1,291.9 505.8,293.4 497.4,294.9 488.9,296.4 480.2,298.0 471.3,299.6 462.2,301.2 453.0,302.8 443.6,304.4 434.0,306.0" fill="#f0d942"/><polygon points="434.9,307.6 444.5,306.0 453.9,304.3 463.1,302.7 472.2,301.1 481.0,299.5 489.7,297.9 498.3,296.4 506.7,294.8 514.9,293.3 523.0,291.8 531.0,290.3 538.8,288.8 546.4,287.4 554.0,286.0 561.4,284.5 568.6,283.1 567.0,280.5 559.7,281.8 552.3,283.2 544.8,284.6 537.1,286.1 529.3,287.5 521.4,289.0 513.2,290.4 505.0,291.9 496.6,293.4 488.0,295.0 479.3,296.5 470.4,298.1 461.4,299.6 452.1,301.2 442.7,302.8 433.1,304.5" fill="#f0d13f"/><polygon points="434.0,306.0 443.6,304.4 453.0,302.8 462.2,301.2 471.3,299.6 480.2,298.0 488.9,296.4 497.4,294.9 505.8,293.4 514.1,291.9 522.2,290.4 530.1,288.9 537.9,287.4 545.6,286.0 553.1,284.6 560.6,283.2 567.8,281.8 566.2,279.1 558.9,280.5 551.5,281.9 544.0,283.3 536.3,284.7 528.5,286.1 520.5,287.5 512.4,289.0 504.2,290.5 495.7,292.0 487.2,293.5 478.5,295.0 469.6,296.6 460.5,298.1 451.3,299.7 441.8,301.3 432.2,302.9" fill="#f0c93c"/><polygon points="433.1,304.5 442.7,302.8 452.1,301.2 461.4,299.6 470.4,298.1 479.3,296.5 488.0,295.0 496.6,293.4 505.0,291.9 513.2,290.4 521.4,289.0 529.3,287.5 537.1,286.1 544.8,284.6 552.3,283.2 559.7,281.8 567.0,280.5 565.4,277.8 558.1,279.1 550.7,280.5 543.2,281.9 535.5,283.3 527.7,284.7 519.7,286.1 511.6,287.6 503.3,289.0 494.9,290.5 486.3,292.0 477.6,293.5 468.7,295.1 459.6,296.6 450.4,298.2 441.0,299.7 431.3,301.3" fill="#f0bf39"/><polygon points="432.2,302.9 441.8,301.3 451.3,299.7 460.5,298.1 469.6,296.6 478.5,295.0 487.2,293.5 495.7,292.0 504.2,290.5 512.4,289.0 520.5,287.5 528.5,286.1 536.3,284.7 544.0,283.3 551.5,281.9 558.9,280.5 566.2,279.1 564.6,276.5 557.3,277.8 549.9,279.1 542.4,280.5 534.7,281.9 526.8,283.3 518.9,284.7 510.8,286.2 502.5,287.6 494.1,289.1 485.5,290.5 476.7,292.0 467.8,293.6 458.8,295.1 449.5,296.6 440.1,298.2 430.5,299.7" fill="#f0b336"/><polygon points="431.3,301.3 441.0,299.7 450.4,298.2 459.6,296.6 468.7,295.1 477.6,293.5 486.3,292.0 494.9,290.5 503.3,289.0 511.6,287.6 519.7,286.1 527.7,284.7 535.5,283.3 543.2,281.9 550.7,280.5 558.1,279.1 565.4,277.8 563.8,275.1 556.5,276.5 549.1,277.8 541.5,279.2 533.9,280.5 526.0,281.9 518.0,283.3 509.9,284.7 501.7,286.2 493.2,287.6 484.6,289.1 475.9,290.6 467.0,292.1 457.9,293.6 448.6,295.1 439.2,296.6 429.6,298.2" fill="#f0a633"/><polygon points="430.5,299.7 440.1,298.2 449.5,296.6 458.8,295.1 467.8,293.6 476.7,292.0 485.5,290.5 494.1,289.1 502.5,287.6 510.8,286.2 518.9,284.7 526.8,283.3 534.7,281.9 542.4,280.5 549.9,279.1 557.3,277.8 564.6,276.5 563.0,273.8 555.7,275.1 548.3,276.4 540.7,277.8 533.0,279.1 525.2,280.5 517.2,281.9 509.1,283.3 500.8,284.7 492.4,286.2 483.8,287.6 475.1,289.1 466.1,290.6 457.0,292.1 447.8,293.6 438.3,295.1 428.7,296.6" fill="#f09a30"/><polygon points="429.6,298.2 439.2,296.6 448.6,295.1 457.9,293.6 467.0,292.1 475.9,290.6 484.6,289.1 493.2,287.6 501.7,286.2 509.9,284.7 518.0,283.3 526.0,281.9 533.9,280.5 541.5,279.2 549.1,277.8 556.5,276.5 563.8,275.1 562.2,272.5 554.9,273.8 547.5,275.1 539.9,276.4 532.2,277.8 524.4,279.1 516.4,280.5 508.3,281.9 500.0,283.3 491.6,284.7 483.0,286.2 474.2,287.6 465.3,289.1 456.2,290.6 446.9,292.1 437.5,293.6 427.8,295.1" fill="#ef8e2f"/><polygon points="428.7,296.6 438.3,295.1 447.8,293.6 457.0,292.1 466.1,290.6 475.1,289.1 483.8,287.6 492.4,286.2 500.8,284.7 509.1,283.3 517.2,281.9 525.2,280.5 533.0,279.1 540.7,277.8 548.3,276.4 555.7,275.1 563.0,273.8 561.4,271.2 554.1,272.4 546.7,273.8 539.1,275.1 531.4,276.4 523.6,277.8 515.6,279.1 507.5,280.5 499.2,281.9 490.7,283.3 482.1,284.7 473.4,286.2 464.4,287.6 455.3,289.1 446.1,290.5 436.6,292.0 427.0,293.5" fill="#ee832e"/><polygon points="427.8,295.1 437.5,293.6 446.9,292.1 456.2,290.6 465.3,289.1 474.2,287.6 483.0,286.2 491.6,284.7 500.0,283.3 508.3,281.9 516.4,280.5 524.4,279.1 532.2,277.8 539.9,276.4 547.5,275.1 554.9,273.8 562.2,272.5 560.7,269.8 553.4,271.1 545.9,272.4 538.3,273.7 530.6,275.0 522.8,276.4 514.8,277.7 506.6,279.1 498.4,280.5 489.9,281.9 481.3,283.3 472.5,284.7 463.6,286.1 454.5,287.6 445.2,289.0 435.7,290.5 426.1,292.0" fill="#ec782d"/><polygon points="427.0,293.5 436.6,292.0 446.1,290.5 455.3,289.1 464.4,287.6 473.4,286.2 482.1,284.7 490.7,283.3 499.2,281.9 507.5,280.5 515.6,279.1 523.6,277.8 531.4,276.4 539.1,275.1 546.7,273.8 554.1,272.4 561.4,271.2 559.9,268.5 552.6,269.8 545.1,271.1 537.6,272.4 529.8,273.7 522.0,275.0 514.0,276.3 505.8,277.7 497.5,279.0 489.1,280.4 480.5,281.8 471.7,283.2 462.8,284.6 453.6,286.1 444.4,287.5 434.9,289.0 425.2,290.4" fill="#eb6d2c"/><polygon points="426.1,292.0 435.7,290.5 445.2,289.0 454.5,287.6 463.6,286.1 472.5,284.7 481.3,283.3 489.9,281.9 498.4,280.5 506.6,279.1 514.8,277.7 522.8,276.4 530.6,275.0 538.3,273.7 545.9,272.4 553.4,271.1 560.7,269.8 559.1,267.2 551.8,268.5 544.3,269.7 536.8,271.0 529.0,272.3 521.2,273.6 513.2,274.9 505.0,276.3 496.7,277.6 488.3,279.0 479.6,280.4 470.9,281.8 461.9,283.2 452.8,284.6 443.5,286.0 434.0,287.4 424.4,288.9" fill="#ea622b"/><polygon points="425.2,290.4 434.9,289.0 444.4,287.5 453.6,286.1 462.8,284.6 471.7,283.2 480.5,281.8 489.1,280.4 497.5,279.0 505.8,277.7 514.0,276.3 522.0,275.0 529.8,273.7 537.6,272.4 545.1,271.1 552.6,269.8 559.9,268.5 558.3,265.9 551.0,267.1 543.6,268.4 536.0,269.7 528.3,270.9 520.4,272.2 512.4,273.6 504.2,274.9 495.9,276.2 487.4,277.6 478.8,278.9 470.0,280.3 461.1,281.7 452.0,283.1 442.7,284.5 433.2,285.9 423.5,287.4" fill="#e8572a"/><polygon points="424.4,288.9 434.0,287.4 443.5,286.0 452.8,284.6 461.9,283.2 470.9,281.8 479.6,280.4 488.3,279.0 496.7,277.6 505.0,276.3 513.2,274.9 521.2,273.6 529.0,272.3 536.8,271.0 544.3,269.7 551.8,268.5 559.1,267.2 557.6,264.6 550.2,265.8 542.8,267.1 535.2,268.3 527.5,269.6 519.6,270.9 511.6,272.2 503.4,273.5 495.1,274.8 486.6,276.1 478.0,277.5 469.2,278.9 460.3,280.2 451.1,281.6 441.8,283.0 432.3,284.4 422.7,285.8" fill="#e7512a"/><polygon points="423.5,287.4 433.2,285.9 442.7,284.5 452.0,283.1 461.1,281.7 470.0,280.3 478.8,278.9 487.4,277.6 495.9,276.2 504.2,274.9 512.4,273.6 520.4,272.2 528.3,270.9 536.0,269.7 543.6,268.4 551.0,267.1 558.3,265.9 556.8,263.3 549.5,264.5 542.0,265.7 534.4,267.0 526.7,268.2 518.8,269.5 510.8,270.8 502.6,272.1 494.3,273.4 485.8,274.7 477.2,276.1 468.4,277.4 459.4,278.8 450.3,280.1 441.0,281.5 431.5,282.9 421.8,284.3" fill="#e64d29"/><polygon points="422.7,285.8 432.3,284.4 441.8,283.0 451.1,281.6 460.3,280.2 469.2,278.9 478.0,277.5 486.6,276.1 495.1,274.8 503.4,273.5 511.6,272.2 519.6,270.9 527.5,269.6 535.2,268.3 542.8,267.1 550.2,265.8 557.6,264.6 556.0,262.0 548.7,263.2 541.2,264.4 533.6,265.6 525.9,266.9 518.0,268.1 510.0,269.4 501.8,270.7 493.5,272.0 485.0,273.3 476.4,274.6 467.6,276.0 458.6,277.3 449.5,278.7 440.1,280.0 430.6,281.4 421.0,282.8" fill="#e54829"/><polygon points="421.8,284.3 431.5,282.9 441.0,281.5 450.3,280.1 459.4,278.8 468.4,277.4 477.2,276.1 485.8,274.7 494.3,273.4 502.6,272.1 510.8,270.8 518.8,269.5 526.7,268.2 534.4,267.0 542.0,265.7 549.5,264.5 556.8,263.3 555.3,260.7 547.9,261.9 540.5,263.1 532.8,264.3 525.1,265.5 517.2,266.8 509.2,268.0 501.0,269.3 492.7,270.6 484.2,271.9 475.6,273.2 466.8,274.5 457.8,275.8 448.6,277.2 439.3,278.5 429.8,279.9 420.1,281.3" fill="#e44329"/><polygon points="421.0,282.8 430.6,281.4 440.1,280.0 449.5,278.7 458.6,277.3 467.6,276.0 476.4,274.6 485.0,273.3 493.5,272.0 501.8,270.7 510.0,269.4 518.0,268.1 525.9,266.9 533.6,265.6 541.2,264.4 548.7,263.2 556.0,262.0 554.5,259.4 547.2,260.6 539.7,261.8 532.1,263.0 524.3,264.2 516.4,265.4 508.4,266.7 500.2,267.9 491.9,269.2 483.4,270.5 474.7,271.8 465.9,273.1 457.0,274.4 447.8,275.7 438.5,277.0 429.0,278.4 419.3,279.7" fill="#e33f28"/><polygon points="420.1,281.3 429.8,279.9 439.3,278.5 448.6,277.2 457.8,275.8 466.8,274.5 475.6,273.2 484.2,271.9 492.7,270.6 501.0,269.3 509.2,268.0 517.2,266.8 525.1,265.5 532.8,264.3 540.5,263.1 547.9,261.9 555.3,260.7 553.7,258.1 546.4,259.3 538.9,260.4 531.3,261.6 523.6,262.8 515.7,264.1 507.6,265.3 499.4,266.5 491.1,267.8 482.6,269.1 473.9,270.3 465.1,271.6 456.1,272.9 447.0,274.2 437.6,275.6 428.1,276.9 418.4,278.2" fill="#e23a28"/><polygon points="419.3,279.7 429.0,278.4 438.5,277.0 447.8,275.7 457.0,274.4 465.9,273.1 474.7,271.8 483.4,270.5 491.9,269.2 500.2,267.9 508.4,266.7 516.4,265.4 524.3,264.2 532.1,263.0 539.7,261.8 547.2,260.6 554.5,259.4 553.0,256.8 545.6,258.0 538.1,259.1 530.5,260.3 522.8,261.5 514.9,262.7 506.8,263.9 498.6,265.2 490.3,266.4 481.8,267.7 473.1,268.9 464.3,270.2 455.3,271.5 446.2,272.8 436.8,274.1 427.3,275.4 417.6,276.7" fill="#e23a28"/><polygon points="418.4,278.2 428.1,276.9 437.6,275.6 447.0,274.2 456.1,272.9 465.1,271.6 473.9,270.3 482.6,269.1 491.1,267.8 499.4,266.5 507.6,265.3 515.7,264.1 523.6,262.8 531.3,261.6 538.9,260.4 546.4,259.3 553.7,258.1 552.2,255.5 544.9,256.6 537.4,257.8 529.8,259.0 522.0,260.2 514.1,261.4 506.1,262.6 497.9,263.8 489.5,265.0 481.0,266.3 472.3,267.5 463.5,268.8 454.5,270.0 445.3,271.3 436.0,272.6 426.5,273.9 416.8,275.2" fill="#e23a28"/><polygon points="417.6,276.7 427.3,275.4 436.8,274.1 446.2,272.8 455.3,271.5 464.3,270.2 473.1,268.9 481.8,267.7 490.3,266.4 498.6,265.2 506.8,263.9 514.9,262.7 522.8,261.5 530.5,260.3 538.1,259.1 545.6,258.0 553.0,256.8 551.5,254.2 544.1,255.3 536.6,256.5 529.0,257.7 521.2,258.8 513.3,260.0 505.3,261.2 497.1,262.4 488.7,263.6 480.2,264.9 471.5,266.1 462.7,267.3 453.7,268.6 444.5,269.9 435.2,271.1 425.6,272.4 415.9,273.7" fill="#e13928"/><polygon points="416.8,275.2 426.5,273.9 436.0,272.6 445.3,271.3 454.5,270.0 463.5,268.8 472.3,267.5 481.0,266.3 489.5,265.0 497.9,263.8 506.1,262.6 514.1,261.4 522.0,260.2 529.8,259.0 537.4,257.8 544.9,256.6 552.2,255.5 550.7,252.9 543.4,254.0 535.9,255.2 528.2,256.3 520.5,257.5 512.6,258.7 504.5,259.8 496.3,261.0 487.9,262.2 479.4,263.5 470.7,264.7 461.9,265.9 452.9,267.2 443.7,268.4 434.4,269.7 424.8,270.9 415.1,272.2" fill="#e13928"/><polygon points="415.9,273.7 425.6,272.4 435.2,271.1 444.5,269.9 453.7,268.6 462.7,267.3 471.5,266.1 480.2,264.9 488.7,263.6 497.1,262.4 505.3,261.2 513.3,260.0 521.2,258.8 529.0,257.7 536.6,256.5 544.1,255.3 551.5,254.2 550.0,251.6 542.6,252.8 535.1,253.9 527.5,255.0 519.7,256.2 511.8,257.3 503.7,258.5 495.5,259.7 487.1,260.9 478.6,262.1 469.9,263.3 461.1,264.5 452.1,265.7 442.9,267.0 433.5,268.2 424.0,269.5 414.3,270.7" fill="#e13928"/><polygon points="415.1,272.2 424.8,270.9 434.4,269.7 443.7,268.4 452.9,267.2 461.9,265.9 470.7,264.7 479.4,263.5 487.9,262.2 496.3,261.0 504.5,259.8 512.6,258.7 520.5,257.5 528.2,256.3 535.9,255.2 543.4,254.0 550.7,252.9 549.2,250.4 541.9,251.5 534.4,252.6 526.7,253.7 518.9,254.8 511.0,256.0 503.0,257.1 494.7,258.3 486.4,259.5 477.8,260.7 469.2,261.9 460.3,263.1 451.3,264.3 442.1,265.5 432.7,266.7 423.2,268.0 413.4,269.2" fill="#e13927"/><polygon points="414.3,270.7 424.0,269.5 433.5,268.2 442.9,267.0 452.1,265.7 461.1,264.5 469.9,263.3 478.6,262.1 487.1,260.9 495.5,259.7 503.7,258.5 511.8,257.3 519.7,256.2 527.5,255.0 535.1,253.9 542.6,252.8 550.0,251.6 548.5,249.1 541.1,250.2 533.6,251.3 526.0,252.4 518.2,253.5 510.3,254.6 502.2,255.8 494.0,256.9 485.6,258.1 477.1,259.3 468.4,260.5 459.5,261.7 450.5,262.9 441.3,264.1 431.9,265.3 422.4,266.5 412.6,267.7" fill="#e13927"/><polygon points="413.4,269.2 423.2,268.0 432.7,266.7 442.1,265.5 451.3,264.3 460.3,263.1 469.2,261.9 477.8,260.7 486.4,259.5 494.7,258.3 503.0,257.1 511.0,256.0 518.9,254.8 526.7,253.7 534.4,252.6 541.9,251.5 549.2,250.4 547.7,247.8 540.4,248.9 532.9,250.0 525.2,251.1 517.4,252.2 509.5,253.3 501.4,254.4 493.2,255.6 484.8,256.7 476.3,257.9 467.6,259.1 458.7,260.2 449.7,261.4 440.5,262.6 431.1,263.8 421.6,265.0 411.8,266.2" fill="#e03827"/><polygon points="412.6,267.7 422.4,266.5 431.9,265.3 441.3,264.1 450.5,262.9 459.5,261.7 468.4,260.5 477.1,259.3 485.6,258.1 494.0,256.9 502.2,255.8 510.3,254.6 518.2,253.5 526.0,252.4 533.6,251.3 541.1,250.2 548.5,249.1 547.0,246.5 539.6,247.6 532.1,248.7 524.5,249.8 516.7,250.9 508.7,252.0 500.7,253.1 492.4,254.2 484.0,255.4 475.5,256.5 466.8,257.7 457.9,258.8 448.9,260.0 439.7,261.2 430.3,262.4 420.7,263.6 411.0,264.8" fill="#e03827"/><polygon points="411.8,266.2 421.6,265.0 431.1,263.8 440.5,262.6 449.7,261.4 458.7,260.2 467.6,259.1 476.3,257.9 484.8,256.7 493.2,255.6 501.4,254.4 509.5,253.3 517.4,252.2 525.2,251.1 532.9,250.0 540.4,248.9 547.7,247.8 546.3,245.2 538.9,246.3 531.4,247.4 523.7,248.5 515.9,249.5 508.0,250.6 499.9,251.7 491.7,252.9 483.3,254.0 474.7,255.1 466.0,256.3 457.1,257.4 448.1,258.6 438.9,259.8 429.5,260.9 419.9,262.1 410.2,263.3" fill="#e03827"/><polygon points="411.0,264.8 420.7,263.6 430.3,262.4 439.7,261.2 448.9,260.0 457.9,258.8 466.8,257.7 475.5,256.5 484.0,255.4 492.4,254.2 500.7,253.1 508.7,252.0 516.7,250.9 524.5,249.8 532.1,248.7 539.6,247.6 547.0,246.5 545.5,244.0 538.2,245.0 530.6,246.1 523.0,247.1 515.2,248.2 507.2,249.3 499.1,250.4 490.9,251.5 482.5,252.6 473.9,253.7 465.2,254.9 456.4,256.0 447.3,257.2 438.1,258.3 428.7,259.5 419.1,260.6 409.4,261.8" fill="#e03827"/><polygon points="410.2,263.3 419.9,262.1 429.5,260.9 438.9,259.8 448.1,258.6 457.1,257.4 466.0,256.3 474.7,255.1 483.3,254.0 491.7,252.9 499.9,251.7 508.0,250.6 515.9,249.5 523.7,248.5 531.4,247.4 538.9,246.3 546.3,245.2 544.8,242.7 537.4,243.7 529.9,244.8 522.2,245.8 514.4,246.9 506.5,248.0 498.4,249.1 490.1,250.2 481.7,251.3 473.2,252.4 464.5,253.5 455.6,254.6 446.5,255.8 437.3,256.9 427.9,258.0 418.3,259.2 408.6,260.3" fill="#e03827"/><polygon points="409.4,261.8 419.1,260.6 428.7,259.5 438.1,258.3 447.3,257.2 456.4,256.0 465.2,254.9 473.9,253.7 482.5,252.6 490.9,251.5 499.1,250.4 507.2,249.3 515.2,248.2 523.0,247.1 530.6,246.1 538.2,245.0 545.5,244.0 544.1,241.4 536.7,242.5 529.2,243.5 521.5,244.5 513.7,245.6 505.7,246.7 497.6,247.7 489.4,248.8 481.0,249.9 472.4,251.0 463.7,252.1 454.8,253.2 445.7,254.3 436.5,255.5 427.1,256.6 417.5,257.7 407.8,258.9" fill="#df3727"/><polygon points="408.6,260.3 418.3,259.2 427.9,258.0 437.3,256.9 446.5,255.8 455.6,254.6 464.5,253.5 473.2,252.4 481.7,251.3 490.1,250.2 498.4,249.1 506.5,248.0 514.4,246.9 522.2,245.8 529.9,244.8 537.4,243.7 544.8,242.7 543.4,240.2 536.0,241.2 528.4,242.2 520.7,243.2 512.9,244.3 505.0,245.3 496.9,246.4 488.6,247.5 480.2,248.5 471.6,249.6 462.9,250.7 454.0,251.8 445.0,252.9 435.7,254.0 426.3,255.2 416.7,256.3 407.0,257.4" fill="#df3727"/><polygon points="407.8,258.9 417.5,257.7 427.1,256.6 436.5,255.5 445.7,254.3 454.8,253.2 463.7,252.1 472.4,251.0 481.0,249.9 489.4,248.8 497.6,247.7 505.7,246.7 513.7,245.6 521.5,244.5 529.2,243.5 536.7,242.5 544.1,241.4 542.6,238.9 535.2,239.9 527.7,240.9 520.0,241.9 512.2,243.0 504.2,244.0 496.1,245.1 487.9,246.1 479.4,247.2 470.9,248.3 462.1,249.3 453.2,250.4 444.2,251.5 434.9,252.6 425.5,253.7 415.9,254.8 406.2,255.9" fill="#df3727"/><polygon points="407.0,257.4 416.7,256.3 426.3,255.2 435.7,254.0 445.0,252.9 454.0,251.8 462.9,250.7 471.6,249.6 480.2,248.5 488.6,247.5 496.9,246.4 505.0,245.3 512.9,244.3 520.7,243.2 528.4,242.2 536.0,241.2 543.4,240.2 541.9,237.6 534.5,238.6 527.0,239.6 519.3,240.6 511.4,241.7 503.5,242.7 495.4,243.7 487.1,244.8 478.7,245.8 470.1,246.9 461.4,248.0 452.5,249.0 443.4,250.1 434.2,251.2 424.8,252.3 415.2,253.4 405.4,254.5" fill="#df3726"/><polygon points="406.2,255.9 415.9,254.8 425.5,253.7 434.9,252.6 444.2,251.5 453.2,250.4 462.1,249.3 470.9,248.3 479.4,247.2 487.9,246.1 496.1,245.1 504.2,244.0 512.2,243.0 520.0,241.9 527.7,240.9 535.2,239.9 542.6,238.9 541.2,236.4 533.8,237.4 526.2,238.4 518.5,239.4 510.7,240.4 502.7,241.4 494.6,242.4 486.4,243.4 477.9,244.5 469.3,245.5 460.6,246.6 451.7,247.6 442.6,248.7 433.4,249.8 424.0,250.9 414.4,251.9 404.6,253.0" fill="#df3726"/><polygon points="405.4,254.5 415.2,253.4 424.8,252.3 434.2,251.2 443.4,250.1 452.5,249.0 461.4,248.0 470.1,246.9 478.7,245.8 487.1,244.8 495.4,243.7 503.5,242.7 511.4,241.7 519.3,240.6 527.0,239.6 534.5,238.6 541.9,237.6 540.5,235.1 533.1,236.1 525.5,237.1 517.8,238.1 510.0,239.1 502.0,240.1 493.9,241.1 485.6,242.1 477.2,243.1 468.6,244.2 459.8,245.2 450.9,246.3 441.9,247.3 432.6,248.4 423.2,249.4 413.6,250.5 403.8,251.6" fill="#de3626"/><polygon points="404.6,253.0 414.4,251.9 424.0,250.9 433.4,249.8 442.6,248.7 451.7,247.6 460.6,246.6 469.3,245.5 477.9,244.5 486.4,243.4 494.6,242.4 502.7,241.4 510.7,240.4 518.5,239.4 526.2,238.4 533.8,237.4 541.2,236.4 539.8,233.9 532.3,234.8 524.8,235.8 517.1,236.8 509.2,237.8 501.3,238.8 493.1,239.8 484.9,240.8 476.4,241.8 467.8,242.8 459.1,243.8 450.2,244.9 441.1,245.9 431.8,247.0 422.4,248.0 412.8,249.1 403.0,250.1" fill="#de3626"/><polygon points="403.8,251.6 413.6,250.5 423.2,249.4 432.6,248.4 441.9,247.3 450.9,246.3 459.8,245.2 468.6,244.2 477.2,243.1 485.6,242.1 493.9,241.1 502.0,240.1 510.0,239.1 517.8,238.1 525.5,237.1 533.1,236.1 540.5,235.1 539.0,232.6 531.6,233.6 524.1,234.5 516.4,235.5 508.5,236.5 500.5,237.5 492.4,238.4 484.1,239.4 475.7,240.4 467.1,241.5 458.3,242.5 449.4,243.5 440.3,244.5 431.1,245.6 421.6,246.6 412.0,247.6 402.2,248.7" fill="#de3626"/><polygon points="403.0,250.1 412.8,249.1 422.4,248.0 431.8,247.0 441.1,245.9 450.2,244.9 459.1,243.8 467.8,242.8 476.4,241.8 484.9,240.8 493.1,239.8 501.3,238.8 509.2,237.8 517.1,236.8 524.8,235.8 532.3,234.8 539.8,233.9 538.3,231.4 530.9,232.3 523.3,233.3 515.6,234.2 507.8,235.2 499.8,236.1 491.7,237.1 483.4,238.1 474.9,239.1 466.3,240.1 457.6,241.1 448.7,242.1 439.6,243.1 430.3,244.2 420.9,245.2 411.2,246.2 401.4,247.2" fill="#dc3626"/><polygon points="402.2,248.7 412.0,247.6 421.6,246.6 431.1,245.6 440.3,244.5 449.4,243.5 458.3,242.5 467.1,241.5 475.7,240.4 484.1,239.4 492.4,238.4 500.5,237.5 508.5,236.5 516.4,235.5 524.1,234.5 531.6,233.6 539.0,232.6 537.6,230.1 530.2,231.0 522.6,232.0 514.9,232.9 507.1,233.9 499.1,234.8 490.9,235.8 482.6,236.8 474.2,237.8 465.6,238.8 456.8,239.7 447.9,240.7 438.8,241.8 429.5,242.8 420.1,243.8 410.5,244.8 400.7,245.8" fill="#d93526"/><polygon points="401.4,247.2 411.2,246.2 420.9,245.2 430.3,244.2 439.6,243.1 448.7,242.1 457.6,241.1 466.3,240.1 474.9,239.1 483.4,238.1 491.7,237.1 499.8,236.1 507.8,235.2 515.6,234.2 523.3,233.3 530.9,232.3 538.3,231.4 536.9,228.9 529.5,229.8 521.9,230.7 514.2,231.6 506.3,232.6 498.3,233.5 490.2,234.5 481.9,235.5 473.4,236.4 464.8,237.4 456.1,238.4 447.1,239.4 438.0,240.4 428.8,241.4 419.3,242.4 409.7,243.4 400.2,245.0" fill="#d63526"/><polygon points="400.7,245.8 410.5,244.8 420.1,243.8 429.5,242.8 438.8,241.8 447.9,240.7 456.8,239.7 465.6,238.8 474.2,237.8 482.6,236.8 490.9,235.8 499.1,234.8 507.1,233.9 514.9,232.9 522.6,232.0 530.2,231.0 537.6,230.1 536.2,227.6 528.8,228.5 521.2,229.4 513.5,230.4 505.6,231.3 497.6,232.2 489.5,233.2 481.2,234.1 472.7,235.1 464.1,236.1 455.3,237.0 446.4,238.0 437.3,239.0 428.0,240.0 418.6,241.0 408.9,242.0 400.2,245.0" fill="#d33426"/><polygon points="400.2,245.0 409.7,243.4 419.3,242.4 428.8,241.4 438.0,240.4 447.1,239.4 456.1,238.4 464.8,237.4 473.4,236.4 481.9,235.5 490.2,234.5 498.3,233.5 506.3,232.6 514.2,231.6 521.9,230.7 529.5,229.8 536.9,228.9 535.5,226.4 528.1,227.3 520.5,228.2 512.8,229.1 504.9,230.0 496.9,230.9 488.7,231.9 480.4,232.8 472.0,233.8 463.3,234.7 454.6,235.7 445.6,236.6 436.5,237.6 427.2,238.6 417.8,239.6 408.9,242.0 400.2,245.0" fill="#cd3326"/><polygon points="400.2,245.0 408.9,242.0 418.6,241.0 428.0,240.0 437.3,239.0 446.4,238.0 455.3,237.0 464.1,236.1 472.7,235.1 481.2,234.1 489.5,233.2 497.6,232.2 505.6,231.3 513.5,230.4 521.2,229.4 528.8,228.5 536.2,227.6 534.8,225.1 527.4,226.0 519.8,226.9 512.0,227.8 504.2,228.7 496.2,229.6 488.0,230.6 479.7,231.5 471.2,232.4 462.6,233.4 453.8,234.3 444.9,235.3 435.8,236.2 426.5,237.2 417.5,239.0 408.9,242.0 400.2,245.0" fill="#c53125"/><polygon points="400.2,245.0 408.9,242.0 417.8,239.6 427.2,238.6 436.5,237.6 445.6,236.6 454.6,235.7 463.3,234.7 472.0,233.8 480.4,232.8 488.7,231.9 496.9,230.9 504.9,230.0 512.8,229.1 520.5,228.2 528.1,227.3 535.5,226.4 534.1,223.9 526.7,224.8 519.1,225.7 511.3,226.6 503.5,227.5 495.4,228.4 487.3,229.3 479.0,230.2 470.5,231.1 461.9,232.0 453.1,233.0 444.1,233.9 435.0,234.9 425.9,236.1 417.5,239.0 408.9,242.0 400.2,245.0" fill="#be3025"/><polygon points="400.2,245.0 408.9,242.0 417.5,239.0 426.5,237.2 435.8,236.2 444.9,235.3 453.8,234.3 462.6,233.4 471.2,232.4 479.7,231.5 488.0,230.6 496.2,229.6 504.2,228.7 512.0,227.8 519.8,226.9 527.4,226.0 534.8,225.1 533.4,222.7 526.0,223.5 518.4,224.4 510.6,225.3 502.7,226.2 494.7,227.1 486.6,228.0 478.2,228.9 469.8,229.8 461.1,230.7 452.3,231.6 443.4,232.6 434.3,233.5 425.9,236.1 417.5,239.0 408.9,242.0 400.2,245.0" fill="#b62f24"/><polygon points="400.2,245.0 408.9,242.0 417.5,239.0 425.9,236.1 435.0,234.9 444.1,233.9 453.1,233.0 461.9,232.0 470.5,231.1 479.0,230.2 487.3,229.3 495.4,228.4 503.5,227.5 511.3,226.6 519.1,225.7 526.7,224.8 534.1,223.9 532.7,221.4 525.3,222.3 517.7,223.1 509.9,224.0 502.0,224.9 494.0,225.8 485.8,226.7 477.5,227.6 469.0,228.5 460.4,229.4 451.6,230.3 442.7,231.2 434.2,233.3 425.9,236.1 417.5,239.0 408.9,242.0 400.2,245.0" fill="#af2d24"/><polygon points="400.2,245.0 408.9,242.0 417.5,239.0 425.9,236.1 434.3,233.5 443.4,232.6 452.3,231.6 461.1,230.7 469.8,229.8 478.2,228.9 486.6,228.0 494.7,227.1 502.7,226.2 510.6,225.3 518.4,224.4 526.0,223.5 533.4,222.7 532.0,220.2 524.6,221.0 517.0,221.9 509.2,222.8 501.3,223.6 493.3,224.5 485.1,225.4 476.8,226.3 468.3,227.1 459.7,228.0 450.9,228.9 442.3,230.6 434.2,233.3 425.9,236.1 417.5,239.0 408.9,242.0 400.2,245.0" fill="#a72c24"/><polygon points="400.2,245.0 408.9,242.0 417.5,239.0 425.9,236.1 434.2,233.3 442.7,231.2 451.6,230.3 460.4,229.4 469.0,228.5 477.5,227.6 485.8,226.7 494.0,225.8 502.0,224.9 509.9,224.0 517.7,223.1 525.3,222.3 532.7,221.4 531.3,219.0 523.9,219.8 516.3,220.6 508.5,221.5 500.6,222.3 492.6,223.2 484.4,224.1 476.1,224.9 467.6,225.8 458.9,226.7 450.3,227.9 442.3,230.6 434.2,233.3 425.9,236.1 417.5,239.0 408.9,242.0 400.2,245.0" fill="#a02a23"/><polygon points="400.2,245.0 408.9,242.0 417.5,239.0 425.9,236.1 434.2,233.3 442.3,230.6 450.9,228.9 459.7,228.0 468.3,227.1 476.8,226.3 485.1,225.4 493.3,224.5 501.3,223.6 509.2,222.8 517.0,221.9 524.6,221.0 532.0,220.2 530.6,217.7 523.2,218.6 515.6,219.4 507.8,220.2 499.9,221.1 491.9,221.9 483.7,222.8 475.4,223.6 466.9,224.5 458.2,225.4 450.3,227.9 442.3,230.6 434.2,233.3 425.9,236.1 417.5,239.0 408.9,242.0 400.2,245.0" fill="#992923"/><polygon points="400.2,245.0 408.9,242.0 417.5,239.0 425.9,236.1 434.2,233.3 442.3,230.6 450.3,227.9 458.9,226.7 467.6,225.8 476.1,224.9 484.4,224.1 492.6,223.2 500.6,222.3 508.5,221.5 516.3,220.6 523.9,219.8 531.3,219.0 530.0,216.5 522.5,217.3 514.9,218.1 507.1,219.0 499.2,219.8 491.2,220.6 483.0,221.5 474.6,222.3 466.1,223.2 458.2,225.4 450.3,227.9 442.3,230.6 434.2,233.3 425.9,236.1 417.5,239.0 408.9,242.0 400.2,245.0" fill="#912722"/><polygon points="400.2,245.0 408.9,242.0 417.5,239.0 425.9,236.1 434.2,233.3 442.3,230.6 450.3,227.9 458.2,225.4 466.9,224.5 475.4,223.6 483.7,222.8 491.9,221.9 499.9,221.1 507.8,220.2 515.6,219.4 523.2,218.6 530.6,217.7 529.3,215.3 521.8,216.1 514.2,216.9 506.4,217.7 498.5,218.5 490.5,219.4 482.3,220.2 473.9,221.0 466.0,222.9 458.2,225.4 450.3,227.9 442.3,230.6 434.2,233.3 425.9,236.1 417.5,239.0 408.9,242.0 400.2,245.0" fill="#8a2622"/><polygon points="400.2,245.0 408.9,242.0 417.5,239.0 425.9,236.1 434.2,233.3 442.3,230.6 450.3,227.9 458.2,225.4 466.1,223.2 474.6,222.3 483.0,221.5 491.2,220.6 499.2,219.8 507.1,219.0 514.9,218.1 522.5,217.3 530.0,216.5 528.6,214.1 521.1,214.9 513.5,215.7 505.7,216.5 497.8,217.3 489.8,218.1 481.6,218.9 473.6,220.5 466.0,222.9 458.2,225.4 450.3,227.9 442.3,230.6 434.2,233.3 425.9,236.1 417.5,239.0 408.9,242.0 400.2,245.0" fill="#822421"/><polygon points="400.2,245.0 408.9,242.0 417.5,239.0 425.9,236.1 434.2,233.3 442.3,230.6 450.3,227.9 458.2,225.4 466.0,222.9 473.9,221.0 482.3,220.2 490.5,219.4 498.5,218.5 506.4,217.7 514.2,216.9 521.8,216.1 529.3,215.3 527.9,212.8 520.4,213.6 512.8,214.4 505.0,215.2 497.1,216.0 489.0,216.8 481.1,218.1 473.6,220.5 466.0,222.9 458.2,225.4 450.3,227.9 442.3,230.6 434.2,233.3 425.9,236.1 417.5,239.0 408.9,242.0 400.2,245.0" fill="#7b2321"/><polygon points="400.2,245.0 408.9,242.0 417.5,239.0 425.9,236.1 434.2,233.3 442.3,230.6 450.3,227.9 458.2,225.4 466.0,222.9 473.6,220.5 481.6,218.9 489.8,218.1 497.8,217.3 505.7,216.5 513.5,215.7 521.1,214.9 528.6,214.1 527.2,211.6 519.7,212.4 512.1,213.2 504.3,214.0 496.4,214.8 488.5,215.9 481.1,218.1 473.6,220.5 466.0,222.9 458.2,225.4 450.3,227.9 442.3,230.6 434.2,233.3 425.9,236.1 417.5,239.0 408.9,242.0 400.2,245.0" fill="#762220"/><polygon points="400.2,245.0 408.9,242.0 417.5,239.0 425.9,236.1 434.2,233.3 442.3,230.6 450.3,227.9 458.2,225.4 466.0,222.9 473.6,220.5 481.1,218.1 489.0,216.8 497.1,216.0 505.0,215.2 512.8,214.4 520.4,213.6 527.9,212.8 526.6,210.4 519.0,211.2 511.4,211.9 503.6,212.7 495.8,213.7 488.5,215.9 481.1,218.1 473.6,220.5 466.0,222.9 458.2,225.4 450.3,227.9 442.3,230.6 434.2,233.3 425.9,236.1 417.5,239.0 408.9,242.0 400.2,245.0" fill="#71201f"/><polygon points="400.2,245.0 408.9,242.0 417.5,239.0 425.9,236.1 434.2,233.3 442.3,230.6 450.3,227.9 458.2,225.4 466.0,222.9 473.6,220.5 481.1,218.1 488.5,215.9 496.4,214.8 504.3,214.0 512.1,213.2 519.7,212.4 527.2,211.6 525.9,209.2 518.4,209.9 510.7,210.7 503.0,211.5 495.8,213.7 488.5,215.9 481.1,218.1 473.6,220.5 466.0,222.9 458.2,225.4 450.3,227.9 442.3,230.6 434.2,233.3 425.9,236.1 417.5,239.0 408.9,242.0 400.2,245.0" fill="#6b1f1f"/><polygon points="400.2,245.0 408.9,242.0 417.5,239.0 425.9,236.1 434.2,233.3 442.3,230.6 450.3,227.9 458.2,225.4 466.0,222.9 473.6,220.5 481.1,218.1 488.5,215.9 495.8,213.7 503.6,212.7 511.4,211.9 519.0,211.2 526.6,210.4 525.2,208.0 517.7,208.7 510.0,209.5 503.0,211.5 495.8,213.7 488.5,215.9 481.1,218.1 473.6,220.5 466.0,222.9 458.2,225.4 450.3,227.9 442.3,230.6 434.2,233.3 425.9,236.1 417.5,239.0 408.9,242.0 400.2,245.0" fill="#661e1e"/><polygon points="400.2,245.0 408.9,242.0 417.5,239.0 425.9,236.1 434.2,233.3 442.3,230.6 450.3,227.9 458.2,225.4 466.0,222.9 473.6,220.5 481.1,218.1 488.5,215.9 495.8,213.7 503.0,211.5 510.7,210.7 518.4,209.9 525.9,209.2 524.5,206.7 517.0,207.5 510.0,209.5 503.0,211.5 495.8,213.7 488.5,215.9 481.1,218.1 473.6,220.5 466.0,222.9 458.2,225.4 450.3,227.9 442.3,230.6 434.2,233.3 425.9,236.1 417.5,239.0 408.9,242.0 400.2,245.0" fill="#611d1d"/><polygon points="400.2,245.0 408.9,242.0 417.5,239.0 425.9,236.1 434.2,233.3 442.3,230.6 450.3,227.9 458.2,225.4 466.0,222.9 473.6,220.5 481.1,218.1 488.5,215.9 495.8,213.7 503.0,211.5 510.0,209.5 517.7,208.7 525.2,208.0 523.9,205.5 517.0,207.5 510.0,209.5 503.0,211.5 495.8,213.7 488.5,215.9 481.1,218.1 473.6,220.5 466.0,222.9 458.2,225.4 450.3,227.9 442.3,230.6 434.2,233.3 425.9,236.1 417.5,239.0 408.9,242.0 400.2,245.0" fill="#5c1c1c"/><polygon points="400.2,245.0 408.9,242.0 417.5,239.0 425.9,236.1 434.2,233.3 442.3,230.6 450.3,227.9 458.2,225.4 466.0,222.9 473.6,220.5 481.1,218.1 488.5,215.9 495.8,213.7 503.0,211.5 510.0,209.5 517.0,207.5 524.5,206.7 523.9,205.5 517.0,207.5 510.0,209.5 503.0,211.5 495.8,213.7 488.5,215.9 481.1,218.1 473.6,220.5 466.0,222.9 458.2,225.4 450.3,227.9 442.3,230.6 434.2,233.3 425.9,236.1 417.5,239.0 408.9,242.0 400.2,245.0" fill="#571b1b"/></g>
<g fill="none" stroke="#3a3a3a" stroke-opacity="0.11" stroke-width="0.6"><polyline points="494.5,408.7 503.3,405.5 512.1,402.3 520.6,399.2 529.0,396.2 537.2,393.2 545.3,390.2 553.2,387.1 561.0,384.0 568.6,381.0 576.1,377.9 583.4,374.9 590.7,372.0 597.8,369.0 604.7,366.1 611.6,363.2 618.3,360.4"/><polyline points="484.9,393.0 493.8,389.9 502.5,386.7 511.1,383.7 519.5,380.7 527.7,377.8 535.8,374.9 543.7,371.9 551.5,368.9 559.1,366.0 566.6,363.1 574.0,360.2 581.2,357.4 588.3,354.6 595.3,351.9 602.1,349.2 608.9,346.5"/><polyline points="475.6,377.6 484.5,374.4 493.2,371.3 501.8,368.3 510.1,365.4 518.4,362.5 526.4,359.7 534.4,356.8 542.1,353.9 549.8,351.1 557.3,348.3 564.7,345.6 571.9,342.9 579.0,340.3 586.0,337.7 592.9,335.1 599.7,332.6"/><polyline points="466.5,362.3 475.4,359.1 484.1,356.1 492.6,353.1 501.0,350.2 509.2,347.4 517.3,344.6 525.2,341.8 533.0,339.0 540.7,336.3 548.2,333.6 555.6,331.0 562.8,328.4 569.9,325.9 577.0,323.4 583.8,321.0 590.6,318.6"/><polyline points="457.7,347.1 466.5,344.0 475.2,341.0 483.7,338.1 492.1,335.2 500.3,332.4 508.4,329.6 516.3,326.9 524.1,324.2 531.7,321.6 539.2,319.0 546.6,316.4 553.9,313.9 561.0,311.5 568.1,309.1 575.0,306.8 581.7,304.5"/><polyline points="448.9,332.1 457.8,329.1 466.4,326.1 475.0,323.1 483.3,320.3 491.5,317.5 499.6,314.8 507.5,312.1 515.3,309.5 523.0,306.9 530.5,304.4 537.9,301.9 545.1,299.5 552.3,297.1 559.3,294.8 566.2,292.6 573.0,290.4"/><polyline points="440.4,317.3 449.2,314.2 457.9,311.3 466.4,308.4 474.7,305.5 482.9,302.8 491.0,300.1 498.9,297.4 506.7,294.8 514.3,292.3 521.9,289.8 529.3,287.4 536.5,285.1 543.7,282.8 550.7,280.6 557.7,278.4 564.5,276.2"/><polyline points="432.1,302.6 440.8,299.5 449.5,296.6 458.0,293.7 466.3,290.9 474.5,288.1 482.6,285.4 490.5,282.8 498.3,280.3 505.9,277.8 513.4,275.4 520.8,273.0 528.1,270.7 535.3,268.5 542.3,266.3 549.3,264.2 556.1,262.1"/><polyline points="423.9,288.0 432.6,285.0 441.3,282.0 449.7,279.1 458.0,276.3 466.2,273.6 474.3,270.9 482.2,268.3 490.0,265.8 497.6,263.4 505.1,261.0 512.5,258.6 519.8,256.4 527.0,254.2 534.0,252.0 541.0,249.9 547.8,247.9"/><polyline points="415.8,273.6 424.6,270.5 433.2,267.6 441.6,264.7 449.9,261.9 458.1,259.2 466.1,256.5 474.1,253.9 481.8,251.4 489.5,249.0 497.0,246.6 504.4,244.3 511.7,242.1 518.9,239.9 525.9,237.8 532.9,235.8 539.7,233.8"/><polyline points="408.0,259.2 416.7,256.2 425.3,253.2 433.7,250.3 442.0,247.6 450.1,244.8 458.2,242.2 466.1,239.6 473.8,237.1 481.5,234.7 489.0,232.4 496.4,230.1 503.7,227.9 510.9,225.7 517.9,223.6 524.9,221.6 531.7,219.6"/><polyline points="527.5,415.9 522.6,408.1 517.8,400.2 513.0,392.4 508.3,384.7 503.6,377.0 498.9,369.3 494.3,361.7 489.8,354.1 485.3,346.6 480.9,339.0 476.5,331.6 472.1,324.1 467.8,316.7 463.6,309.3 459.3,302.0 455.2,294.6 451.0,287.3 446.9,280.1 442.9,272.8 438.8,265.6 434.8,258.5 430.9,251.3 427.0,244.2 423.1,237.1"/><polyline points="549.7,407.8 544.8,400.0 539.9,392.2 535.1,384.5 530.4,376.8 525.7,369.2 521.1,361.6 516.5,354.0 511.9,346.4 507.4,338.9 503.0,331.5 498.6,324.0 494.2,316.6 489.9,309.2 485.6,301.9 481.4,294.5 477.2,287.2 473.0,279.9 468.9,272.7 464.8,265.5 460.8,258.3 456.8,251.1 452.8,243.9 448.9,236.8 445.0,229.7"/><polyline points="570.7,399.3 565.8,391.6 561.0,384.0 556.2,376.5 551.5,368.9 546.8,361.4 542.1,353.9 537.6,346.5 533.0,339.0 528.5,331.6 524.1,324.2 519.7,316.8 515.3,309.5 511.0,302.1 506.7,294.8 502.5,287.5 498.3,280.3 494.1,273.0 490.0,265.8 485.9,258.6 481.8,251.4 477.8,244.3 473.8,237.1 469.9,230.0 466.0,222.9"/><polyline points="590.7,390.7 585.8,383.3 581.0,375.9 576.2,368.6 571.5,361.2 566.8,353.8 562.2,346.5 557.6,339.2 553.1,331.9 548.6,324.6 544.2,317.3 539.8,310.0 535.4,302.7 531.1,295.5 526.8,288.2 522.6,281.0 518.4,273.8 514.2,266.6 510.1,259.4 506.0,252.2 501.9,245.1 497.9,237.9 493.9,230.8 490.0,223.7 486.1,216.6"/><polyline points="609.7,382.3 604.9,375.2 600.1,368.0 595.3,360.9 590.6,353.7 586.0,346.6 581.4,339.4 576.8,332.2 572.3,325.1 567.8,317.9 563.4,310.7 559.0,303.5 554.6,296.4 550.3,289.2 546.1,282.0 541.8,274.9 537.6,267.7 533.5,260.6 529.4,253.5 525.3,246.3 521.2,239.2 517.2,232.1 513.2,225.0 509.3,217.9 505.4,210.8"/></g>
<g fill="none" stroke="#2a2a2a" stroke-opacity="0.55" stroke-width="0.65"><polyline points="489.3,400.3 498.4,397.4 507.3,394.6 516.0,391.8 524.6,389.0 533.0,386.3 541.2,383.7 549.4,381.2 557.6,378.7 565.6,376.3 573.5,373.9 581.3,371.6 588.9,369.3 596.5,367.1 603.9,364.9 611.2,362.7 618.5,360.6"/><polyline points="475.3,377.0 484.6,374.5 493.6,372.0 502.5,369.5 511.2,367.1 519.7,364.7 528.1,362.3 536.4,360.1 544.6,357.8 552.6,355.6 560.5,353.5 568.3,351.4 576.0,349.3 583.5,347.3 590.9,345.3 598.2,343.3 605.4,341.4"/><polyline points="462.1,354.7 471.5,352.5 480.6,350.2 489.6,348.1 498.4,345.9 507.1,343.8 515.6,341.7 524.0,339.7 532.2,337.7 540.3,335.7 548.3,333.8 556.1,331.9 563.8,330.0 571.3,328.1 578.8,326.3 586.1,324.5 593.3,322.7"/><polyline points="449.5,333.2 459.0,331.2 468.3,329.3 477.4,327.4 486.3,325.5 495.1,323.6 503.7,321.7 512.1,319.9 520.4,318.1 528.6,316.4 536.6,314.6 544.5,312.9 552.2,311.2 559.8,309.6 567.3,307.9 574.7,306.3 581.9,304.7"/><polyline points="437.6,312.4 447.2,310.7 456.6,309.0 465.8,307.3 474.8,305.6 483.6,304.0 492.3,302.4 500.9,300.8 509.2,299.2 517.5,297.6 525.5,296.1 533.5,294.5 541.3,293.0 548.9,291.5 556.4,290.1 563.8,288.6 571.1,287.2"/><polyline points="426.3,292.3 435.9,290.8 445.4,289.3 454.7,287.9 463.8,286.4 472.7,285.0 481.5,283.6 490.1,282.1 498.5,280.7 506.8,279.4 515.0,278.0 522.9,276.6 530.8,275.3 538.5,274.0 546.1,272.7 553.5,271.4 560.8,270.1"/><polyline points="415.4,272.8 425.1,271.5 434.7,270.3 444.0,269.0 453.2,267.7 462.2,266.5 471.1,265.2 479.7,264.0 488.2,262.8 496.6,261.6 504.8,260.4 512.9,259.2 520.8,258.0 528.5,256.9 536.2,255.7 543.7,254.6 551.0,253.4"/><polyline points="405.1,253.9 414.8,252.8 424.4,251.7 433.9,250.6 443.1,249.6 452.2,248.5 461.1,247.4 469.8,246.3 478.4,245.3 486.8,244.2 495.1,243.2 503.2,242.2 511.2,241.1 519.0,240.1 526.7,239.1 534.2,238.1 541.6,237.1"/><polyline points="400.2,245.0 408.9,242.0 417.5,239.0 425.9,236.1 434.2,233.3 442.5,230.9 451.5,230.0 460.3,229.1 468.9,228.2 477.4,227.3 485.7,226.4 493.9,225.5 501.9,224.6 509.8,223.8 517.5,222.9 525.1,222.0 532.6,221.2"/></g>
<line x1="405.5" y1="373.9" x2="399.2" y2="220.7" stroke="#3d55c4" stroke-width="1.40" />
<line x1="405.5" y1="373.9" x2="504.2" y2="424.5" stroke="#111" stroke-width="1.60" stroke-linecap="square"/><line x1="504.2" y1="424.5" x2="627.8" y2="379.0" stroke="#111" stroke-width="1.60" stroke-linecap="square"/><line x1="504.2" y1="424.5" x2="500.7" y2="425.8" stroke="#111" stroke-width="1.10" /><line x1="481.6" y1="412.9" x2="479.6" y2="413.6" stroke="#111" stroke-width="1.10" /><line x1="460.5" y1="402.1" x2="457.2" y2="403.3" stroke="#111" stroke-width="1.10" /><line x1="441.0" y1="392.1" x2="439.0" y2="392.7" stroke="#111" stroke-width="1.10" /><line x1="422.7" y1="382.7" x2="419.4" y2="383.7" stroke="#111" stroke-width="1.10" /><line x1="504.2" y1="424.5" x2="506.5" y2="425.8" stroke="#111" stroke-width="1.10" /><line x1="527.5" y1="415.9" x2="529.0" y2="416.6" stroke="#111" stroke-width="1.10" /><line x1="549.7" y1="407.8" x2="552.1" y2="408.9" stroke="#111" stroke-width="1.10" /><line x1="570.7" y1="400.0" x2="572.1" y2="400.6" stroke="#111" stroke-width="1.10" /><line x1="590.6" y1="392.6" x2="593.1" y2="393.6" stroke="#111" stroke-width="1.10" /><line x1="609.6" y1="385.6" x2="611.1" y2="386.2" stroke="#111" stroke-width="1.10" /><line x1="627.8" y1="379.0" x2="630.2" y2="379.8" stroke="#111" stroke-width="1.10" />
<text transform="translate(401.8,381.6) rotate(-2) scale(0.93,1)" font-size="14.2" fill="#3d55c4" text-anchor="end">0</text>
<line x1="404.1" y1="338.0" x2="400.7" y2="338.2" stroke="#3d55c4" stroke-width="1.1"/>
<text transform="translate(400.3,345.0) rotate(-2) scale(0.93,1)" font-size="14.2" fill="#3d55c4" text-anchor="end">3</text>
<line x1="402.6" y1="301.8" x2="399.2" y2="302.0" stroke="#3d55c4" stroke-width="1.1"/>
<text transform="translate(398.8,308.8) rotate(-2) scale(0.93,1)" font-size="14.2" fill="#3d55c4" text-anchor="end">6</text>
<line x1="401.0" y1="263.0" x2="397.6" y2="263.2" stroke="#3d55c4" stroke-width="1.1"/>
<text transform="translate(397.2,270.0) rotate(-2) scale(0.93,1)" font-size="14.2" fill="#3d55c4" text-anchor="end">9</text>
<line x1="399.3" y1="221.6" x2="395.9" y2="221.8" stroke="#3d55c4" stroke-width="1.1"/>
<text transform="translate(395.5,228.6) rotate(-2) scale(0.93,1)" font-size="14.2" fill="#3d55c4" text-anchor="end">12</text>
<text transform="translate(378.6,337) rotate(-92.3)" font-size="13.4" fill="#3d55c4">ΔC/C<tspan font-size="8.8" dy="2.6">0</tspan><tspan dy="-2.6"> (%)</tspan></text>
<text transform="matrix(0.8094,0.4663,-1.4248,0.4566,413.62,411.09)" font-size="10" fill="#111" text-anchor="middle" y="0.0">Pressure (Pa)</text>
<text transform="matrix(1.2665,-0.3721,1.1718,0.6076,419.24,383.71)" font-size="10" fill="#111" text-anchor="end" y="3.4">200</text>
<text transform="matrix(1.2546,-0.4104,1.1718,0.6076,457.02,403.30)" font-size="10" fill="#111" text-anchor="end" y="3.4">100</text>
<text transform="matrix(1.2384,-0.4570,1.1718,0.6076,500.58,425.88)" font-size="10" fill="#111" text-anchor="end" y="3.4">0</text>
<text transform="matrix(1.1195,-0.4438,1.2182,0.5225,596.29,411.99)" font-size="10" fill="#111" text-anchor="middle" y="0.0">Temperature (°C)</text>
<text transform="matrix(1.2442,0.6418,-1.0502,0.3893,504.11,426.04)" font-size="10" fill="#111" text-anchor="start" y="3.4">20</text>
<text transform="matrix(1.2745,0.5794,-1.0502,0.3893,549.78,409.11)" font-size="10" fill="#111" text-anchor="start" y="3.4">25</text>
<text transform="matrix(1.2970,0.5271,-1.0502,0.3893,590.92,393.86)" font-size="10" fill="#111" text-anchor="start" y="3.4">30</text>
<text transform="matrix(1.3142,0.4827,-1.0502,0.3893,628.18,380.05)" font-size="10" fill="#111" text-anchor="start" y="3.4">35</text>
<rect x="642.3" y="229.5" width="14.2" height="138.4" fill="url(#cm)" stroke="#111" stroke-width="1.4"/><line x1="656.5" y1="229.8" x2="660.1" y2="229.8" stroke="#111" stroke-width="1.1"/><text transform="translate(666.1,234.8) scale(0.950,1)" font-size="16.2" fill="#111">12</text><line x1="656.5" y1="264.7" x2="660.1" y2="264.7" stroke="#111" stroke-width="1.1"/><text transform="translate(666.1,269.7) scale(0.950,1)" font-size="16.2" fill="#111">9</text><line x1="656.5" y1="299.2" x2="660.1" y2="299.2" stroke="#111" stroke-width="1.1"/><text transform="translate(666.1,304.2) scale(0.950,1)" font-size="16.2" fill="#111">6</text><line x1="656.5" y1="332.9" x2="660.1" y2="332.9" stroke="#111" stroke-width="1.1"/><text transform="translate(666.1,337.9) scale(0.950,1)" font-size="16.2" fill="#111">3</text><line x1="656.5" y1="367.7" x2="660.1" y2="367.7" stroke="#111" stroke-width="1.1"/><text transform="translate(666.1,372.7) scale(0.950,1)" font-size="16.2" fill="#111">0</text><text transform="translate(649.4,222.2) scale(0.87,1)" font-size="16.5" fill="#111" text-anchor="middle">%</text>
</g>
</svg>
</body></html>
